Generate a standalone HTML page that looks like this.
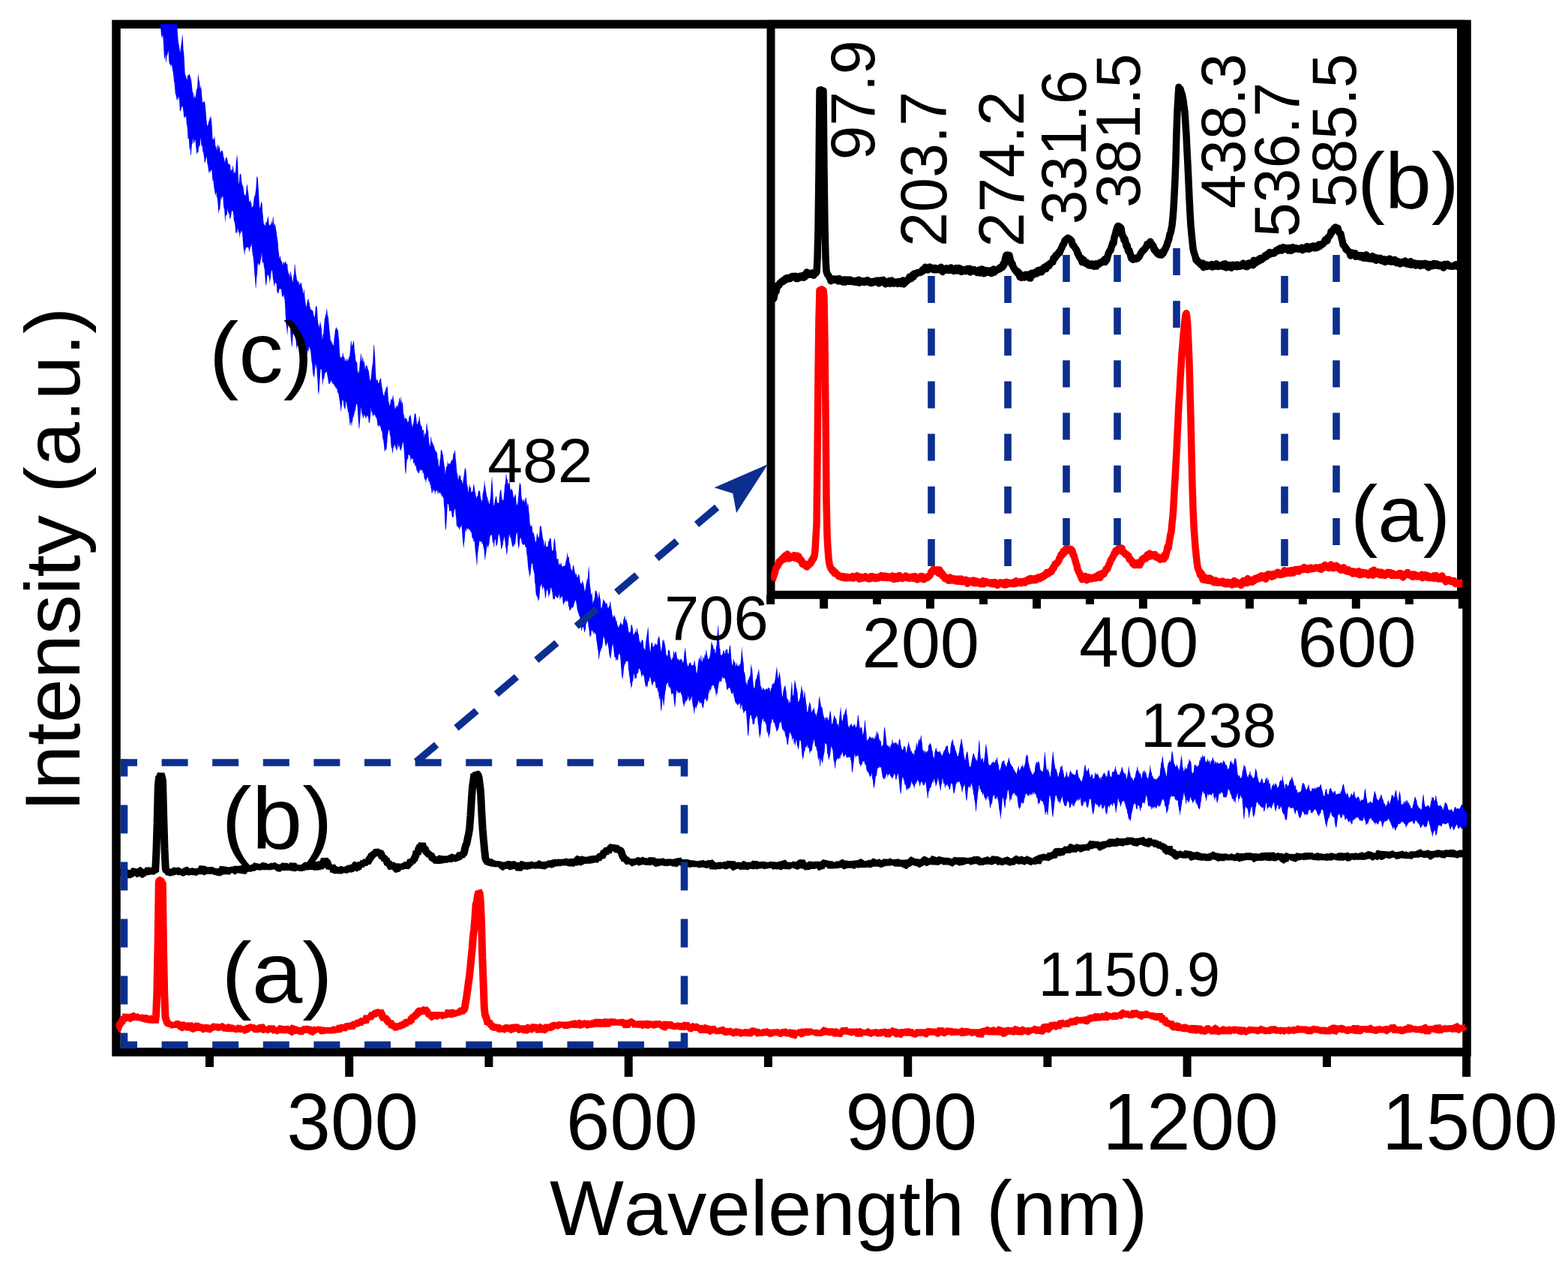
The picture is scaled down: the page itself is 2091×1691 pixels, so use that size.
<!DOCTYPE html>
<html><head><meta charset="utf-8"><title>Raman spectra</title>
<style>html,body{margin:0;padding:0;background:#fff;width:2091px;height:1691px;overflow:hidden}svg{display:block}</style>
</head><body>
<svg width="2091" height="1691" viewBox="0 0 2091 1691">
<defs><clipPath id="cm"><rect x="155" y="32.3" width="1801" height="1370.7"/></clipPath><clipPath id="ci"><rect x="1028" y="32.3" width="922.3" height="761.0"/></clipPath></defs>
<rect width="100%" height="100%" fill="#fff"/>
<rect x="155" y="32.3" width="1801" height="1370.7" fill="none" stroke="#000" stroke-width="11.5"/>
<rect x="1028" y="32.3" width="920.5" height="761.0" fill="none" stroke="#000" stroke-width="11"/>
<g stroke="#000" stroke-width="11"><line x1="279.5" y1="1403" x2="279.5" y2="1423"/><line x1="465.7" y1="1403" x2="465.7" y2="1436"/><line x1="651.9" y1="1403" x2="651.9" y2="1423"/><line x1="838.2" y1="1403" x2="838.2" y2="1436"/><line x1="1024.4" y1="1403" x2="1024.4" y2="1423"/><line x1="1210.7" y1="1403" x2="1210.7" y2="1436"/><line x1="1396.9" y1="1403" x2="1396.9" y2="1423"/><line x1="1583.1" y1="1403" x2="1583.1" y2="1436"/><line x1="1769.4" y1="1403" x2="1769.4" y2="1423"/><line x1="1955.6" y1="1403" x2="1955.6" y2="1436"/><line x1="1027.6" y1="793.3" x2="1027.6" y2="805.9"/><line x1="1098.6" y1="793.3" x2="1098.6" y2="811.6"/><line x1="1169.5" y1="793.3" x2="1169.5" y2="805.9"/><line x1="1240.5" y1="793.3" x2="1240.5" y2="811.6"/><line x1="1311.5" y1="793.3" x2="1311.5" y2="805.9"/><line x1="1382.5" y1="793.3" x2="1382.5" y2="811.6"/><line x1="1453.4" y1="793.3" x2="1453.4" y2="805.9"/><line x1="1524.4" y1="793.3" x2="1524.4" y2="811.6"/><line x1="1595.4" y1="793.3" x2="1595.4" y2="805.9"/><line x1="1666.4" y1="793.3" x2="1666.4" y2="811.6"/><line x1="1737.3" y1="793.3" x2="1737.3" y2="805.9"/><line x1="1808.3" y1="793.3" x2="1808.3" y2="811.6"/><line x1="1879.3" y1="793.3" x2="1879.3" y2="805.9"/><line x1="1950.3" y1="793.3" x2="1950.3" y2="811.6"/></g>
<g clip-path="url(#cm)" fill="none" stroke-linejoin="bevel">
<path d="M205 -93.6L205.6 -94.7L206.2 -99.6L206.8 -91.8L207.4 -90.9L208 -88.9L208.6 -87.7L209.2 -89.8L209.8 -89.9L210.4 -82.1L211 -84.6L211.6 -73.2L212.2 -63.8L212.8 -56.7L213.4 -50.4L214 -44.3L214.6 -51.8L215.2 -57.3L215.8 -55.1L216.4 -58.5L217 -52.3L217.6 -39.6L218.2 -23.4L218.8 -19.1L219.4 -15.2L220 -12.5L220.6 -8.8L221.2 -10.5L221.8 -6.2L222.4 -0.1L223 -2.9L223.6 -4.3L224.2 -1.2L224.8 5.1L225.4 6.1L226 8.2L226.6 11.4L227.2 14.5L227.8 13.2L228.4 16.1L229 16.6L229.6 9.4L230.2 2L230.8 -0.1L231.4 -5.9L232 -5.3L232.6 0.3L233.2 15.8L233.8 23.5L234.4 32.7L235 24.5L235.6 21.1L236.2 31.2L236.8 42.6L237.4 51L238 57.3L238.6 59.7L239.2 63L239.8 67.3L240.4 70L241 62.9L241.6 59.7L242.2 55.2L242.8 49.4L243.4 45.2L244 54.5L244.6 66.7L245.2 70.7L245.8 78.9L246.4 93.8L247 101.4L247.6 98.6L248.2 103.3L248.8 104.4L249.4 107.2L250 99.9L250.6 101.8L251.2 98.9L251.8 100.7L252.4 97.8L253 100.4L253.6 101L254.2 104.3L254.8 105.5L255.4 109.1L256 115.1L256.6 122L257.2 123L257.8 124.7L258.4 130.5L259 130L259.6 125.4L260.2 128.3L260.8 132L261.4 124.2L262 118.9L262.6 118.8L263.2 116.7L263.8 103.7L264.4 97.4L265 104.6L265.6 107.6L266.2 110L266.8 117.8L267.4 117.7L268 113.3L268.6 119.4L269.2 126.4L269.8 133.9L270.4 137.6L271 136.3L271.6 135.3L272.2 135.2L272.8 135.2L273.4 138.1L274 142.9L274.6 150L275.2 158.8L275.8 163.5L276.4 168.4L277 167L277.6 166L278.2 161.3L278.8 162.3L279.4 156.3L280 160.5L280.6 154.9L281.2 154.9L281.8 158.4L282.4 163.6L283 175.1L283.6 185.6L284.2 186.5L284.8 184L285.4 186.4L286 180.7L286.6 184.5L287.2 193.4L287.8 196.6L288.4 193.8L289 201.3L289.6 197.2L290.2 193.3L290.8 192.5L291.4 199.2L292 194L292.6 194.9L293.2 198.6L293.8 203.8L294.4 203L295 200.9L295.6 200.8L296.2 201.4L296.8 201L297.4 203.7L298 208.7L298.6 209.8L299.2 213.1L299.8 216.7L300.4 213.8L301 209.5L301.6 210.2L302.2 209.9L302.8 210.9L303.4 213.7L304 217.5L304.6 218.2L305.2 219.5L305.8 218.6L306.4 220.4L307 218.1L307.6 228.5L308.2 227.1L308.8 225.5L309.4 227.4L310 224L310.6 219.9L311.2 224.5L311.8 232.6L312.4 226.9L313 230.8L313.6 230.8L314.2 226.7L314.8 216.8L315.4 210.7L316 205.6L316.6 210.4L317.2 219.6L317.8 234.7L318.4 246.6L319 241L319.6 232.9L320.2 231.6L320.8 232.4L321.4 232.2L322 239.5L322.6 244.4L323.2 246L323.8 247.9L324.4 248.9L325 253.6L325.6 259.3L326.2 260.3L326.8 258.4L327.4 262.1L328 258.3L328.6 250.3L329.2 247L329.8 245.3L330.4 252L331 256.6L331.6 260.3L332.2 267.6L332.8 269.3L333.4 268.5L334 265.5L334.6 271.6L335.2 269.5L335.8 276.9L336.4 276.5L337 274.5L337.6 274.9L338.2 269.5L338.8 263.7L339.4 261.6L340 261.3L340.6 256.8L341.2 253L341.8 244.9L342.4 233.9L343 237L343.6 235.7L344.2 244.8L344.8 252.2L345.4 264.1L346 274L346.6 278.1L347.2 275.5L347.8 271.9L348.4 270.1L349 268.6L349.6 272.6L350.2 282.3L350.8 287.9L351.4 295.6L352 300.3L352.6 298.2L353.2 301.1L353.8 300.4L354.4 296.2L355 295.8L355.6 297.2L356.2 294.1L356.8 291.1L357.4 287.5L358 291.7L358.6 298.4L359.2 299.5L359.8 301.3L360.4 299.4L361 299.9L361.6 296.6L362.2 293.2L362.8 299.3L363.4 296.7L364 288.9L364.6 289.7L365.2 297.8L365.8 301.5L366.4 298L367 299.8L367.6 302.7L368.2 306.8L368.8 309.7L369.4 314.9L370 318.8L370.6 322.5L371.2 332.7L371.8 336.3L372.4 342.8L373 345L373.6 340.3L374.2 343L374.8 347.9L375.4 348.2L376 347.9L376.6 352.4L377.2 352.9L377.8 349.8L378.4 349.8L379 349.5L379.6 352.7L380.2 348.4L380.8 348.5L381.4 350L382 351.7L382.6 352.4L383.2 351.4L383.8 360L384.4 361.9L385 365.6L385.6 364.8L386.2 370L386.8 364.8L387.4 361.6L388 363.9L388.6 367.7L389.2 369L389.8 373.7L390.4 376.6L391 371.4L391.6 366.4L392.2 365.5L392.8 352.9L393.4 352.5L394 359.6L394.6 364.8L395.2 367.5L395.8 372.6L396.4 373.8L397 376.5L397.6 374.7L398.2 374.4L398.8 378.5L399.4 380.8L400 376.2L400.6 378.9L401.2 376.2L401.8 378L402.4 380.1L403 384.5L403.6 385L404.2 391.1L404.8 390.7L405.4 384.9L406 389.1L406.6 397.2L407.2 401.9L407.8 405L408.4 410.1L409 406.6L409.6 403.3L410.2 398.3L410.8 400.8L411.4 397.8L412 403.7L412.6 402.7L413.2 410.3L413.8 408.2L414.4 414.2L415 411.6L415.6 413.8L416.2 412.8L416.8 414.9L417.4 414.6L418 418.2L418.6 420.9L419.2 423.3L419.8 421.9L420.4 415.3L421 408.6L421.6 408.2L422.2 409L422.8 409.5L423.4 419.8L424 429.2L424.6 432.8L425.2 433.6L425.8 437.1L426.4 432.3L427 427.4L427.6 432.1L428.2 434.3L428.8 438.2L429.4 446.7L430 453.5L430.6 445.8L431.2 445.8L431.8 438.7L432.4 430.6L433 424.3L433.6 423.1L434.2 419L434.8 418.9L435.4 412.9L436 411.6L436.6 417.9L437.2 422L437.8 422.2L438.4 429.6L439 435.9L439.6 441.9L440.2 447.6L440.8 454.1L441.4 455.8L442 452.5L442.6 457.8L443.2 456.9L443.8 459.7L444.4 460.4L445 459.9L445.6 451L446.2 447.2L446.8 441.8L447.4 437.6L448 439.3L448.6 435.3L449.2 438L449.8 438.8L450.4 440.1L451 442.4L451.6 449.3L452.2 453.8L452.8 465.9L453.4 474.1L454 477.8L454.6 476.3L455.2 477.3L455.8 474.4L456.4 476.5L457 471L457.6 470.5L458.2 475.9L458.8 475.5L459.4 476.8L460 482.5L460.6 479.5L461.2 478L461.8 480.9L462.4 482.3L463 476.8L463.6 481.4L464.2 477.8L464.8 481.3L465.4 474.3L466 477.4L466.6 470.9L467.2 465.4L467.8 455.3L468.4 454.3L469 458.8L469.6 461.8L470.2 459.5L470.8 456.8L471.4 453.9L472 455.6L472.6 464.5L473.2 470.8L473.8 473.6L474.4 482.5L475 480.5L475.6 483.6L476.2 483.3L476.8 494.4L477.4 495.1L478 498.3L478.6 495.8L479.2 493L479.8 483.6L480.4 481.6L481 471.8L481.6 471.4L482.2 478.4L482.8 482.5L483.4 475.5L484 475.8L484.6 482.9L485.2 481.6L485.8 483.1L486.4 486.5L487 493.6L487.6 488.8L488.2 486.8L488.8 487.6L489.4 488.3L490 489.3L490.6 492.3L491.2 493.1L491.8 495.2L492.4 500.6L493 503.7L493.6 507L494.2 508L494.8 503L495.4 497.7L496 490.4L496.6 486.5L497.2 484.4L497.8 470L498.4 460.8L499 459.4L499.6 469.8L500.2 476.9L500.8 492.4L501.4 503.1L502 508.5L502.6 506.2L503.2 506.3L503.8 507.1L504.4 511.3L505 511.1L505.6 509.7L506.2 505L506.8 507.5L507.4 504.8L508 503.7L508.6 510.1L509.2 515.8L509.8 517.5L510.4 522.2L511 526.1L511.6 526.8L512.2 528.4L512.8 523.6L513.4 521.9L514 521L514.6 517.7L515.2 515.3L515.8 517.6L516.4 513.7L517 519.3L517.6 528.3L518.2 536L518.8 536.2L519.4 540.8L520 540.4L520.6 536.8L521.2 531.9L521.8 532.4L522.4 533.3L523 532.7L523.6 528.4L524.2 526.6L524.8 532.3L525.4 534.3L526 539.4L526.6 544.3L527.2 545.7L527.8 541.6L528.4 543.8L529 541.3L529.6 539.4L530.2 543.3L530.8 540.1L531.4 537.4L532 534.2L532.6 529.9L533.2 531.5L533.8 536.7L534.4 533.1L535 527.6L535.6 539L536.2 536.3L536.8 536.6L537.4 541L538 553L538.6 551.7L539.2 555.7L539.8 560.5L540.4 556.2L541 557.6L541.6 558.1L542.2 559.7L542.8 558.3L543.4 562.7L544 562.5L544.6 562.8L545.2 557.5L545.8 554.6L546.4 556.3L547 552.4L547.6 553.8L548.2 557.5L548.8 563.7L549.4 565.9L550 570.3L550.6 566L551.2 565.8L551.8 559.7L552.4 555.3L553 551L553.6 551.9L554.2 550.9L554.8 554.5L555.4 559.8L556 565.4L556.6 566.1L557.2 563.8L557.8 561.4L558.4 561.8L559 554.5L559.6 555.9L560.2 562.5L560.8 566.7L561.4 566.5L562 568.9L562.6 568.4L563.2 573.7L563.8 574.3L564.4 572.6L565 573.8L565.6 584L566.2 579.4L566.8 576.3L567.4 579.1L568 578.8L568.6 566.2L569.2 564L569.8 567.8L570.4 574.5L571 573.5L571.6 582.6L572.2 589.5L572.8 593.5L573.4 595.4L574 590L574.6 581.7L575.2 583.8L575.8 589.8L576.4 589.1L577 590.9L577.6 592.4L578.2 595.8L578.8 592.3L579.4 597.8L580 599.4L580.6 600.4L581.2 601.7L581.8 602.8L582.4 602.7L583 604.2L583.6 613.1L584.2 611L584.8 618.6L585.4 622.2L586 621.4L586.6 614L587.2 611.7L587.8 601.8L588.4 598.8L589 601L589.6 601.6L590.2 606.3L590.8 605.5L591.4 613L592 616.1L592.6 622.1L593.2 623.1L593.8 633.2L594.4 627.5L595 623.5L595.6 620.9L596.2 622.9L596.8 614.3L597.4 618.3L598 617.8L598.6 619L599.2 617L599.8 620.1L600.4 618.1L601 616.8L601.6 615L602.2 613.7L602.8 613.4L603.4 613.4L604 610.3L604.6 604.9L605.2 604.7L605.8 603.7L606.4 600.6L607 601L607.6 610.9L608.2 616.1L608.8 623.2L609.4 630.9L610 631.3L610.6 637.4L611.2 640.3L611.8 634.1L612.4 633L613 636.2L613.6 634.5L614.2 632.4L614.8 640.4L615.4 640.1L616 640.9L616.6 644.3L617.2 645L617.8 638.7L618.4 635.6L619 631.2L619.6 626L620.2 624.4L620.8 624.1L621.4 627.4L622 632.6L622.6 644.8L623.2 647.7L623.8 648.9L624.4 654.9L625 656.5L625.6 645.5L626.2 646.4L626.8 650.9L627.4 648.6L628 651.6L628.6 657.3L629.2 654.9L629.8 656.1L630.4 654.7L631 649.5L631.6 645.5L632.2 646.1L632.8 650.5L633.4 655.2L634 656.7L634.6 660.6L635.2 665.3L635.8 662L636.4 661.4L637 661.8L637.6 656.9L638.2 653.9L638.8 654.5L639.4 655.3L640 654.1L640.6 661.1L641.2 664.4L641.8 666.7L642.4 667.1L643 670.1L643.6 658.9L644.2 657.1L644.8 653.3L645.4 649.2L646 639.2L646.6 646.1L647.2 649.1L647.8 652.7L648.4 656.8L649 661L649.6 662.8L650.2 663.8L650.8 668.5L651.4 666.4L652 672.3L652.6 671.2L653.2 669.5L653.8 664.6L654.4 659.8L655 646.4L655.6 641.1L656.2 635.1L656.8 648.3L657.4 657.3L658 669.4L658.6 674.9L659.2 672.8L659.8 668L660.4 665.4L661 663.2L661.6 660.7L662.2 663.3L662.8 668.2L663.4 671.2L664 670.2L664.6 670.8L665.2 671L665.8 663.7L666.4 658.1L667 654.3L667.6 653.7L668.2 652.5L668.8 659.3L669.4 664.1L670 667.7L670.6 665.5L671.2 668.3L671.8 662.3L672.4 656.3L673 647.2L673.6 645.8L674.2 639.9L674.8 632.1L675.4 633L676 638.8L676.6 638.7L677.2 642.3L677.8 646.9L678.4 644.3L679 643.7L679.6 643.1L680.2 649.8L680.8 653.4L681.4 653.8L682 651.4L682.6 651.9L683.2 654.3L683.8 655.6L684.4 660.5L685 663.7L685.6 663.5L686.2 661.1L686.8 659.7L687.4 658.2L688 663.1L688.6 671L689.2 672.5L689.8 673.9L690.4 670.6L691 663.9L691.6 657.7L692.2 650L692.8 644.2L693.4 644L694 645.6L694.6 647.1L695.2 659.1L695.8 664.7L696.4 666.6L697 667.8L697.6 669L698.2 665.7L698.8 665.6L699.4 668.9L700 669.7L700.6 664.9L701.2 663.2L701.8 663.9L702.4 669L703 676.4L703.6 670.9L704.2 671.3L704.8 675.4L705.4 682.6L706 687.8L706.6 698L707.2 700L707.8 702.2L708.4 702.2L709 699.1L709.6 702.1L710.2 710L710.8 709.6L711.4 710.6L712 711.9L712.6 714.7L713.2 716.5L713.8 722L714.4 723L715 721.1L715.6 715.1L716.2 710.7L716.8 712.3L717.4 714.8L718 716.7L718.6 717.1L719.2 713.5L719.8 703.2L720.4 700.5L721 702.3L721.6 701.2L722.2 706L722.8 709.8L723.4 714.1L724 718.2L724.6 720.6L725.2 721.5L725.8 728.8L726.4 726.8L727 720.2L727.6 722.2L728.2 728.5L728.8 729.8L729.4 728L730 729.2L730.6 728.2L731.2 722.5L731.8 721.5L732.4 721.1L733 717.6L733.6 717.9L734.2 718.3L734.8 718.9L735.4 727L736 732.3L736.6 734.9L737.2 734.5L737.8 732.5L738.4 724L739 718.2L739.6 717.9L740.2 720.9L740.8 728.1L741.4 733.7L742 736.9L742.6 746.2L743.2 744.9L743.8 746L744.4 744.3L745 754.3L745.6 750.4L746.2 753L746.8 752.2L747.4 753.2L748 750.1L748.6 751.1L749.2 754.9L749.8 754.6L750.4 756.2L751 755L751.6 754.8L752.2 754.4L752.8 754.6L753.4 754.7L754 751.6L754.6 748.4L755.2 746L755.8 744.5L756.4 736.1L757 740.1L757.6 742.8L758.2 742.6L758.8 743.7L759.4 750.9L760 750.5L760.6 753.5L761.2 758.1L761.8 759.5L762.4 759L763 762.4L763.6 757.3L764.2 753.1L764.8 754.5L765.4 755.6L766 759.6L766.6 762.4L767.2 767.9L767.8 763.6L768.4 766.1L769 765.2L769.6 771.2L770.2 767.5L770.8 770.2L771.4 764.9L772 766.2L772.6 767.1L773.2 772.1L773.8 776.4L774.4 777.5L775 779.2L775.6 778L776.2 776L776.8 773.7L777.4 777.1L778 777.8L778.6 780.8L779.2 784.4L779.8 789.2L780.4 786.8L781 783.1L781.6 778.9L782.2 776.4L782.8 772.1L783.4 773.4L784 768.3L784.6 759.6L785.2 754.8L785.8 761.7L786.4 776.5L787 782.2L787.6 785.9L788.2 794.1L788.8 791.5L789.4 790L790 796.5L790.6 806L791.2 800.9L791.8 802.1L792.4 799.2L793 796.4L793.6 788.6L794.2 787.4L794.8 787.4L795.4 788.2L796 791.2L796.6 792L797.2 795.4L797.8 798.4L798.4 793.7L799 788.1L799.6 792.4L800.2 797.5L800.8 799.5L801.4 809L802 812L802.6 809.8L803.2 806.3L803.8 803.8L804.4 797.9L805 801.2L805.6 800.2L806.2 801.2L806.8 802.8L807.4 805.9L808 803.5L808.6 803.7L809.2 805L809.8 806.1L810.4 809.4L811 811.5L811.6 810.1L812.2 808L812.8 808.5L813.4 802.9L814 801.4L814.6 806.9L815.2 811.9L815.8 813.1L816.4 820.1L817 820.6L817.6 823.9L818.2 822.1L818.8 821.2L819.4 819.9L820 822.8L820.6 823.4L821.2 826L821.8 828.7L822.4 827.8L823 832.1L823.6 834.1L824.2 835.5L824.8 836.8L825.4 835.9L826 833.8L826.6 833.1L827.2 831.6L827.8 828.6L828.4 833.3L829 830L829.6 833L830.2 833.9L830.8 831.7L831.4 825.5L832 825.9L832.6 822.3L833.2 820.6L833.8 824.5L834.4 827.9L835 826.6L835.6 825.9L836.2 831.4L836.8 830.3L837.4 835.5L838 839.8L838.6 843.5L839.2 842.7L839.8 844.2L840.4 842.3L841 840.5L841.6 832.8L842.2 833.8L842.8 832.9L843.4 836.5L844 838.9L844.6 848.2L845.2 844.5L845.8 845.9L846.4 843.8L847 843.2L847.6 838.4L848.2 843.2L848.8 842.9L849.4 837.3L850 838.3L850.6 843L851.2 845.5L851.8 846.1L852.4 852.7L853 855.4L853.6 856.8L854.2 854.8L854.8 858.8L855.4 854.7L856 853.7L856.6 852.7L857.2 853.6L857.8 855.9L858.4 864L859 864.9L859.6 865.1L860.2 867.9L860.8 860.1L861.4 855.1L862 850.6L862.6 847.1L863.2 843.1L863.8 838.3L864.4 835.8L865 846.4L865.6 857.7L866.2 861.1L866.8 868.3L867.4 868.7L868 861.5L868.6 857.6L869.2 856.7L869.8 857.3L870.4 860L871 863.3L871.6 862.2L872.2 861.4L872.8 860.8L873.4 856.9L874 859.4L874.6 859L875.2 859.1L875.8 860.8L876.4 859.1L877 853.7L877.6 850.6L878.2 850.5L878.8 847.4L879.4 850L880 854.3L880.6 860.9L881.2 864.6L881.8 869.2L882.4 865.6L883 859.9L883.6 852.9L884.2 853L884.8 856L885.4 852.4L886 856.6L886.6 859L887.2 862.3L887.8 866.2L888.4 873.2L889 873L889.6 874.9L890.2 875.6L890.8 868.2L891.4 866L892 867.7L892.6 866.7L893.2 868.9L893.8 876L894.4 876.7L895 879.1L895.6 880.6L896.2 879.3L896.8 876.1L897.4 878L898 870.1L898.6 868.1L899.2 870.1L899.8 873.5L900.4 869.4L901 869.7L901.6 868.3L902.2 872.2L902.8 876L903.4 879.4L904 878.5L904.6 877.9L905.2 880.2L905.8 881.2L906.4 878.4L907 880.5L907.6 879L908.2 879.4L908.8 877.8L909.4 882.3L910 879.6L910.6 884.5L911.2 883L911.8 880.4L912.4 870.6L913 868.8L913.6 864L914.2 865.1L914.8 872.6L915.4 878.1L916 883.7L916.6 885.8L917.2 888.7L917.8 888.3L918.4 886.9L919 882.8L919.6 885.6L920.2 884.6L920.8 882.8L921.4 883.9L922 887.7L922.6 887.1L923.2 887.5L923.8 886.7L924.4 886.8L925 886.4L925.6 881.8L926.2 880.4L926.8 883.3L927.4 888.4L928 888.5L928.6 897.1L929.2 897.7L929.8 895.2L930.4 888.6L931 884L931.6 880L932.2 878.4L932.8 875.5L933.4 879.9L934 879.9L934.6 873L935.2 874.8L935.8 882.8L936.4 881.9L937 879.7L937.6 874.6L938.2 878.3L938.8 878.5L939.4 874.6L940 871.5L940.6 875.5L941.2 870L941.8 865.6L942.4 870.1L943 872.8L943.6 876L944.2 879L944.8 879L945.4 878.2L946 877.2L946.6 874.7L947.2 871.5L947.8 865.8L948.4 858.5L949 854L949.6 858.6L950.2 860.4L950.8 860.3L951.4 864L952 866.4L952.6 865.1L953.2 866L953.8 870.6L954.4 871.6L955 862.4L955.6 861.2L956.2 848.7L956.8 843L957.4 835.5L958 833.4L958.6 845.5L959.2 856.1L959.8 865.1L960.4 865.3L961 874.4L961.6 872.8L962.2 873.6L962.8 874.1L963.4 872.5L964 870.2L964.6 866.6L965.2 867.9L965.8 867.7L966.4 872.6L967 870.7L967.6 867L968.2 866.6L968.8 865.6L969.4 866.4L970 865.1L970.6 871.1L971.2 872.4L971.8 870.7L972.4 865.2L973 860.7L973.6 860.4L974.2 862.8L974.8 871.7L975.4 878.9L976 884.4L976.6 886.5L977.2 887.7L977.8 879.5L978.4 878.8L979 882.5L979.6 882.8L980.2 882.7L980.8 888.9L981.4 887.2L982 882.7L982.6 885.5L983.2 888.8L983.8 887L984.4 885.5L985 889L985.6 888.3L986.2 886.7L986.8 885L987.4 885.6L988 879.9L988.6 871.1L989.2 861.4L989.8 869.8L990.4 874.9L991 880.7L991.6 883.9L992.2 896.3L992.8 896.2L993.4 898.4L994 903L994.6 910.8L995.2 909.1L995.8 912.6L996.4 913.8L997 908.4L997.6 906.7L998.2 906.2L998.8 904.6L999.4 901.2L1000 904.1L1000.6 897.9L1001.2 888.9L1001.8 885.1L1002.4 891.1L1003 891.1L1003.6 897.7L1004.2 907.7L1004.8 914.3L1005.4 916.7L1006 918.5L1006.6 916L1007.2 909.1L1007.8 906.4L1008.4 905.1L1009 905.1L1009.6 900.1L1010.2 900.3L1010.8 896L1011.4 895.6L1012 890.4L1012.6 898.4L1013.2 903.4L1013.8 910.6L1014.4 914.7L1015 915.3L1015.6 917.3L1016.2 920.5L1016.8 919.5L1017.4 916.6L1018 918.1L1018.6 918.3L1019.2 919.1L1019.8 920.3L1020.4 920.1L1021 920.3L1021.6 918L1022.2 918.1L1022.8 918.8L1023.4 919.6L1024 918.3L1024.6 916.8L1025.2 917.3L1025.8 916.9L1026.4 918.1L1027 923.7L1027.6 920.1L1028.2 917.7L1028.8 918L1029.4 913.4L1030 911L1030.6 912.7L1031.2 912.7L1031.8 910.1L1032.4 911.7L1033 908.5L1033.6 906.3L1034.2 901.1L1034.8 896.8L1035.4 892.3L1036 888.7L1036.6 895.2L1037.2 901L1037.8 905.2L1038.4 902.5L1039 897.2L1039.6 895.9L1040.2 900.2L1040.8 905.3L1041.4 912.2L1042 917.3L1042.6 922.9L1043.2 929.3L1043.8 928.3L1044.4 921.4L1045 919.9L1045.6 916.9L1046.2 915.7L1046.8 914.1L1047.4 915L1048 918.9L1048.6 922.2L1049.2 929.2L1049.8 932.3L1050.4 932.5L1051 932.3L1051.6 938.8L1052.2 932.3L1052.8 935.3L1053.4 938.1L1054 934.5L1054.6 924.6L1055.2 916.2L1055.8 908.2L1056.4 913.7L1057 925.4L1057.6 928.7L1058.2 925.6L1058.8 917.7L1059.4 910.3L1060 905.3L1060.6 910.4L1061.2 910.9L1061.8 917.2L1062.4 917.8L1063 922.3L1063.6 923.5L1064.2 935.6L1064.8 936L1065.4 935.1L1066 932.2L1066.6 932.1L1067.2 926.6L1067.8 923L1068.4 917.1L1069 913.2L1069.6 919.4L1070.2 919.9L1070.8 923.2L1071.4 930.5L1072 929.7L1072.6 921.5L1073.2 921.9L1073.8 927.3L1074.4 931.5L1075 938.1L1075.6 940.6L1076.2 948.1L1076.8 949.9L1077.4 948.3L1078 942.5L1078.6 941.6L1079.2 937.6L1079.8 935.7L1080.4 938.5L1081 939.8L1081.6 944.4L1082.2 950.5L1082.8 948.5L1083.4 947.5L1084 945.9L1084.6 946.5L1085.2 943.1L1085.8 945.3L1086.4 947.7L1087 953.5L1087.6 951.4L1088.2 950.5L1088.8 956.2L1089.4 951.8L1090 948.9L1090.6 945.5L1091.2 942.5L1091.8 933.2L1092.4 931.3L1093 927.6L1093.6 933.9L1094.2 936.6L1094.8 941.2L1095.4 942.6L1096 943.7L1096.6 944.1L1097.2 947.9L1097.8 952.6L1098.4 954.6L1099 956.4L1099.6 957.8L1100.2 961L1100.8 955.9L1101.4 956.7L1102 957.3L1102.6 957.6L1103.2 955.2L1103.8 958.4L1104.4 959.9L1105 960.8L1105.6 956L1106.2 952.4L1106.8 948.5L1107.4 948.1L1108 951.3L1108.6 957.8L1109.2 964.7L1109.8 966.2L1110.4 963.4L1111 960.4L1111.6 957.8L1112.2 952.9L1112.8 955.4L1113.4 955.8L1114 957.3L1114.6 958.3L1115.2 958.6L1115.8 962.5L1116.4 966.9L1117 965.2L1117.6 964.8L1118.2 970.3L1118.8 963.8L1119.4 956.4L1120 951L1120.6 947L1121.2 941.4L1121.8 951L1122.4 957.4L1123 961.7L1123.6 960.9L1124.2 958.1L1124.8 951.3L1125.4 953L1126 953.4L1126.6 948.9L1127.2 948.2L1127.8 945.6L1128.4 943.5L1129 949.7L1129.6 953.7L1130.2 957.8L1130.8 965.6L1131.4 969.2L1132 967.3L1132.6 970.7L1133.2 968.5L1133.8 966.5L1134.4 966.3L1135 966.4L1135.6 963.7L1136.2 969L1136.8 967.7L1137.4 969.2L1138 967L1138.6 966.9L1139.2 964.1L1139.8 967.6L1140.4 966.9L1141 968.8L1141.6 970.7L1142.2 968.6L1142.8 965.5L1143.4 959.9L1144 953.7L1144.6 953.6L1145.2 958.1L1145.8 963.4L1146.4 969.7L1147 972.4L1147.6 968.9L1148.2 971.6L1148.8 968.7L1149.4 970.7L1150 974.9L1150.6 980.2L1151.2 978.2L1151.8 974.9L1152.4 970.4L1153 962.7L1153.6 959.3L1154.2 966.1L1154.8 973.5L1155.4 977.6L1156 986.4L1156.6 988.2L1157.2 985.1L1157.8 986.2L1158.4 985.5L1159 982.4L1159.6 982.2L1160.2 983.3L1160.8 981.8L1161.4 984.2L1162 984.9L1162.6 983.2L1163.2 982.7L1163.8 984L1164.4 986.2L1165 982.7L1165.6 985.3L1166.2 985.8L1166.8 982.6L1167.4 979.4L1168 984.9L1168.6 978.5L1169.2 974.2L1169.8 976.4L1170.4 979.8L1171 976.6L1171.6 980L1172.2 984.3L1172.8 986.4L1173.4 986.5L1174 988.6L1174.6 987.8L1175.2 992.3L1175.8 996.4L1176.4 993.8L1177 995.1L1177.6 992.1L1178.2 984.2L1178.8 973.6L1179.4 969.9L1180 969.6L1180.6 975.5L1181.2 979.5L1181.8 984.8L1182.4 990.7L1183 994.2L1183.6 993.7L1184.2 994.2L1184.8 995.7L1185.4 996.2L1186 992.5L1186.6 996.6L1187.2 997.7L1187.8 993.8L1188.4 992.9L1189 992.1L1189.6 986.9L1190.2 985.3L1190.8 992.5L1191.4 990.2L1192 990.4L1192.6 990.9L1193.2 992.1L1193.8 989.8L1194.4 990.4L1195 989L1195.6 992.4L1196.2 992.3L1196.8 990.6L1197.4 994.8L1198 992.7L1198.6 988.6L1199.2 985L1199.8 986.8L1200.4 985.6L1201 992.6L1201.6 994.3L1202.2 997.7L1202.8 999.1L1203.4 1000.8L1204 999.2L1204.6 998.2L1205.2 995.1L1205.8 995.2L1206.4 995.2L1207 996L1207.6 997L1208.2 1002.2L1208.8 1004.5L1209.4 1000.1L1210 995.8L1210.6 993.9L1211.2 991.5L1211.8 988.1L1212.4 993L1213 994.8L1213.6 996.9L1214.2 998.3L1214.8 1002.2L1215.4 1001.5L1216 1001.5L1216.6 1005.2L1217.2 1005L1217.8 1003.9L1218.4 1005.1L1219 1008L1219.6 1000.3L1220.2 1000.5L1220.8 1000.5L1221.4 995.9L1222 990.7L1222.6 990.8L1223.2 997.6L1223.8 993.1L1224.4 990.8L1225 986.7L1225.6 987.4L1226.2 983.4L1226.8 988.8L1227.4 985.8L1228 980.4L1228.6 981.3L1229.2 987.7L1229.8 991.3L1230.4 999.4L1231 1000.6L1231.6 1001.4L1232.2 1000.9L1232.8 1005L1233.4 999.7L1234 1002.6L1234.6 1002.6L1235.2 1004.7L1235.8 1000.9L1236.4 1002.7L1237 1001.2L1237.6 1001.8L1238.2 993.4L1238.8 993.5L1239.4 993.5L1240 990.1L1240.6 992.1L1241.2 991.9L1241.8 993.5L1242.4 996.3L1243 1001.5L1243.6 1000.3L1244.2 1006.4L1244.8 1009.7L1245.4 1011.2L1246 1008.6L1246.6 1002.7L1247.2 1000.4L1247.8 998.3L1248.4 997.1L1249 999.5L1249.6 1001.7L1250.2 1002.7L1250.8 1002L1251.4 1003L1252 1002.8L1252.6 1002.5L1253.2 1000.8L1253.8 1002.7L1254.4 1004.4L1255 1004.5L1255.6 1006.4L1256.2 1008.1L1256.8 1006.9L1257.4 1005.1L1258 1003.6L1258.6 1001.3L1259.2 1001.3L1259.8 999.9L1260.4 998.8L1261 996.7L1261.6 994.7L1262.2 994.7L1262.8 995.4L1263.4 993.5L1264 995.7L1264.6 1001.8L1265.2 1003.2L1265.8 1005.2L1266.4 1005.6L1267 1005L1267.6 996.8L1268.2 992.9L1268.8 988.9L1269.4 989L1270 985.2L1270.6 986.4L1271.2 989.3L1271.8 993.9L1272.4 993.5L1273 995.2L1273.6 997.2L1274.2 1001.2L1274.8 1000.4L1275.4 1003.8L1276 1005.1L1276.6 1008.7L1277.2 1008.1L1277.8 1007.9L1278.4 1004.7L1279 1003.1L1279.6 998.5L1280.2 993.8L1280.8 991.7L1281.4 988.5L1282 984.4L1282.6 985.8L1283.2 990.4L1283.8 994.5L1284.4 997.4L1285 1003L1285.6 1007.5L1286.2 1010.5L1286.8 1013.3L1287.4 1013.8L1288 1008L1288.6 1004.9L1289.2 1003.1L1289.8 1002.2L1290.4 1002.9L1291 1008L1291.6 1012.9L1292.2 1016.9L1292.8 1021.2L1293.4 1022.4L1294 1023.3L1294.6 1021.1L1295.2 1018.1L1295.8 1014.1L1296.4 1011.3L1297 1007.8L1297.6 1005.2L1298.2 1004.6L1298.8 1004.4L1299.4 1007.8L1300 1009.1L1300.6 1011.1L1301.2 1012.8L1301.8 1012.3L1302.4 1013.5L1303 1015.5L1303.6 1011.1L1304.2 1004.2L1304.8 999.6L1305.4 987.6L1306 987.6L1306.6 993L1307.2 1004L1307.8 1010L1308.4 1014.6L1309 1010.6L1309.6 1012.6L1310.2 1010.4L1310.8 1011.6L1311.4 1016.7L1312 1016.3L1312.6 1011.4L1313.2 1007L1313.8 1001.4L1314.4 994.1L1315 992.2L1315.6 995.8L1316.2 1000.3L1316.8 1004.7L1317.4 1009.2L1318 1015.8L1318.6 1019.8L1319.2 1020.5L1319.8 1019.3L1320.4 1021.6L1321 1019.6L1321.6 1019.9L1322.2 1017.6L1322.8 1017.5L1323.4 1015.7L1324 1017.5L1324.6 1016.1L1325.2 1014.8L1325.8 1017.1L1326.4 1017.8L1327 1016.2L1327.6 1012.9L1328.2 1014.3L1328.8 1012.9L1329.4 1008.9L1330 1011.6L1330.6 1016.1L1331.2 1020L1331.8 1018.8L1332.4 1025.6L1333 1027.7L1333.6 1026.8L1334.2 1024.1L1334.8 1023.2L1335.4 1018.7L1336 1017.5L1336.6 1015.6L1337.2 1014.5L1337.8 1015.7L1338.4 1014.6L1339 1012.8L1339.6 1017.3L1340.2 1020.6L1340.8 1018.8L1341.4 1020.2L1342 1023.8L1342.6 1020.8L1343.2 1017.1L1343.8 1016.8L1344.4 1013.8L1345 1011.7L1345.6 1009.4L1346.2 1014.5L1346.8 1015.5L1347.4 1018.7L1348 1017.9L1348.6 1021L1349.2 1020.4L1349.8 1022.3L1350.4 1022.6L1351 1023.5L1351.6 1025.6L1352.2 1025.9L1352.8 1027.8L1353.4 1028.2L1354 1030L1354.6 1029.5L1355.2 1033.1L1355.8 1030.9L1356.4 1028.4L1357 1025.1L1357.6 1024L1358.2 1020L1358.8 1024.3L1359.4 1028.8L1360 1025.9L1360.6 1025.6L1361.2 1024.7L1361.8 1021.5L1362.4 1021.6L1363 1022.9L1363.6 1019.9L1364.2 1019.6L1364.8 1024.8L1365.4 1023.5L1366 1021.4L1366.6 1019.3L1367.2 1017.5L1367.8 1010.8L1368.4 1007.2L1369 1007.5L1369.6 1008L1370.2 1005.6L1370.8 1009.8L1371.4 1015.7L1372 1018.6L1372.6 1020.7L1373.2 1023.7L1373.8 1025.3L1374.4 1027.6L1375 1029.3L1375.6 1029.6L1376.2 1032.8L1376.8 1032.2L1377.4 1032.4L1378 1032.4L1378.6 1030.4L1379.2 1029.8L1379.8 1029.1L1380.4 1021.9L1381 1019.4L1381.6 1018.1L1382.2 1016L1382.8 1016.2L1383.4 1018.4L1384 1015.6L1384.6 1015.6L1385.2 1015.8L1385.8 1016.7L1386.4 1018.5L1387 1024.5L1387.6 1027.3L1388.2 1027.6L1388.8 1026.9L1389.4 1029L1390 1028.5L1390.6 1028.9L1391.2 1026.4L1391.8 1019.8L1392.4 1010.6L1393 1006.5L1393.6 1001.3L1394.2 1008.9L1394.8 1016.7L1395.4 1022.8L1396 1026.2L1396.6 1028.1L1397.2 1024.4L1397.8 1025.9L1398.4 1028.9L1399 1029.1L1399.6 1032.1L1400.2 1036.3L1400.8 1034.8L1401.4 1029.5L1402 1024L1402.6 1015.9L1403.2 1010.4L1403.8 1004.3L1404.4 1001.2L1405 1008.1L1405.6 1013.2L1406.2 1018.2L1406.8 1021L1407.4 1025.7L1408 1024.4L1408.6 1025.7L1409.2 1029.3L1409.8 1029.3L1410.4 1033.2L1411 1035.9L1411.6 1035.2L1412.2 1030.5L1412.8 1031.1L1413.4 1027.2L1414 1023.6L1414.6 1022.4L1415.2 1021.9L1415.8 1022L1416.4 1019.5L1417 1026.7L1417.6 1026.4L1418.2 1030.4L1418.8 1032.6L1419.4 1038.2L1420 1035.3L1420.6 1036.5L1421.2 1034L1421.8 1030.3L1422.4 1027.7L1423 1033.1L1423.6 1034.6L1424.2 1035.7L1424.8 1036.8L1425.4 1035.4L1426 1032.4L1426.6 1030.1L1427.2 1026.4L1427.8 1029.1L1428.4 1029.7L1429 1029.7L1429.6 1032.5L1430.2 1031.8L1430.8 1031.5L1431.4 1033.2L1432 1033.2L1432.6 1031.9L1433.2 1033.5L1433.8 1034L1434.4 1031.2L1435 1028L1435.6 1025.7L1436.2 1026.8L1436.8 1026.2L1437.4 1030.4L1438 1033.1L1438.6 1036.7L1439.2 1037.2L1439.8 1037.5L1440.4 1039.5L1441 1040.7L1441.6 1041L1442.2 1041.6L1442.8 1043L1443.4 1038.7L1444 1035.7L1444.6 1034.6L1445.2 1030.1L1445.8 1025L1446.4 1021.6L1447 1019.6L1447.6 1021.1L1448.2 1025.2L1448.8 1027.2L1449.4 1029.1L1450 1028L1450.6 1026.8L1451.2 1024.2L1451.8 1024.2L1452.4 1029.1L1453 1032.6L1453.6 1033.6L1454.2 1036.1L1454.8 1036.3L1455.4 1032.7L1456 1032.3L1456.6 1032.5L1457.2 1034.9L1457.8 1039.6L1458.4 1037.8L1459 1038.3L1459.6 1034.9L1460.2 1031.5L1460.8 1029.6L1461.4 1034.2L1462 1030.5L1462.6 1033.2L1463.2 1032.9L1463.8 1030.5L1464.4 1034L1465 1033.6L1465.6 1036.4L1466.2 1037.8L1466.8 1037.7L1467.4 1035.4L1468 1040.9L1468.6 1036.1L1469.2 1036L1469.8 1036.3L1470.4 1034L1471 1032.1L1471.6 1031.8L1472.2 1031.6L1472.8 1029.4L1473.4 1031.4L1474 1032.4L1474.6 1035.6L1475.2 1033.3L1475.8 1037L1476.4 1035.2L1477 1029.6L1477.6 1027.7L1478.2 1027.7L1478.8 1026.8L1479.4 1028.1L1480 1033.3L1480.6 1034.9L1481.2 1035.9L1481.8 1036.3L1482.4 1035.1L1483 1030.2L1483.6 1028.8L1484.2 1029.6L1484.8 1029.6L1485.4 1029.2L1486 1026.3L1486.6 1027.1L1487.2 1021.8L1487.8 1022.9L1488.4 1026.7L1489 1028.6L1489.6 1029.8L1490.2 1033.1L1490.8 1033.2L1491.4 1031.8L1492 1033.6L1492.6 1033.5L1493.2 1032.2L1493.8 1030L1494.4 1029.4L1495 1027.2L1495.6 1024.5L1496.2 1022.3L1496.8 1023.7L1497.4 1026.3L1498 1029.2L1498.6 1030.5L1499.2 1030.2L1499.8 1032.7L1500.4 1030.6L1501 1032.9L1501.6 1033.9L1502.2 1039.4L1502.8 1037.2L1503.4 1034.6L1504 1030.6L1504.6 1026.9L1505.2 1020.9L1505.8 1024.7L1506.4 1029.8L1507 1030.6L1507.6 1034.1L1508.2 1036.6L1508.8 1037L1509.4 1036.6L1510 1038.4L1510.6 1039L1511.2 1041L1511.8 1040.8L1512.4 1037.9L1513 1037.4L1513.6 1036.4L1514.2 1033L1514.8 1029.9L1515.4 1027.5L1516 1027L1516.6 1022.1L1517.2 1022.7L1517.8 1028.1L1518.4 1029.2L1519 1027.4L1519.6 1032.5L1520.2 1032L1520.8 1030.9L1521.4 1032.9L1522 1039.2L1522.6 1036.2L1523.2 1033.5L1523.8 1028.4L1524.4 1031L1525 1028.2L1525.6 1027.7L1526.2 1027.1L1526.8 1032L1527.4 1029.3L1528 1029L1528.6 1031.9L1529.2 1035.5L1529.8 1036.7L1530.4 1037.5L1531 1038.8L1531.6 1035L1532.2 1031.4L1532.8 1029.7L1533.4 1023.8L1534 1019L1534.6 1026.7L1535.2 1029.2L1535.8 1030.1L1536.4 1034.8L1537 1036.2L1537.6 1033.8L1538.2 1038.9L1538.8 1037.5L1539.4 1039.2L1540 1038.9L1540.6 1038.9L1541.2 1037.3L1541.8 1040.7L1542.4 1039.6L1543 1037.3L1543.6 1038.2L1544.2 1037.4L1544.8 1035L1545.4 1035.6L1546 1035.4L1546.6 1033.4L1547.2 1026.1L1547.8 1023.5L1548.4 1016.4L1549 1016.7L1549.6 1010.9L1550.2 1010.8L1550.8 1006.5L1551.4 1016.8L1552 1020.7L1552.6 1024.3L1553.2 1024.9L1553.8 1028.8L1554.4 1030.3L1555 1033.3L1555.6 1036.3L1556.2 1031.1L1556.8 1022.8L1557.4 1020.1L1558 1017.2L1558.6 1017L1559.2 1015.7L1559.8 1012.4L1560.4 1015.9L1561 1016.7L1561.6 1012.6L1562.2 1005.9L1562.8 1001.8L1563.4 1001.8L1564 1005.8L1564.6 1009.3L1565.2 1014L1565.8 1018.6L1566.4 1018.7L1567 1020.4L1567.6 1023.3L1568.2 1021.8L1568.8 1021L1569.4 1018.5L1570 1021.6L1570.6 1022L1571.2 1025.4L1571.8 1024.2L1572.4 1028L1573 1024.1L1573.6 1021.7L1574.2 1015.5L1574.8 1012.1L1575.4 1006L1576 1010.8L1576.6 1014.4L1577.2 1023.6L1577.8 1023.6L1578.4 1028.6L1579 1027.9L1579.6 1026.3L1580.2 1020.2L1580.8 1025.7L1581.4 1024.8L1582 1024.2L1582.6 1026L1583.2 1023.3L1583.8 1019L1584.4 1018.5L1585 1018.1L1585.6 1012.7L1586.2 1011.8L1586.8 1015.2L1587.4 1014.4L1588 1015.2L1588.6 1018.3L1589.2 1027.6L1589.8 1031.3L1590.4 1031.2L1591 1030.3L1591.6 1029.8L1592.2 1024.6L1592.8 1019.5L1593.4 1020L1594 1020.1L1594.6 1020.2L1595.2 1021.7L1595.8 1020.4L1596.4 1022.5L1597 1022.8L1597.6 1021.5L1598.2 1020.2L1598.8 1020.2L1599.4 1014.9L1600 1012.4L1600.6 1015.4L1601.2 1009.8L1601.8 1009.2L1602.4 1012.1L1603 1008.4L1603.6 1005.9L1604.2 1009.4L1604.8 1009.8L1605.4 1008.2L1606 1008.1L1606.6 1008.5L1607.2 1013L1607.8 1017.3L1608.4 1014.3L1609 1016.8L1609.6 1014.2L1610.2 1013.4L1610.8 1010.7L1611.4 1016.2L1612 1015.5L1612.6 1014.6L1613.2 1013.4L1613.8 1019.4L1614.4 1017.1L1615 1014.5L1615.6 1014L1616.2 1014.9L1616.8 1009.6L1617.4 1010.2L1618 1011.5L1618.6 1014.7L1619.2 1013.3L1619.8 1020L1620.4 1015.2L1621 1015.4L1621.6 1016.8L1622.2 1018.9L1622.8 1015.8L1623.4 1016.4L1624 1017.4L1624.6 1018.1L1625.2 1017.9L1625.8 1018.3L1626.4 1018.8L1627 1016.2L1627.6 1017.5L1628.2 1017.4L1628.8 1016.4L1629.4 1016.8L1630 1020L1630.6 1016.1L1631.2 1013.5L1631.8 1014.9L1632.4 1017.1L1633 1014.5L1633.6 1016.4L1634.2 1020L1634.8 1019.9L1635.4 1019.5L1636 1021.1L1636.6 1022.6L1637.2 1026.5L1637.8 1025.3L1638.4 1024.2L1639 1024.5L1639.6 1020.6L1640.2 1016.9L1640.8 1016.1L1641.4 1014.6L1642 1014.3L1642.6 1018.2L1643.2 1016.6L1643.8 1018.2L1644.4 1019L1645 1020.4L1645.6 1015.6L1646.2 1013.1L1646.8 1010.1L1647.4 1011.9L1648 1011.8L1648.6 1013.8L1649.2 1018.7L1649.8 1024.3L1650.4 1031L1651 1035.2L1651.6 1032.8L1652.2 1034.4L1652.8 1035.9L1653.4 1033L1654 1037.7L1654.6 1037.4L1655.2 1037.6L1655.8 1035.4L1656.4 1033.2L1657 1027.3L1657.6 1027L1658.2 1022.4L1658.8 1019.3L1659.4 1021.8L1660 1021.4L1660.6 1021.9L1661.2 1024.3L1661.8 1028.1L1662.4 1030.7L1663 1033.9L1663.6 1035.8L1664.2 1037.3L1664.8 1033.9L1665.4 1032.5L1666 1033.2L1666.6 1029.5L1667.2 1027.4L1667.8 1032.8L1668.4 1035.3L1669 1032.5L1669.6 1035.3L1670.2 1037.5L1670.8 1036.8L1671.4 1037.7L1672 1037.3L1672.6 1036.6L1673.2 1034L1673.8 1028.3L1674.4 1023.7L1675 1027.1L1675.6 1027.4L1676.2 1029.9L1676.8 1035.5L1677.4 1037L1678 1039.6L1678.6 1042.1L1679.2 1042.8L1679.8 1043.7L1680.4 1043.9L1681 1041.7L1681.6 1040.2L1682.2 1038L1682.8 1038.1L1683.4 1039.3L1684 1041.2L1684.6 1044.4L1685.2 1044.3L1685.8 1044.2L1686.4 1044L1687 1042.7L1687.6 1036.8L1688.2 1039.3L1688.8 1039L1689.4 1036.7L1690 1036.5L1690.6 1042.2L1691.2 1039.9L1691.8 1038.7L1692.4 1043.8L1693 1045.9L1693.6 1044.1L1694.2 1048.4L1694.8 1053.1L1695.4 1052.9L1696 1048.8L1696.6 1047.4L1697.2 1047.7L1697.8 1045.9L1698.4 1044.1L1699 1047L1699.6 1048.4L1700.2 1044.3L1700.8 1044.8L1701.4 1045.9L1702 1045.5L1702.6 1046.8L1703.2 1050.3L1703.8 1050.1L1704.4 1050.2L1705 1048.2L1705.6 1047.2L1706.2 1043.2L1706.8 1042.2L1707.4 1040.6L1708 1040.3L1708.6 1040.9L1709.2 1042.6L1709.8 1038.9L1710.4 1032.7L1711 1038.9L1711.6 1041.8L1712.2 1044.9L1712.8 1048L1713.4 1053.1L1714 1045.3L1714.6 1046.4L1715.2 1045.1L1715.8 1045.8L1716.4 1046.5L1717 1049.3L1717.6 1047.1L1718.2 1047.7L1718.8 1045.9L1719.4 1041.6L1720 1042.4L1720.6 1039.9L1721.2 1039.5L1721.8 1039.1L1722.4 1037.8L1723 1034.4L1723.6 1037.9L1724.2 1040L1724.8 1042.6L1725.4 1043.6L1726 1048.3L1726.6 1047.9L1727.2 1047.5L1727.8 1047.5L1728.4 1052.6L1729 1053.5L1729.6 1053.1L1730.2 1056.5L1730.8 1057.4L1731.4 1057L1732 1055L1732.6 1056.3L1733.2 1056.3L1733.8 1056.7L1734.4 1054.7L1735 1054.6L1735.6 1051.5L1736.2 1047.6L1736.8 1045.5L1737.4 1043.5L1738 1044.2L1738.6 1045L1739.2 1045.6L1739.8 1046.5L1740.4 1049.7L1741 1050.2L1741.6 1052.5L1742.2 1053.5L1742.8 1052.3L1743.4 1050.5L1744 1049.7L1744.6 1046.6L1745.2 1046.1L1745.8 1048.7L1746.4 1052.4L1747 1053.8L1747.6 1055.6L1748.2 1054.9L1748.8 1055L1749.4 1051.5L1750 1050.7L1750.6 1052.1L1751.2 1051.6L1751.8 1050.5L1752.4 1052.7L1753 1052.3L1753.6 1049L1754.2 1051.9L1754.8 1051.6L1755.4 1051.8L1756 1049.5L1756.6 1049.9L1757.2 1049.1L1757.8 1050.6L1758.4 1050.2L1759 1048.7L1759.6 1049.8L1760.2 1047.7L1760.8 1046.6L1761.4 1045.6L1762 1047.8L1762.6 1051.4L1763.2 1053.5L1763.8 1055.6L1764.4 1058.4L1765 1061.5L1765.6 1060.9L1766.2 1062L1766.8 1057.3L1767.4 1054.7L1768 1052.6L1768.6 1052L1769.2 1052.5L1769.8 1057.7L1770.4 1058.9L1771 1059.1L1771.6 1059.8L1772.2 1056.4L1772.8 1053.3L1773.4 1051.7L1774 1050.9L1774.6 1051.1L1775.2 1051.9L1775.8 1053.8L1776.4 1055.5L1777 1055.6L1777.6 1057.8L1778.2 1057L1778.8 1054.8L1779.4 1055.3L1780 1056.1L1780.6 1054.2L1781.2 1057.7L1781.8 1060.1L1782.4 1059.3L1783 1058.9L1783.6 1059.3L1784.2 1057.7L1784.8 1058.8L1785.4 1058L1786 1059.2L1786.6 1057.7L1787.2 1058.9L1787.8 1055.5L1788.4 1055.5L1789 1054L1789.6 1051.2L1790.2 1048.2L1790.8 1046.1L1791.4 1044.7L1792 1047.5L1792.6 1049.3L1793.2 1052.8L1793.8 1055.9L1794.4 1056.9L1795 1059.2L1795.6 1060L1796.2 1058L1796.8 1056.3L1797.4 1060.2L1798 1058.8L1798.6 1063.4L1799.2 1063.5L1799.8 1064.1L1800.4 1062.2L1801 1061.6L1801.6 1058.8L1802.2 1058.1L1802.8 1059L1803.4 1060.8L1804 1060.4L1804.6 1058.8L1805.2 1056.4L1805.8 1054.5L1806.4 1057.8L1807 1061.6L1807.6 1063.2L1808.2 1064.1L1808.8 1064.7L1809.4 1064.4L1810 1062.9L1810.6 1062.8L1811.2 1061.8L1811.8 1063.6L1812.4 1063.5L1813 1065.5L1813.6 1068L1814.2 1069.1L1814.8 1067.4L1815.4 1066.6L1816 1066L1816.6 1066.7L1817.2 1066.7L1817.8 1067.1L1818.4 1064.7L1819 1059.9L1819.6 1055L1820.2 1052.9L1820.8 1051.3L1821.4 1056.4L1822 1062.3L1822.6 1065L1823.2 1068.5L1823.8 1071.5L1824.4 1071.2L1825 1070.7L1825.6 1070.3L1826.2 1070L1826.8 1069.8L1827.4 1068.5L1828 1068L1828.6 1070.5L1829.2 1070.5L1829.8 1070.8L1830.4 1069.8L1831 1065.7L1831.6 1061.8L1832.2 1059.4L1832.8 1055.1L1833.4 1054.8L1834 1056.9L1834.6 1058.6L1835.2 1060.5L1835.8 1064.5L1836.4 1065.5L1837 1066.1L1837.6 1067L1838.2 1067.7L1838.8 1066.7L1839.4 1065L1840 1063.9L1840.6 1062.9L1841.2 1061.2L1841.8 1059.2L1842.4 1059.9L1843 1062.6L1843.6 1065.2L1844.2 1066.1L1844.8 1067.5L1845.4 1070.2L1846 1072.3L1846.6 1071L1847.2 1073L1847.8 1075.7L1848.4 1074.8L1849 1072.9L1849.6 1073L1850.2 1070.6L1850.8 1068L1851.4 1067.5L1852 1068.2L1852.6 1072.1L1853.2 1071.4L1853.8 1069.7L1854.4 1067.3L1855 1064.9L1855.6 1061.1L1856.2 1060.5L1856.8 1059.9L1857.4 1060.7L1858 1060.9L1858.6 1063.2L1859.2 1063.8L1859.8 1059.4L1860.4 1056.5L1861 1055.1L1861.6 1053.2L1862.2 1055.2L1862.8 1061.2L1863.4 1063.3L1864 1066L1864.6 1068.9L1865.2 1063.3L1865.8 1057.3L1866.4 1054.4L1867 1058.1L1867.6 1060.1L1868.2 1066.2L1868.8 1072.4L1869.4 1072.7L1870 1073.1L1870.6 1071.8L1871.2 1072.8L1871.8 1070.6L1872.4 1068.2L1873 1069L1873.6 1071.4L1874.2 1069.1L1874.8 1066.6L1875.4 1069.7L1876 1067.3L1876.6 1067L1877.2 1068.8L1877.8 1071.8L1878.4 1070L1879 1070.8L1879.6 1073L1880.2 1073.9L1880.8 1074.1L1881.4 1077.1L1882 1078.1L1882.6 1077.1L1883.2 1078.9L1883.8 1075L1884.4 1073.2L1885 1070.4L1885.6 1068.1L1886.2 1064.4L1886.8 1063.1L1887.4 1062.3L1888 1065.5L1888.6 1066.2L1889.2 1067L1889.8 1071.7L1890.4 1074.9L1891 1073.6L1891.6 1075.6L1892.2 1078.4L1892.8 1076.9L1893.4 1076.8L1894 1078.6L1894.6 1079.5L1895.2 1079.8L1895.8 1078.8L1896.4 1070.2L1897 1065.6L1897.6 1061.1L1898.2 1058.8L1898.8 1062.9L1899.4 1069.7L1900 1073L1900.6 1075.4L1901.2 1075.5L1901.8 1075.7L1902.4 1075.5L1903 1075.2L1903.6 1073.5L1904.2 1074.1L1904.8 1074.4L1905.4 1074.3L1906 1075.7L1906.6 1077.2L1907.2 1075.1L1907.8 1071.5L1908.4 1068.2L1909 1066.7L1909.6 1062.6L1910.2 1062.8L1910.8 1064.4L1911.4 1063.9L1912 1062.8L1912.6 1068.1L1913.2 1067.7L1913.8 1066.7L1914.4 1061.4L1915 1060.6L1915.6 1064L1916.2 1068.4L1916.8 1069.1L1917.4 1073.2L1918 1074.5L1918.6 1074.6L1919.2 1074.8L1919.8 1074.3L1920.4 1074L1921 1073.5L1921.6 1074.8L1922.2 1075.3L1922.8 1076.1L1923.4 1076.9L1924 1080.5L1924.6 1078.8L1925.2 1076.7L1925.8 1075.6L1926.4 1072.7L1927 1068.4L1927.6 1071.3L1928.2 1071.7L1928.8 1070.1L1929.4 1071.9L1930 1073.6L1930.6 1075.8L1931.2 1079.1L1931.8 1079.4L1932.4 1080.5L1933 1080.7L1933.6 1080.2L1934.2 1079.4L1934.8 1080.2L1935.4 1079.6L1936 1078.9L1936.6 1080.4L1937.2 1081.9L1937.8 1083L1938.4 1081.7L1939 1079.6L1939.6 1077.3L1940.2 1076.1L1940.8 1076.4L1941.4 1076.3L1942 1078.9L1942.6 1078.5L1943.2 1078.3L1943.8 1077.2L1944.4 1077.8L1945 1078.2L1945.6 1079.5L1946.2 1077.9L1946.8 1078.3L1947.4 1076.2L1948 1075.8L1948.6 1073.4L1949.2 1072.9L1949.8 1073L1950.4 1074.9L1951 1075L1951.6 1076.8L1952.2 1078.4L1952.8 1078.3L1953.4 1081.1L1954 1081.6L1954.6 1082.3L1955.2 1083.1L1955.8 1084.1L1956.4 1082.7L1956.4 1101.4L1955.8 1101.4L1955.2 1102.8L1954.6 1102.1L1954 1102.1L1953.4 1102.8L1952.8 1101.4L1952.2 1100.4L1951.6 1102L1951 1102.8L1950.4 1104.1L1949.8 1105.2L1949.2 1105.9L1948.6 1104.3L1948 1104.1L1947.4 1102.3L1946.8 1103L1946.2 1104L1945.6 1105.8L1945 1104.3L1944.4 1104.7L1943.8 1103.6L1943.2 1100.2L1942.6 1099.4L1942 1100.6L1941.4 1101.8L1940.8 1102.8L1940.2 1104L1939.6 1105.5L1939 1107.5L1938.4 1107L1937.8 1105.4L1937.2 1105L1936.6 1101.8L1936 1102.2L1935.4 1103.3L1934.8 1105.5L1934.2 1106.3L1933.6 1105.5L1933 1103.4L1932.4 1101.4L1931.8 1099L1931.2 1097.2L1930.6 1097.5L1930 1098L1929.4 1098.2L1928.8 1098.9L1928.2 1098.7L1927.6 1099.4L1927 1099.1L1926.4 1099.3L1925.8 1098.2L1925.2 1098.7L1924.6 1097.9L1924 1098.4L1923.4 1098.7L1922.8 1101.4L1922.2 1101.9L1921.6 1102.4L1921 1100.7L1920.4 1101.1L1919.8 1101.8L1919.2 1099.9L1918.6 1100.6L1918 1101.3L1917.4 1104.3L1916.8 1107.7L1916.2 1111.5L1915.6 1113.3L1915 1114.6L1914.4 1113.5L1913.8 1108.4L1913.2 1106.9L1912.6 1108.1L1912 1110.5L1911.4 1110.4L1910.8 1114.2L1910.2 1115.9L1909.6 1112.8L1909 1109.4L1908.4 1108.8L1907.8 1106.1L1907.2 1102.5L1906.6 1100.8L1906 1098.8L1905.4 1096L1904.8 1094.4L1904.2 1094.5L1903.6 1099L1903 1101L1902.4 1102.4L1901.8 1101.9L1901.2 1103.7L1900.6 1101.4L1900 1103.9L1899.4 1102.4L1898.8 1102.3L1898.2 1099.6L1897.6 1099.5L1897 1101L1896.4 1101.6L1895.8 1102.4L1895.2 1103.3L1894.6 1104.5L1894 1103.6L1893.4 1100.8L1892.8 1100.6L1892.2 1098.8L1891.6 1098.4L1891 1097.4L1890.4 1098.3L1889.8 1095.5L1889.2 1096L1888.6 1094.4L1888 1093.8L1887.4 1094.7L1886.8 1097L1886.2 1098L1885.6 1098.9L1885 1098.6L1884.4 1097.4L1883.8 1095.4L1883.2 1095.1L1882.6 1095L1882 1095.5L1881.4 1096.6L1880.8 1096.3L1880.2 1095.6L1879.6 1097.1L1879 1097.2L1878.4 1096.9L1877.8 1098.6L1877.2 1100.1L1876.6 1100.2L1876 1101L1875.4 1103.1L1874.8 1103.9L1874.2 1100.8L1873.6 1099.1L1873 1098.7L1872.4 1098.4L1871.8 1095.9L1871.2 1097.5L1870.6 1097L1870 1096.3L1869.4 1094.7L1868.8 1096.2L1868.2 1097.4L1867.6 1098.4L1867 1097.9L1866.4 1099.1L1865.8 1098.9L1865.2 1099.1L1864.6 1098.4L1864 1101.4L1863.4 1102.7L1862.8 1103L1862.2 1104.2L1861.6 1107.4L1861 1105.8L1860.4 1107.7L1859.8 1106.2L1859.2 1103.2L1858.6 1102.4L1858 1105L1857.4 1105.5L1856.8 1103.4L1856.2 1101.7L1855.6 1100.5L1855 1099.6L1854.4 1097.4L1853.8 1096.6L1853.2 1094.9L1852.6 1094.3L1852 1091.5L1851.4 1092.2L1850.8 1092.9L1850.2 1094L1849.6 1094.8L1849 1094.9L1848.4 1094.6L1847.8 1095.4L1847.2 1095.2L1846.6 1095.5L1846 1095.4L1845.4 1097.7L1844.8 1099.6L1844.2 1101.8L1843.6 1103.8L1843 1102L1842.4 1097.6L1841.8 1094.7L1841.2 1094.5L1840.6 1094.7L1840 1094.7L1839.4 1095.5L1838.8 1096.5L1838.2 1099L1837.6 1099.8L1837 1097.9L1836.4 1098.9L1835.8 1097.9L1835.2 1096.2L1834.6 1097.9L1834 1100.3L1833.4 1097.3L1832.8 1096.7L1832.2 1097.9L1831.6 1096L1831 1094.8L1830.4 1093.6L1829.8 1094.7L1829.2 1093.5L1828.6 1091.2L1828 1090.6L1827.4 1092.1L1826.8 1092L1826.2 1091.9L1825.6 1093.7L1825 1096.1L1824.4 1097.9L1823.8 1098.5L1823.2 1098.1L1822.6 1099.6L1822 1100.3L1821.4 1099.4L1820.8 1095.3L1820.2 1094.6L1819.6 1092.4L1819 1088.9L1818.4 1091.6L1817.8 1093.5L1817.2 1094.2L1816.6 1094.9L1816 1095.3L1815.4 1094.8L1814.8 1093.7L1814.2 1094L1813.6 1094.7L1813 1093.9L1812.4 1092L1811.8 1091.7L1811.2 1090.7L1810.6 1089L1810 1091.2L1809.4 1090.2L1808.8 1089.7L1808.2 1091.2L1807.6 1091.6L1807 1091.6L1806.4 1092.2L1805.8 1094L1805.2 1093.5L1804.6 1093.3L1804 1094L1803.4 1098.6L1802.8 1100.2L1802.2 1097.9L1801.6 1097.8L1801 1097.5L1800.4 1093.8L1799.8 1094.5L1799.2 1096.9L1798.6 1096.5L1798 1095.5L1797.4 1093.9L1796.8 1093.4L1796.2 1090.8L1795.6 1091.7L1795 1091.7L1794.4 1092.9L1793.8 1094.2L1793.2 1091.2L1792.6 1087.3L1792 1086.9L1791.4 1087.6L1790.8 1084.5L1790.2 1088.2L1789.6 1089.9L1789 1090.5L1788.4 1091.1L1787.8 1091L1787.2 1089L1786.6 1086.7L1786 1085.9L1785.4 1085.1L1784.8 1087.3L1784.2 1087.9L1783.6 1094.1L1783 1097.6L1782.4 1103L1781.8 1102.7L1781.2 1104.3L1780.6 1100.5L1780 1097.3L1779.4 1091.5L1778.8 1089.2L1778.2 1090L1777.6 1090.1L1777 1088.1L1776.4 1087.8L1775.8 1087.3L1775.2 1084.1L1774.6 1083.1L1774 1084.4L1773.4 1087.4L1772.8 1089.5L1772.2 1091.4L1771.6 1090.6L1771 1094.3L1770.4 1095.3L1769.8 1099.4L1769.2 1103.7L1768.6 1102.6L1768 1099.1L1767.4 1098.5L1766.8 1093.7L1766.2 1091.4L1765.6 1088L1765 1085.5L1764.4 1081.4L1763.8 1080.4L1763.2 1079.3L1762.6 1079.9L1762 1080L1761.4 1083.9L1760.8 1084.8L1760.2 1085.3L1759.6 1085.8L1759 1089.6L1758.4 1087.4L1757.8 1087.7L1757.2 1085.5L1756.6 1086.1L1756 1082.4L1755.4 1081.7L1754.8 1079.3L1754.2 1081.1L1753.6 1079.4L1753 1079.9L1752.4 1079.9L1751.8 1082.1L1751.2 1081.9L1750.6 1083.9L1750 1083.5L1749.4 1083.8L1748.8 1084.2L1748.2 1084.6L1747.6 1080.8L1747 1079.7L1746.4 1080.8L1745.8 1079.4L1745.2 1081.1L1744.6 1084.3L1744 1086.1L1743.4 1086.4L1742.8 1087.8L1742.2 1085L1741.6 1086L1741 1085.8L1740.4 1085.9L1739.8 1087.4L1739.2 1085.4L1738.6 1084L1738 1083.5L1737.4 1081.9L1736.8 1081.4L1736.2 1084.8L1735.6 1087.1L1735 1088.4L1734.4 1089.8L1733.8 1090.3L1733.2 1091.9L1732.6 1090.1L1732 1088.5L1731.4 1086.7L1730.8 1084L1730.2 1080.7L1729.6 1080.3L1729 1080.8L1728.4 1081.7L1727.8 1084.2L1727.2 1086.5L1726.6 1084.5L1726 1082.2L1725.4 1079.7L1724.8 1077.7L1724.2 1077.1L1723.6 1077.8L1723 1078L1722.4 1077.4L1721.8 1077.9L1721.2 1077.6L1720.6 1077.9L1720 1076.8L1719.4 1075.7L1718.8 1075.3L1718.2 1076.9L1717.6 1078.5L1717 1083.5L1716.4 1090.1L1715.8 1094.1L1715.2 1093.4L1714.6 1092.8L1714 1093.4L1713.4 1090.6L1712.8 1086.6L1712.2 1086L1711.6 1086L1711 1084.8L1710.4 1083.1L1709.8 1082.4L1709.2 1078.4L1708.6 1076.3L1708 1075.1L1707.4 1077.6L1706.8 1078.1L1706.2 1079.6L1705.6 1079.1L1705 1078.7L1704.4 1073.5L1703.8 1073.5L1703.2 1074.3L1702.6 1077.6L1702 1077.8L1701.4 1081.8L1700.8 1081.7L1700.2 1079.4L1699.6 1075.8L1699 1072.3L1698.4 1069.6L1697.8 1071.8L1697.2 1074.3L1696.6 1074.3L1696 1077.8L1695.4 1078.9L1694.8 1076.7L1694.2 1076.7L1693.6 1077.6L1693 1075.2L1692.4 1075.3L1691.8 1077.6L1691.2 1076.8L1690.6 1078L1690 1081.1L1689.4 1075.5L1688.8 1070.6L1688.2 1070.9L1687.6 1076.1L1687 1079L1686.4 1081.2L1685.8 1082.6L1685.2 1081.9L1684.6 1076.3L1684 1077.1L1683.4 1077.2L1682.8 1076.9L1682.2 1076.7L1681.6 1076.2L1681 1074.6L1680.4 1075.8L1679.8 1073.2L1679.2 1073.1L1678.6 1074L1678 1071.7L1677.4 1070.7L1676.8 1070.4L1676.2 1069.1L1675.6 1070.7L1675 1075.2L1674.4 1077.6L1673.8 1082.2L1673.2 1086.6L1672.6 1086.8L1672 1088.8L1671.4 1090.1L1670.8 1087.6L1670.2 1081.5L1669.6 1075.4L1669 1076.2L1668.4 1077.1L1667.8 1079.6L1667.2 1083.1L1666.6 1085.8L1666 1090.6L1665.4 1091L1664.8 1084.9L1664.2 1081.4L1663.6 1078.3L1663 1078.6L1662.4 1077.5L1661.8 1077.2L1661.2 1075.2L1660.6 1076.9L1660 1083.2L1659.4 1091.1L1658.8 1093.3L1658.2 1088.1L1657.6 1079.2L1657 1072.5L1656.4 1064.5L1655.8 1063.8L1655.2 1064L1654.6 1060.4L1654 1061.3L1653.4 1065L1652.8 1065L1652.2 1065.6L1651.6 1071.1L1651 1064.2L1650.4 1058L1649.8 1058.4L1649.2 1063.8L1648.6 1062.3L1648 1066L1647.4 1072.3L1646.8 1069.4L1646.2 1066.5L1645.6 1069.6L1645 1068L1644.4 1064.5L1643.8 1065.4L1643.2 1065.9L1642.6 1063.4L1642 1060.5L1641.4 1059.6L1640.8 1058.9L1640.2 1056.6L1639.6 1053.7L1639 1055L1638.4 1051.8L1637.8 1053L1637.2 1056.4L1636.6 1060.4L1636 1061.2L1635.4 1063.6L1634.8 1064L1634.2 1063.1L1633.6 1063.3L1633 1063.4L1632.4 1062.8L1631.8 1062.6L1631.2 1063.8L1630.6 1057.5L1630 1057.8L1629.4 1057.6L1628.8 1057.6L1628.2 1054.9L1627.6 1058.7L1627 1059.7L1626.4 1058.1L1625.8 1058.3L1625.2 1061.7L1624.6 1066.4L1624 1068.4L1623.4 1071.3L1622.8 1069.9L1622.2 1066.8L1621.6 1063.7L1621 1061.8L1620.4 1065.3L1619.8 1068.5L1619.2 1064L1618.6 1063.7L1618 1058.5L1617.4 1057.3L1616.8 1057.8L1616.2 1061.1L1615.6 1059.9L1615 1061.6L1614.4 1058.9L1613.8 1059.6L1613.2 1060.1L1612.6 1059.6L1612 1059.2L1611.4 1061.8L1610.8 1060.6L1610.2 1057.9L1609.6 1062.8L1609 1068.4L1608.4 1067.6L1607.8 1063.1L1607.2 1063.6L1606.6 1058.9L1606 1057.4L1605.4 1059L1604.8 1056.9L1604.2 1054.9L1603.6 1056.3L1603 1059.8L1602.4 1061.4L1601.8 1068.9L1601.2 1069.9L1600.6 1075.9L1600 1079.2L1599.4 1079.6L1598.8 1077.9L1598.2 1077.9L1597.6 1076.3L1597 1073.9L1596.4 1073L1595.8 1069.5L1595.2 1074L1594.6 1070.4L1594 1066.9L1593.4 1065.2L1592.8 1068.1L1592.2 1067.7L1591.6 1069.5L1591 1070.7L1590.4 1071.1L1589.8 1068.2L1589.2 1067.2L1588.6 1066.4L1588 1064L1587.4 1062.4L1586.8 1065.5L1586.2 1068.4L1585.6 1070.3L1585 1069.2L1584.4 1070.3L1583.8 1068.3L1583.2 1067.1L1582.6 1066.6L1582 1072.1L1581.4 1072L1580.8 1066.3L1580.2 1062L1579.6 1061.5L1579 1056.3L1578.4 1060.1L1577.8 1064.1L1577.2 1067.1L1576.6 1066.8L1576 1073.3L1575.4 1074.7L1574.8 1080.4L1574.2 1082.1L1573.6 1088.6L1573 1083.3L1572.4 1080.8L1571.8 1076.5L1571.2 1074L1570.6 1067L1570 1067L1569.4 1068.3L1568.8 1067.8L1568.2 1065.8L1567.6 1066.2L1567 1067.2L1566.4 1062.6L1565.8 1061.9L1565.2 1061.9L1564.6 1063.3L1564 1060.6L1563.4 1063L1562.8 1062L1562.2 1060.8L1561.6 1064.1L1561 1062L1560.4 1065.8L1559.8 1067.8L1559.2 1073.3L1558.6 1072.5L1558 1079.7L1557.4 1080.5L1556.8 1082.6L1556.2 1084.1L1555.6 1085.5L1555 1079.1L1554.4 1075.2L1553.8 1074.9L1553.2 1074.5L1552.6 1068.7L1552 1068.1L1551.4 1065.9L1550.8 1066.8L1550.2 1065.4L1549.6 1067.7L1549 1068.8L1548.4 1071.4L1547.8 1072.4L1547.2 1075.8L1546.6 1074L1546 1075.7L1545.4 1076.1L1544.8 1075.4L1544.2 1072.8L1543.6 1074.4L1543 1075.3L1542.4 1077.4L1541.8 1077.8L1541.2 1078.5L1540.6 1075.8L1540 1076L1539.4 1077.1L1538.8 1075.3L1538.2 1077.4L1537.6 1078.8L1537 1077.4L1536.4 1075.2L1535.8 1079.4L1535.2 1079.2L1534.6 1076L1534 1074.6L1533.4 1076.8L1532.8 1074.5L1532.2 1074.3L1531.6 1075.7L1531 1075L1530.4 1068.9L1529.8 1065.6L1529.2 1061.9L1528.6 1060.3L1528 1063.8L1527.4 1067L1526.8 1069.9L1526.2 1072.5L1525.6 1070.6L1525 1070.5L1524.4 1071.4L1523.8 1069L1523.2 1072.2L1522.6 1077.5L1522 1077.1L1521.4 1076.9L1520.8 1082L1520.2 1080.7L1519.6 1077.3L1519 1074.3L1518.4 1074.9L1517.8 1072.9L1517.2 1074.5L1516.6 1079L1516 1079.7L1515.4 1078.8L1514.8 1076.4L1514.2 1071.8L1513.6 1071.3L1513 1073.1L1512.4 1072.2L1511.8 1072.8L1511.2 1075.7L1510.6 1078.7L1510 1081.2L1509.4 1084.2L1508.8 1086.5L1508.2 1092.7L1507.6 1094.7L1507 1094.3L1506.4 1091.7L1505.8 1094L1505.2 1091L1504.6 1091.1L1504 1085L1503.4 1085.3L1502.8 1079.7L1502.2 1079.3L1501.6 1077L1501 1075.4L1500.4 1072.5L1499.8 1071.2L1499.2 1068.3L1498.6 1067.7L1498 1070.3L1497.4 1067.8L1496.8 1068.3L1496.2 1071L1495.6 1071.6L1495 1074.6L1494.4 1076.1L1493.8 1073.8L1493.2 1069.9L1492.6 1069.2L1492 1069.2L1491.4 1064.2L1490.8 1066.5L1490.2 1072.6L1489.6 1075.5L1489 1078.5L1488.4 1084.4L1487.8 1083.1L1487.2 1078.3L1486.6 1073.9L1486 1070.7L1485.4 1071.1L1484.8 1070.6L1484.2 1074.4L1483.6 1075.2L1483 1073.3L1482.4 1071.8L1481.8 1074.3L1481.2 1071.9L1480.6 1074.4L1480 1073.8L1479.4 1078.2L1478.8 1075.3L1478.2 1075.2L1477.6 1075.6L1477 1080.3L1476.4 1084.4L1475.8 1087.6L1475.2 1084.2L1474.6 1084.5L1474 1081.2L1473.4 1073.3L1472.8 1074.2L1472.2 1076.7L1471.6 1077.7L1471 1077.3L1470.4 1079.7L1469.8 1077.9L1469.2 1077.1L1468.6 1072L1468 1073.3L1467.4 1074L1466.8 1074.6L1466.2 1076.4L1465.6 1076.7L1465 1075.8L1464.4 1075.3L1463.8 1073.8L1463.2 1072.2L1462.6 1074.3L1462 1072.5L1461.4 1071.9L1460.8 1070.8L1460.2 1073.4L1459.6 1076.8L1459 1082.2L1458.4 1083.4L1457.8 1086.6L1457.2 1085.1L1456.6 1082.5L1456 1077L1455.4 1073L1454.8 1066.4L1454.2 1066.1L1453.6 1065.7L1453 1064.7L1452.4 1069.1L1451.8 1072.8L1451.2 1075.8L1450.6 1076.6L1450 1078.8L1449.4 1075L1448.8 1076.1L1448.2 1069.7L1447.6 1068.2L1447 1070.1L1446.4 1070.4L1445.8 1068.3L1445.2 1070L1444.6 1073.3L1444 1072.7L1443.4 1075.7L1442.8 1074.9L1442.2 1074.5L1441.6 1072.6L1441 1067.5L1440.4 1062.8L1439.8 1066.5L1439.2 1067.2L1438.6 1064.9L1438 1068.8L1437.4 1067.9L1436.8 1065.1L1436.2 1067.4L1435.6 1067.6L1435 1068.8L1434.4 1070.1L1433.8 1070.7L1433.2 1072.3L1432.6 1076.5L1432 1072.9L1431.4 1075.3L1430.8 1075.6L1430.2 1073.2L1429.6 1071L1429 1072.4L1428.4 1073.8L1427.8 1076.3L1427.2 1076.8L1426.6 1078.2L1426 1076L1425.4 1070.5L1424.8 1068.6L1424.2 1070.3L1423.6 1067.4L1423 1070L1422.4 1073.6L1421.8 1075.4L1421.2 1074.5L1420.6 1075.1L1420 1074.2L1419.4 1074.5L1418.8 1072.2L1418.2 1069.8L1417.6 1068.9L1417 1064.8L1416.4 1061.5L1415.8 1064.7L1415.2 1066.3L1414.6 1067.8L1414 1070.5L1413.4 1072.7L1412.8 1068.5L1412.2 1068.8L1411.6 1069L1411 1069.8L1410.4 1066.5L1409.8 1064.3L1409.2 1063.5L1408.6 1060.5L1408 1060.8L1407.4 1062.1L1406.8 1067.6L1406.2 1070.6L1405.6 1078.4L1405 1081.9L1404.4 1088.9L1403.8 1089.9L1403.2 1086.4L1402.6 1080.9L1402 1073.1L1401.4 1066.9L1400.8 1063.7L1400.2 1060.6L1399.6 1061.3L1399 1067.1L1398.4 1074.9L1397.8 1081.8L1397.2 1087.7L1396.6 1086.3L1396 1082.4L1395.4 1081.8L1394.8 1083.2L1394.2 1087.5L1393.6 1085.2L1393 1080.1L1392.4 1074.5L1391.8 1073.8L1391.2 1071.1L1390.6 1069.2L1390 1067.6L1389.4 1069.4L1388.8 1068.3L1388.2 1067.8L1387.6 1065.7L1387 1068.8L1386.4 1071.7L1385.8 1070.5L1385.2 1071.8L1384.6 1073.7L1384 1069.6L1383.4 1064.1L1382.8 1064.2L1382.2 1063.8L1381.6 1059L1381 1060.7L1380.4 1058.6L1379.8 1057.5L1379.2 1056.2L1378.6 1060.7L1378 1057.8L1377.4 1056.2L1376.8 1059.2L1376.2 1060.6L1375.6 1058.1L1375 1059.7L1374.4 1061.6L1373.8 1058.7L1373.2 1058.4L1372.6 1061.5L1372 1061.2L1371.4 1060.6L1370.8 1062.4L1370.2 1060.4L1369.6 1059.4L1369 1058.2L1368.4 1059L1367.8 1058.7L1367.2 1061.9L1366.6 1064L1366 1065.8L1365.4 1069.4L1364.8 1071.8L1364.2 1071.4L1363.6 1071.2L1363 1069.5L1362.4 1070.4L1361.8 1071.9L1361.2 1075.4L1360.6 1077.4L1360 1077.3L1359.4 1079.9L1358.8 1077L1358.2 1076.8L1357.6 1072.8L1357 1068L1356.4 1062.2L1355.8 1062.7L1355.2 1060.5L1354.6 1059.3L1354 1061.9L1353.4 1060.2L1352.8 1056.6L1352.2 1057.9L1351.6 1058.9L1351 1057.7L1350.4 1060.5L1349.8 1059.7L1349.2 1063.6L1348.6 1066.8L1348 1065.9L1347.4 1065.3L1346.8 1070.5L1346.2 1065.9L1345.6 1059.9L1345 1055L1344.4 1053.1L1343.8 1054.7L1343.2 1059.3L1342.6 1064.2L1342 1065.8L1341.4 1066.7L1340.8 1074.6L1340.2 1078L1339.6 1077.6L1339 1071.9L1338.4 1068.3L1337.8 1064.3L1337.2 1063.8L1336.6 1068.3L1336 1078.4L1335.4 1083.6L1334.8 1087.7L1334.2 1093.5L1333.6 1086.6L1333 1082L1332.4 1079.8L1331.8 1073.7L1331.2 1068.8L1330.6 1066.2L1330 1063.7L1329.4 1061.9L1328.8 1065.4L1328.2 1064.9L1327.6 1065.8L1327 1066L1326.4 1063.5L1325.8 1059.6L1325.2 1061.1L1324.6 1062.1L1324 1062.4L1323.4 1068.2L1322.8 1071.5L1322.2 1072.6L1321.6 1072.9L1321 1077.5L1320.4 1078.1L1319.8 1074.1L1319.2 1068.3L1318.6 1066.8L1318 1063.4L1317.4 1061.1L1316.8 1062.5L1316.2 1066.7L1315.6 1064L1315 1066.1L1314.4 1068.2L1313.8 1064.6L1313.2 1063.7L1312.6 1064L1312 1059.8L1311.4 1056.9L1310.8 1060.2L1310.2 1060L1309.6 1056.7L1309 1055.7L1308.4 1056.8L1307.8 1053.3L1307.2 1052L1306.6 1052.4L1306 1047.6L1305.4 1047.2L1304.8 1054.8L1304.2 1055.9L1303.6 1063.5L1303 1068.1L1302.4 1075.7L1301.8 1082L1301.2 1081.6L1300.6 1074.6L1300 1068.8L1299.4 1066.9L1298.8 1060.4L1298.2 1060L1297.6 1054.2L1297 1051.9L1296.4 1047.5L1295.8 1047.4L1295.2 1043.7L1294.6 1047.5L1294 1050.5L1293.4 1051.2L1292.8 1048.3L1292.2 1048.9L1291.6 1049.5L1291 1051L1290.4 1057.2L1289.8 1064L1289.2 1067.9L1288.6 1067L1288 1063.8L1287.4 1057.1L1286.8 1050L1286.2 1045.4L1285.6 1048.2L1285 1049.3L1284.4 1050.1L1283.8 1053.8L1283.2 1057.1L1282.6 1055.6L1282 1050.1L1281.4 1048.3L1280.8 1046.4L1280.2 1044.8L1279.6 1041.5L1279 1043L1278.4 1042.6L1277.8 1044.6L1277.2 1042.6L1276.6 1043.5L1276 1042.2L1275.4 1045.4L1274.8 1045.9L1274.2 1049.9L1273.6 1052.1L1273 1057.5L1272.4 1057.4L1271.8 1058.5L1271.2 1055.1L1270.6 1050.5L1270 1044L1269.4 1046.7L1268.8 1044.2L1268.2 1045L1267.6 1048.6L1267 1052.1L1266.4 1053.2L1265.8 1053.4L1265.2 1048.7L1264.6 1049.5L1264 1048.3L1263.4 1045L1262.8 1047.5L1262.2 1047.9L1261.6 1046.1L1261 1048.3L1260.4 1051.8L1259.8 1048.8L1259.2 1044.1L1258.6 1045.7L1258 1044.2L1257.4 1039.5L1256.8 1037.7L1256.2 1045L1255.6 1045.4L1255 1049.5L1254.4 1054.9L1253.8 1053.7L1253.2 1048.4L1252.6 1047.3L1252 1043L1251.4 1040.7L1250.8 1036.5L1250.2 1041.8L1249.6 1044.2L1249 1046.4L1248.4 1047.4L1247.8 1049.2L1247.2 1043.8L1246.6 1043.3L1246 1040.3L1245.4 1038.1L1244.8 1042.9L1244.2 1044.2L1243.6 1041.6L1243 1044.2L1242.4 1046.5L1241.8 1048.5L1241.2 1050.7L1240.6 1051.1L1240 1050L1239.4 1054.5L1238.8 1055.1L1238.2 1057.5L1237.6 1063.9L1237 1065L1236.4 1058.2L1235.8 1054.8L1235.2 1049.7L1234.6 1043.9L1234 1041.9L1233.4 1045.2L1232.8 1046.1L1232.2 1048.1L1231.6 1046.7L1231 1048.1L1230.4 1044.8L1229.8 1044L1229.2 1042.1L1228.6 1042.9L1228 1043.2L1227.4 1046L1226.8 1049.2L1226.2 1047.5L1225.6 1044.3L1225 1041.1L1224.4 1042.9L1223.8 1039.2L1223.2 1041.2L1222.6 1042.4L1222 1044.5L1221.4 1045.2L1220.8 1044.2L1220.2 1047.4L1219.6 1049.3L1219 1052.3L1218.4 1048.5L1217.8 1046.4L1217.2 1046L1216.6 1045.9L1216 1042.2L1215.4 1042.7L1214.8 1046L1214.2 1048.8L1213.6 1050L1213 1050.4L1212.4 1050.9L1211.8 1053.5L1211.2 1050.7L1210.6 1052.2L1210 1051.7L1209.4 1054.5L1208.8 1053.5L1208.2 1049.9L1207.6 1046.3L1207 1047.1L1206.4 1046L1205.8 1042.2L1205.2 1040.8L1204.6 1038.8L1204 1035.7L1203.4 1037.8L1202.8 1040.9L1202.2 1051.6L1201.6 1058L1201 1058.9L1200.4 1055.7L1199.8 1051.7L1199.2 1044.3L1198.6 1039L1198 1033.7L1197.4 1030.9L1196.8 1034.6L1196.2 1034.5L1195.6 1039L1195 1039.5L1194.4 1040.2L1193.8 1034L1193.2 1033.2L1192.6 1030.7L1192 1034.5L1191.4 1034.6L1190.8 1037.9L1190.2 1037.6L1189.6 1038.2L1189 1036.5L1188.4 1036.3L1187.8 1035.3L1187.2 1035.1L1186.6 1031.3L1186 1032.9L1185.4 1033.5L1184.8 1032.3L1184.2 1035.1L1183.6 1037.3L1183 1031.5L1182.4 1032.5L1181.8 1033.8L1181.2 1035.5L1180.6 1037.7L1180 1038.9L1179.4 1037.6L1178.8 1039.1L1178.2 1039.4L1177.6 1036.9L1177 1036.7L1176.4 1033.2L1175.8 1029.5L1175.2 1025.3L1174.6 1022.4L1174 1023.6L1173.4 1023.4L1172.8 1023.9L1172.2 1021.5L1171.6 1024.7L1171 1024.3L1170.4 1024.4L1169.8 1027.5L1169.2 1033.3L1168.6 1035.4L1168 1034.2L1167.4 1038.7L1166.8 1044.8L1166.2 1048.3L1165.6 1051.6L1165 1049.7L1164.4 1045.7L1163.8 1039.8L1163.2 1038.5L1162.6 1030.3L1162 1034.2L1161.4 1034.5L1160.8 1037.6L1160.2 1034.2L1159.6 1035.6L1159 1032.7L1158.4 1030.8L1157.8 1030.6L1157.2 1029.7L1156.6 1028.5L1156 1027.9L1155.4 1025.9L1154.8 1020.7L1154.2 1018.7L1153.6 1020.4L1153 1017.7L1152.4 1015.2L1151.8 1014.8L1151.2 1016.6L1150.6 1015L1150 1018L1149.4 1019.7L1148.8 1019.7L1148.2 1021.6L1147.6 1022.8L1147 1018.1L1146.4 1019.6L1145.8 1018.9L1145.2 1012L1144.6 1008.7L1144 1006.3L1143.4 1008.3L1142.8 1008L1142.2 1008.9L1141.6 1007.9L1141 1012.1L1140.4 1007.8L1139.8 1004.9L1139.2 1010.1L1138.6 1016.1L1138 1020.3L1137.4 1026.2L1136.8 1030.1L1136.2 1030.2L1135.6 1024.4L1135 1015L1134.4 1013.8L1133.8 1011L1133.2 1008.7L1132.6 1009.7L1132 1010.3L1131.4 1009.8L1130.8 1010.4L1130.2 1010.1L1129.6 1010.2L1129 1010.7L1128.4 1008.8L1127.8 1005.6L1127.2 1007.3L1126.6 1007L1126 1010L1125.4 1008.3L1124.8 1010.2L1124.2 1006.4L1123.6 1004.5L1123 1002.3L1122.4 1007.3L1121.8 1006.5L1121.2 1006.9L1120.6 1011.1L1120 1011.5L1119.4 1009.9L1118.8 1011.9L1118.2 1013L1117.6 1012.1L1117 1010.7L1116.4 1012.3L1115.8 1013.1L1115.2 1014.6L1114.6 1016.7L1114 1025L1113.4 1024.4L1112.8 1019.4L1112.2 1015.3L1111.6 1014.2L1111 1006.7L1110.4 1000L1109.8 999L1109.2 997.2L1108.6 994.8L1108 998.8L1107.4 1004.3L1106.8 1008.9L1106.2 1009.3L1105.6 1013.8L1105 1012.8L1104.4 1009.5L1103.8 1005.5L1103.2 1005.1L1102.6 994.2L1102 991.9L1101.4 992.5L1100.8 991.6L1100.2 990.8L1099.6 1002L1099 1005.2L1098.4 1007.7L1097.8 1011.4L1097.2 1016.8L1096.6 1017.7L1096 1015.8L1095.4 1012.7L1094.8 1011.7L1094.2 1019.5L1093.6 1023.3L1093 1017.9L1092.4 1009.8L1091.8 1011.9L1091.2 1014.9L1090.6 1009.8L1090 1002.8L1089.4 1000.9L1088.8 999L1088.2 995.3L1087.6 995.1L1087 996.3L1086.4 990.4L1085.8 987.2L1085.2 986.2L1084.6 991.4L1084 991.2L1083.4 995.5L1082.8 1000L1082.2 1002.6L1081.6 1000.7L1081 1001.9L1080.4 1003.4L1079.8 1006.2L1079.2 1001.5L1078.6 997.2L1078 997.1L1077.4 997.9L1076.8 995.2L1076.2 992.8L1075.6 997.4L1075 995.8L1074.4 996.1L1073.8 998.5L1073.2 1002L1072.6 1001.4L1072 1006.4L1071.4 1010.1L1070.8 1012.9L1070.2 1010.7L1069.6 1007.9L1069 1000.6L1068.4 993.7L1067.8 988.2L1067.2 987.4L1066.6 986.4L1066 990.4L1065.4 996.2L1064.8 998.9L1064.2 999.3L1063.6 995.2L1063 994.1L1062.4 989.6L1061.8 986L1061.2 989.2L1060.6 994.2L1060 992.7L1059.4 989.2L1058.8 993.4L1058.2 985.1L1057.6 984.1L1057 985.3L1056.4 989.3L1055.8 982.5L1055.2 979.9L1054.6 979.4L1054 977.1L1053.4 976.9L1052.8 977.8L1052.2 983.4L1051.6 985.7L1051 992.4L1050.4 993.5L1049.8 993.1L1049.2 990L1048.6 984.4L1048 982.8L1047.4 981.7L1046.8 978.4L1046.2 974L1045.6 977L1045 973.7L1044.4 973.4L1043.8 972.6L1043.2 972.9L1042.6 969.7L1042 964.9L1041.4 962L1040.8 964.1L1040.2 963.5L1039.6 963.9L1039 967.5L1038.4 971.4L1037.8 971.7L1037.2 974.4L1036.6 973.5L1036 976L1035.4 975.1L1034.8 971.8L1034.2 969.3L1033.6 967.7L1033 964.6L1032.4 963.7L1031.8 964.4L1031.2 961.8L1030.6 959.5L1030 958.5L1029.4 960.8L1028.8 965.5L1028.2 962.7L1027.6 969.1L1027 978.2L1026.4 979.2L1025.8 980.7L1025.2 985L1024.6 981.8L1024 974.8L1023.4 978.1L1022.8 976.9L1022.2 971.9L1021.6 965.1L1021 965.7L1020.4 962.9L1019.8 961.8L1019.2 961.8L1018.6 963.9L1018 959.2L1017.4 958L1016.8 959.9L1016.2 962.4L1015.6 965.4L1015 972.7L1014.4 979.9L1013.8 979.4L1013.2 985.3L1012.6 981.7L1012 976.3L1011.4 968.3L1010.8 965.6L1010.2 957.6L1009.6 956L1009 953.3L1008.4 957L1007.8 957.4L1007.2 957.3L1006.6 959.5L1006 967.3L1005.4 964.6L1004.8 965.5L1004.2 966.4L1003.6 965L1003 958.3L1002.4 958.9L1001.8 954.1L1001.2 953.7L1000.6 954.6L1000 956.5L999.4 962.7L998.8 972.9L998.2 979.2L997.6 982L997 978.9L996.4 968L995.8 959.4L995.2 952.6L994.6 947.9L994 948.1L993.4 947.5L992.8 949.4L992.2 950.1L991.6 952.1L991 947.4L990.4 946.5L989.8 943.9L989.2 938.9L988.6 941L988 946.3L987.4 944.9L986.8 939.1L986.2 937.1L985.6 938.9L985 940.6L984.4 938.6L983.8 940.5L983.2 941.1L982.6 937.5L982 939.5L981.4 937.3L980.8 937.5L980.2 935.3L979.6 932.4L979 929.9L978.4 928L977.8 922.1L977.2 925.2L976.6 926L976 924.2L975.4 924.9L974.8 923.6L974.2 920.3L973.6 918.3L973 917.8L972.4 917.2L971.8 916.7L971.2 918.7L970.6 918.8L970 920.2L969.4 920.3L968.8 916.5L968.2 909.6L967.6 910.9L967 905.7L966.4 904.7L965.8 904.8L965.2 903.7L964.6 904L964 905.4L963.4 902L962.8 904.3L962.2 909.7L961.6 909.5L961 907.2L960.4 909.6L959.8 908.1L959.2 909.7L958.6 911.5L958 915.3L957.4 919.1L956.8 925.3L956.2 924.5L955.6 925.6L955 929.9L954.4 923.8L953.8 920.7L953.2 918.3L952.6 917.5L952 914.8L951.4 913.6L950.8 913.6L950.2 914.3L949.6 916.1L949 913.8L948.4 918.5L947.8 921.4L947.2 919.7L946.6 918.7L946 923.4L945.4 923.6L944.8 925L944.2 933L943.6 933.2L943 934.9L942.4 935.8L941.8 934.5L941.2 931L940.6 932.1L940 932L939.4 933.6L938.8 938.5L938.2 942.7L937.6 944.6L937 943.8L936.4 942.1L935.8 940L935.2 936.5L934.6 937.4L934 936.8L933.4 939.3L932.8 934.4L932.2 937.4L931.6 933.2L931 937.1L930.4 939L929.8 942.4L929.2 939.8L928.6 945.5L928 943.7L927.4 942.2L926.8 944.8L926.2 951L925.6 952.3L925 945.7L924.4 943L923.8 940.9L923.2 936.5L922.6 928.6L922 930L921.4 933.5L920.8 934.2L920.2 931.3L919.6 935.4L919 935.5L918.4 931L917.8 927.4L917.2 932.7L916.6 931.8L916 935.2L915.4 934.1L914.8 936L914.2 934L913.6 937.9L913 937.8L912.4 942.1L911.8 942.3L911.2 938.8L910.6 937.2L910 931.7L909.4 928.5L908.8 926.6L908.2 925.4L907.6 922.8L907 922.9L906.4 924.2L905.8 924.2L905.2 923.7L904.6 922.7L904 925.4L903.4 922.4L902.8 919.9L902.2 922.3L901.6 926.2L901 934.2L900.4 942.1L899.8 942.7L899.2 938.5L898.6 933.8L898 926.6L897.4 924.6L896.8 924.2L896.2 926.7L895.6 925.7L895 924.3L894.4 919.1L893.8 918.1L893.2 915.6L892.6 917.6L892 915.5L891.4 914.9L890.8 910.6L890.2 910.4L889.6 911.2L889 913.3L888.4 914.1L887.8 920.2L887.2 923.1L886.6 926.9L886 934.8L885.4 941.6L884.8 941L884.2 935.1L883.6 930.8L883 938.2L882.4 945L881.8 949L881.2 946.4L880.6 938.1L880 927.8L879.4 933.4L878.8 931.5L878.2 923.6L877.6 922.1L877 921.5L876.4 916L875.8 917.7L875.2 918L874.6 917.3L874 911.7L873.4 908.7L872.8 908L872.2 909.8L871.6 909.9L871 909.6L870.4 914.3L869.8 914.3L869.2 912.6L868.6 910.2L868 907.3L867.4 903.4L866.8 902.7L866.2 904.8L865.6 909.2L865 907.8L864.4 908.6L863.8 913.2L863.2 917.4L862.6 913.7L862 916.6L861.4 915.6L860.8 915L860.2 911.2L859.6 908.4L859 903.2L858.4 901.8L857.8 898.9L857.2 900.5L856.6 900.2L856 903.8L855.4 900.7L854.8 898.7L854.2 894.8L853.6 894.1L853 891.4L852.4 892.4L851.8 891.5L851.2 897.4L850.6 897.5L850 898.3L849.4 898.6L848.8 905.6L848.2 904L847.6 904.4L847 904.8L846.4 905.7L845.8 898L845.2 900L844.6 903.9L844 909L843.4 908.6L842.8 916L842.2 914.8L841.6 919.2L841 909.7L840.4 912.6L839.8 903.1L839.2 901.8L838.6 895.3L838 892.1L837.4 881.3L836.8 882.4L836.2 882.2L835.6 881.3L835 882.5L834.4 882.9L833.8 885.6L833.2 886L832.6 887.4L832 890.8L831.4 898.3L830.8 902.3L830.2 906.3L829.6 903.4L829 899.9L828.4 892.2L827.8 884.3L827.2 876.1L826.6 873L826 871.1L825.4 872.7L824.8 873.3L824.2 878.9L823.6 880.9L823 880L822.4 878.3L821.8 881.5L821.2 880L820.6 876.7L820 876.3L819.4 876.2L818.8 870.8L818.2 865.1L817.6 860.9L817 858.6L816.4 862.6L815.8 865.9L815.2 871.6L814.6 877.6L814 878.6L813.4 875.7L812.8 874.5L812.2 871.2L811.6 864.7L811 861.8L810.4 858.1L809.8 855.9L809.2 859.1L808.6 860.2L808 862.6L807.4 860.2L806.8 857.4L806.2 852.6L805.6 850.4L805 848.3L804.4 852L803.8 857.9L803.2 861.8L802.6 864.6L802 864.4L801.4 866.6L800.8 869.1L800.2 869.6L799.6 873.3L799 878.4L798.4 879.8L797.8 869.2L797.2 866.4L796.6 862.1L796 857L795.4 854.3L794.8 847.5L794.2 845.6L793.6 843.7L793 845.5L792.4 842.6L791.8 846.8L791.2 842L790.6 844L790 840.9L789.4 840.2L788.8 842L788.2 847.9L787.6 847.5L787 850.4L786.4 847.8L785.8 843L785.2 837.4L784.6 835.5L784 828.2L783.4 827.8L782.8 828.2L782.2 832L781.6 830.9L781 839L780.4 840L779.8 843.4L779.2 842.8L778.6 838.9L778 834.9L777.4 837.5L776.8 836.3L776.2 838.7L775.6 842.3L775 838.6L774.4 830L773.8 826.9L773.2 822.4L772.6 821.7L772 819.8L771.4 818.2L770.8 816L770.2 815L769.6 811.7L769 807L768.4 803.4L767.8 801.1L767.2 800.2L766.6 802.9L766 803.9L765.4 806.4L764.8 809.8L764.2 808.9L763.6 811.2L763 810.4L762.4 809.8L761.8 812L761.2 813.5L760.6 812.3L760 814.6L759.4 814.5L758.8 808.5L758.2 809.7L757.6 803.4L757 800.4L756.4 801.6L755.8 802.5L755.2 802.3L754.6 799.6L754 803.5L753.4 801.7L752.8 805L752.2 802.4L751.6 807.4L751 805.7L750.4 801L749.8 795.5L749.2 795.2L748.6 797.4L748 795.7L747.4 797.9L746.8 800.3L746.2 796.2L745.6 791.6L745 795.9L744.4 796.5L743.8 797.8L743.2 797.6L742.6 797.3L742 796.1L741.4 795.5L740.8 793.2L740.2 797.3L739.6 799.5L739 798.9L738.4 798.7L737.8 799.7L737.2 796.6L736.6 790.6L736 787.7L735.4 785.5L734.8 783L734.2 784.5L733.6 790.6L733 792.8L732.4 793L731.8 797.3L731.2 793.1L730.6 788.8L730 784.4L729.4 788.6L728.8 787.2L728.2 793.8L727.6 797.6L727 798.4L726.4 790.1L725.8 786.2L725.2 783.6L724.6 782.3L724 783.9L723.4 786.7L722.8 783.6L722.2 777.7L721.6 780.3L721 782L720.4 781.9L719.8 790.7L719.2 799L718.6 800.7L718 797.6L717.4 802.9L716.8 795.5L716.2 796.9L715.6 793.6L715 794.7L714.4 788.8L713.8 779.3L713.2 776.9L712.6 765.4L712 763.4L711.4 759.9L710.8 759L710.2 750.7L709.6 752.6L709 751.1L708.4 756.2L707.8 761.3L707.2 767.7L706.6 765.9L706 771.4L705.4 762L704.8 760.8L704.2 755.9L703.6 749.3L703 741.2L702.4 739.3L701.8 731.1L701.2 729.4L700.6 730L700 726.3L699.4 726L698.8 726.4L698.2 726.5L697.6 727.8L697 724.5L696.4 726.2L695.8 723.9L695.2 720.8L694.6 716.2L694 719.2L693.4 717.7L692.8 726.3L692.2 729.5L691.6 732.4L691 727.6L690.4 722.4L689.8 712.8L689.2 709.4L688.6 712.5L688 716L687.4 723.2L686.8 725.7L686.2 726.6L685.6 725.9L685 729.7L684.4 728.1L683.8 729.7L683.2 727.9L682.6 725.5L682 722.2L681.4 718.9L680.8 715.7L680.2 717.8L679.6 713.8L679 712.5L678.4 719.2L677.8 727.4L677.2 727.7L676.6 735.9L676 739.3L675.4 739.5L674.8 731L674.2 730.1L673.6 723.2L673 718.6L672.4 715.2L671.8 720.6L671.2 721.3L670.6 727.7L670 726.8L669.4 731.2L668.8 731L668.2 733L667.6 724L667 720.3L666.4 715.6L665.8 714.2L665.2 711.8L664.6 714L664 720.5L663.4 724.2L662.8 726.8L662.2 728.5L661.6 727.8L661 721.4L660.4 719.1L659.8 720L659.2 729L658.6 730.3L658 722.6L657.4 724.6L656.8 722.4L656.2 716.1L655.6 712.7L655 713.9L654.4 713.7L653.8 715L653.2 717.6L652.6 722.9L652 727.3L651.4 727.6L650.8 730L650.2 730.1L649.6 726L649 731.4L648.4 737L647.8 740.1L647.2 745.9L646.6 747.1L646 738.7L645.4 732.9L644.8 730.5L644.2 727.1L643.6 724.5L643 725.8L642.4 722.9L641.8 721.9L641.2 722.8L640.6 721.7L640 723L639.4 720.5L638.8 727.2L638.2 729.5L637.6 735.4L637 738.9L636.4 752L635.8 754.7L635.2 746L634.6 741.2L634 736.9L633.4 730L632.8 721.9L632.2 722.1L631.6 722.7L631 719L630.4 717.5L629.8 718L629.2 715.1L628.6 710L628 709.2L627.4 709.8L626.8 706.2L626.2 706.3L625.6 707.7L625 706.2L624.4 703.8L623.8 705.9L623.2 705.7L622.6 703.6L622 709.3L621.4 708L620.8 705.3L620.2 711.4L619.6 720.9L619 723.8L618.4 731.5L617.8 727.8L617.2 722.6L616.6 715L616 706.2L615.4 698.9L614.8 704L614.2 702.2L613.6 702.2L613 706.4L612.4 706.6L611.8 703.1L611.2 704.7L610.6 701.6L610 701.8L609.4 702.9L608.8 699.6L608.2 689.6L607.6 686.4L607 677.8L606.4 679.7L605.8 680.5L605.2 685.4L604.6 689.9L604 690L603.4 690L602.8 688.7L602.2 683.6L601.6 680.5L601 681.6L600.4 680.7L599.8 682.2L599.2 682.2L598.6 675.9L598 672.9L597.4 671.8L596.8 672.2L596.2 683.4L595.6 695.3L595 702.4L594.4 707.3L593.8 706.1L593.2 694.1L592.6 678.7L592 674.6L591.4 664.1L590.8 664.2L590.2 660.5L589.6 663.8L589 659.1L588.4 661.4L587.8 656.3L587.2 659.8L586.6 656.5L586 657.5L585.4 657.8L584.8 657.9L584.2 654.6L583.6 660.4L583 654.1L582.4 653.8L581.8 655.2L581.2 656.1L580.6 655.2L580 661.1L579.4 654.4L578.8 652.5L578.2 656.8L577.6 652.5L577 656.2L576.4 657.1L575.8 659L575.2 652.4L574.6 650.7L574 644.6L573.4 647.7L572.8 642.6L572.2 641.6L571.6 642.8L571 638.6L570.4 635.9L569.8 636.9L569.2 638.8L568.6 639.8L568 645L567.4 640.5L566.8 639.3L566.2 639.3L565.6 637.2L565 628.7L564.4 631.5L563.8 632.4L563.2 626.6L562.6 627L562 627.4L561.4 628.3L560.8 625.1L560.2 627.3L559.6 628L559 631.5L558.4 630.8L557.8 630.3L557.2 631.1L556.6 627.9L556 628L555.4 626.3L554.8 622.7L554.2 619.8L553.6 622.4L553 618.9L552.4 616.5L551.8 618.3L551.2 617.8L550.6 610.6L550 612.3L549.4 612.4L548.8 611.2L548.2 612L547.6 616.8L547 608.6L546.4 608.2L545.8 606.4L545.2 606.5L544.6 606.4L544 613.4L543.4 611.3L542.8 613.5L542.2 619.2L541.6 629.1L541 633.1L540.4 628.9L539.8 621.7L539.2 607.4L538.6 598.4L538 591.9L537.4 589.3L536.8 591.7L536.2 594.9L535.6 597.2L535 598.9L534.4 602L533.8 598.4L533.2 601.1L532.6 593.2L532 595.7L531.4 595.5L530.8 598.5L530.2 590L529.6 599.3L529 601.5L528.4 599.3L527.8 598.2L527.2 595.8L526.6 593.6L526 593L525.4 598.9L524.8 593.8L524.2 600.7L523.6 604.9L523 602.4L522.4 596.7L521.8 597.2L521.2 591.1L520.6 582L520 580.7L519.4 575.6L518.8 572.8L518.2 573.4L517.6 577.8L517 580.6L516.4 588.6L515.8 595.6L515.2 600.2L514.6 599.5L514 599.7L513.4 602L512.8 601.8L512.2 595.7L511.6 590.6L511 585.6L510.4 586.1L509.8 578L509.2 574.8L508.6 575.1L508 571.6L507.4 569.9L506.8 567.8L506.2 567.5L505.6 566.8L505 569.6L504.4 567.4L503.8 568.8L503.2 564.2L502.6 559.6L502 557.1L501.4 557.9L500.8 555.5L500.2 553.7L499.6 553.5L499 553.4L498.4 552.2L497.8 555.4L497.2 555.2L496.6 552L496 548.6L495.4 550.7L494.8 543.2L494.2 552.9L493.6 557.3L493 564.1L492.4 564.1L491.8 563.4L491.2 557.4L490.6 554.7L490 555.8L489.4 553.5L488.8 556.2L488.2 557.8L487.6 557.9L487 553.9L486.4 554.6L485.8 556.9L485.2 551.8L484.6 557.2L484 558.2L483.4 554.1L482.8 551L482.2 552.2L481.6 542.4L481 547.9L480.4 557.1L479.8 564.6L479.2 572.1L478.6 570.7L478 562.4L477.4 554.3L476.8 545.6L476.2 539.2L475.6 538.4L475 539.7L474.4 543.7L473.8 550.2L473.2 545.4L472.6 552L472 553.6L471.4 556.6L470.8 556.3L470.2 561.8L469.6 562.9L469 569.4L468.4 564L467.8 562.3L467.2 566.5L466.6 568.2L466 560L465.4 556.3L464.8 549.6L464.2 550L463.6 546.8L463 542.5L462.4 540.5L461.8 535.1L461.2 537.5L460.6 543.8L460 546.4L459.4 544.3L458.8 543.3L458.2 540L457.6 534L457 533.4L456.4 534.8L455.8 540.7L455.2 545.7L454.6 550.1L454 542.5L453.4 538.3L452.8 534.2L452.2 530.3L451.6 526.4L451 523.4L450.4 524.6L449.8 521.6L449.2 518.1L448.6 517.4L448 518.5L447.4 515.9L446.8 515.2L446.2 515.5L445.6 512.9L445 512.5L444.4 512.2L443.8 511.4L443.2 510.9L442.6 507.4L442 511.3L441.4 506.7L440.8 509.4L440.2 510.3L439.6 512.3L439 511.2L438.4 512.6L437.8 508.7L437.2 504.1L436.6 501.4L436 497.2L435.4 495.2L434.8 495.9L434.2 497.5L433.6 497.2L433 499.4L432.4 503.4L431.8 505.4L431.2 505.7L430.6 514.6L430 509.2L429.4 504.3L428.8 493.7L428.2 491.7L427.6 492.5L427 499.1L426.4 508.4L425.8 517.8L425.2 526.6L424.6 523.9L424 521.5L423.4 506.3L422.8 498.9L422.2 487.1L421.6 492.9L421 483.9L420.4 488.5L419.8 494.4L419.2 504.6L418.6 500L418 503.5L417.4 498.5L416.8 494L416.2 484.4L415.6 483L415 476.5L414.4 470.2L413.8 465.4L413.2 466.3L412.6 463.1L412 463L411.4 469.1L410.8 466.8L410.2 468.7L409.6 473.2L409 470.7L408.4 467.5L407.8 466.4L407.2 462.5L406.6 456.2L406 460.9L405.4 458.6L404.8 455.5L404.2 463.3L403.6 460.8L403 459.4L402.4 456.7L401.8 462.3L401.2 455.3L400.6 459.8L400 452.6L399.4 450L398.8 447.1L398.2 452.1L397.6 458.1L397 461L396.4 460.8L395.8 465.8L395.2 461.9L394.6 454.4L394 448.6L393.4 445.9L392.8 438.9L392.2 439.7L391.6 445.3L391 444.2L390.4 451.6L389.8 460.6L389.2 463.2L388.6 457.3L388 453.5L387.4 444.7L386.8 429.4L386.2 427.5L385.6 431.7L385 431.7L384.4 429.4L383.8 438.4L383.2 448L382.6 441.4L382 435.5L381.4 431.7L380.8 421.9L380.2 408L379.6 399.5L379 397.4L378.4 392.3L377.8 396L377.2 395.7L376.6 395.3L376 394.4L375.4 389.7L374.8 384.6L374.2 386.1L373.6 386.1L373 384.9L372.4 385.3L371.8 389.4L371.2 391.1L370.6 392.3L370 389.1L369.4 389.2L368.8 378.9L368.2 378.1L367.6 377.5L367 376.1L366.4 379.3L365.8 382.1L365.2 379.8L364.6 374.4L364 371.5L363.4 365.6L362.8 360.2L362.2 360.9L361.6 363L361 369.6L360.4 372.6L359.8 378.2L359.2 373L358.6 369.6L358 367.6L357.4 366.9L356.8 365.9L356.2 369.4L355.6 376.8L355 381.2L354.4 380.1L353.8 374.1L353.2 365.3L352.6 357.9L352 356.4L351.4 350.1L350.8 349.3L350.2 352L349.6 347.4L349 336.3L348.4 343.1L347.8 346.1L347.2 349.7L346.6 352.2L346 353.9L345.4 353.6L344.8 351.8L344.2 350.8L343.6 354.6L343 365.8L342.4 368.8L341.8 377.8L341.2 386L340.6 380.5L340 371.5L339.4 364.9L338.8 356.4L338.2 348L337.6 342.8L337 340.2L336.4 335.9L335.8 329.6L335.2 324.1L334.6 329.4L334 328.8L333.4 331.9L332.8 335.2L332.2 335.7L331.6 330L331 332.2L330.4 328.9L329.8 330.5L329.2 329.4L328.6 330.7L328 329.4L327.4 334.3L326.8 332.3L326.2 340.9L325.6 336.8L325 333L324.4 328.7L323.8 320.1L323.2 312.7L322.6 307.2L322 310.5L321.4 307.6L320.8 311.7L320.2 311.1L319.6 318.1L319 309.9L318.4 310.3L317.8 308.7L317.2 304.7L316.6 307.7L316 312.2L315.4 309.8L314.8 310.1L314.2 310.8L313.6 302L313 297.3L312.4 295.4L311.8 293L311.2 285.4L310.6 282.4L310 281.1L309.4 281.1L308.8 283.1L308.2 287L307.6 290.7L307 291.2L306.4 292.6L305.8 285.8L305.2 286.6L304.6 282.8L304 283.4L303.4 277.5L302.8 285.9L302.2 287.4L301.6 287.2L301 287.3L300.4 297.8L299.8 289.6L299.2 279.1L298.6 277.7L298 273.8L297.4 261.9L296.8 261.7L296.2 264.5L295.6 266.8L295 260.9L294.4 266L293.8 272.9L293.2 279.1L292.6 279.6L292 281.9L291.4 285L290.8 275.3L290.2 268.3L289.6 263.1L289 263.6L288.4 255.7L287.8 259.4L287.2 260.5L286.6 256.9L286 253.9L285.4 250.1L284.8 244.1L284.2 240.1L283.6 241.8L283 234.7L282.4 226.5L281.8 227.3L281.2 226.8L280.6 230.9L280 228.7L279.4 228.8L278.8 227.6L278.2 232.2L277.6 223.3L277 220.1L276.4 217.9L275.8 210.9L275.2 209.2L274.6 211.9L274 216.3L273.4 215.9L272.8 218.2L272.2 210.2L271.6 206.8L271 201.3L270.4 203.5L269.8 194.7L269.2 195.4L268.6 194.2L268 189.2L267.4 183.3L266.8 193.4L266.2 194.7L265.6 195.2L265 197L264.4 203.8L263.8 202.9L263.2 203.6L262.6 205.9L262 203L261.4 196.7L260.8 190.3L260.2 186.1L259.6 187L259 190.7L258.4 190.3L257.8 190.4L257.2 183.4L256.6 192.1L256 192L255.4 198.9L254.8 206.9L254.2 206.9L253.6 196.2L253 201.7L252.4 194.3L251.8 184.4L251.2 184.8L250.6 184.9L250 173.1L249.4 167.4L248.8 165.5L248.2 156.5L247.6 154.4L247 155.8L246.4 157.7L245.8 156.2L245.2 156.3L244.6 149.3L244 144.9L243.4 141.5L242.8 142.3L242.2 142.7L241.6 145.8L241 147.7L240.4 148.5L239.8 146.7L239.2 134.9L238.6 129L238 130.2L237.4 134.7L236.8 130.6L236.2 133.4L235.6 133.4L235 128.8L234.4 126.3L233.8 125.1L233.2 118L232.6 110.6L232 108.8L231.4 102L230.8 97.1L230.2 93.6L229.6 89.8L229 86.1L228.4 86.9L227.8 90.1L227.2 85.3L226.6 86.8L226 84.6L225.4 82.6L224.8 71.8L224.2 67.5L223.6 72.2L223 74L222.4 74.9L221.8 81.6L221.2 83.7L220.6 71.4L220 78.7L219.4 78.4L218.8 75.1L218.2 61.7L217.6 52.1L217 45.6L216.4 50.7L215.8 46.9L215.2 51.1L214.6 41.8L214 35.5L213.4 28.3L212.8 19.7L212.2 18.1L211.6 16.1L211 11.4L210.4 6.9L209.8 10.9L209.2 4.3L208.6 -1.3L208 -5.3L207.4 -13L206.8 -18.7L206.2 -15.5L205.6 -17.6L205 -19.9Z" fill="#00f"/>
<path d="M160 1163.4L161.2 1162.9L162.5 1164L163.7 1164.8L165 1161.8L166.2 1163.1L167.4 1166.2L168.7 1163.5L169.9 1163.4L171.2 1167.6L172.4 1166.7L173.6 1167.7L174.9 1164.6L176.1 1164.3L177.4 1163.7L178.6 1161.7L179.8 1160.4L181.1 1164L182.3 1162.7L183.6 1165.1L184.8 1165.6L186 1161L187.3 1161.1L188.5 1163.9L189.8 1165.9L191 1166.1L192.2 1161.8L193.5 1163.1L194.7 1165.4L196 1161.3L197.2 1160.7L198.4 1164.8L199.7 1160.9L200.9 1159.8L202.2 1164.8L203.4 1160.8L204.6 1160.6L205.9 1161.9L207.1 1162.6L208.4 1136.8L209.6 1097.7L210.8 1048.5L212.1 1036L213.3 1035.7L214.6 1032L215.8 1035.8L217 1041.4L218.3 1091.8L219.5 1132L220.8 1158.9L222 1161.5L223.2 1161.4L224.5 1162.8L225.7 1165.5L227 1160.2L228.2 1164.2L229.4 1165.6L230.7 1161.4L231.9 1161.5L233.2 1162L234.4 1163L235.6 1160.9L236.9 1161.5L238.1 1162.1L239.4 1162.3L240.6 1164.8L241.8 1161.3L243.1 1163.7L244.3 1163.6L245.6 1162.5L246.8 1162.4L248 1160.7L249.3 1160.8L250.5 1162.8L251.8 1162.6L253 1161.6L254.2 1164.2L255.5 1162.4L256.7 1162.2L258 1161.8L259.2 1164L260.4 1163.1L261.7 1162.6L262.9 1159.7L264.2 1165.1L265.4 1159.5L266.6 1162.7L267.9 1159.8L269.1 1159.1L270.4 1156.1L271.6 1162.1L272.8 1162.3L274.1 1161.1L275.3 1160.8L276.6 1159.2L277.8 1161.5L279 1161.1L280.3 1158.8L281.5 1160.6L282.8 1160.9L284 1159.4L285.2 1163.4L286.5 1159L287.7 1164.9L289 1163.4L290.2 1160.4L291.4 1164.2L292.7 1163.3L293.9 1163.5L295.2 1161.5L296.4 1159.4L297.6 1157.3L298.9 1161.6L300.1 1160.8L301.4 1159.9L302.6 1164.7L303.8 1161.8L305.1 1158.2L306.3 1160.6L307.6 1161.8L308.8 1158.5L310 1161.1L311.3 1160.1L312.5 1157.9L313.8 1161.3L315 1161.8L316.2 1155.8L317.5 1161.2L318.7 1159.3L320 1159.7L321.2 1157.3L322.4 1158.4L323.7 1163.4L324.9 1161.4L326.2 1159.8L327.4 1160.2L328.6 1158.3L329.9 1159.3L331.1 1157.5L332.4 1159.1L333.6 1156.1L334.8 1157.9L336.1 1158.5L337.3 1156.1L338.6 1156.7L339.8 1156.6L341 1155L342.3 1153.5L343.5 1158L344.8 1156.2L346 1155.5L347.2 1158.3L348.5 1154.5L349.7 1155.1L351 1154.8L352.2 1154.2L353.4 1155.8L354.7 1154.9L355.9 1158.6L357.2 1154.8L358.4 1158.3L359.6 1154.4L360.9 1155.5L362.1 1156.1L363.4 1154.5L364.6 1157.3L365.8 1155L367.1 1154.9L368.3 1157.3L369.6 1154.7L370.8 1157.2L372 1158L373.3 1157.5L374.5 1158.6L375.8 1155.3L377 1158.3L378.2 1155.1L379.5 1153.1L380.7 1155.7L382 1159.6L383.2 1154.2L384.4 1159.2L385.7 1153.5L386.9 1157.7L388.2 1156.9L389.4 1155.2L390.6 1152L391.9 1157.2L393.1 1157.2L394.4 1156.9L395.6 1157.8L396.8 1154.6L398.1 1159.6L399.3 1157.7L400.6 1154.6L401.8 1160L403 1156.1L404.3 1156.9L405.5 1157.6L406.8 1154.5L408 1154.4L409.2 1155.7L410.5 1154L411.7 1155.7L413 1158.5L414.2 1154L415.4 1156.2L416.7 1155L417.9 1157.5L419.2 1153.9L420.4 1154L421.6 1155.6L422.9 1159.3L424.1 1153.7L425.4 1151.9L426.6 1152.7L427.8 1155.3L429.1 1154.6L430.3 1150.9L431.6 1149.5L432.8 1145.4L434 1149L435.3 1149.2L436.5 1150.1L437.8 1154.9L439 1156.7L440.2 1155.3L441.5 1157.6L442.7 1154.9L444 1157.5L445.2 1162.7L446.4 1159.1L447.7 1160L448.9 1163.9L450.2 1157.7L451.4 1160.6L452.6 1163L453.9 1160.8L455.1 1159.8L456.4 1159.3L457.6 1161.4L458.8 1159L460.1 1161L461.3 1159.9L462.6 1159.9L463.8 1161.6L465 1158.4L466.3 1157.2L467.5 1158.6L468.8 1158.7L470 1157.6L471.2 1154.5L472.5 1158.3L473.7 1153.5L475 1152.6L476.2 1157.4L477.4 1157.8L478.7 1154L479.9 1152.4L481.2 1155.7L482.4 1150.2L483.6 1151.8L484.9 1150.1L486.1 1151.5L487.4 1150.2L488.6 1147.5L489.8 1150.1L491.1 1148.5L492.3 1146.1L493.6 1144.2L494.8 1143.2L496 1139.7L497.3 1140.1L498.5 1138.8L499.8 1139L501 1136.7L502.2 1135.6L503.5 1136.5L504.7 1137.8L506 1137.8L507.2 1137.7L508.4 1138.7L509.7 1143.7L510.9 1143.3L512.2 1143L513.4 1147.4L514.6 1145.5L515.9 1149L517.1 1152.1L518.4 1151.7L519.6 1152.4L520.8 1155.4L522.1 1157.1L523.3 1154.2L524.6 1154.6L525.8 1156L527 1155.7L528.3 1158.8L529.5 1159.3L530.8 1157.7L532 1155.8L533.2 1154.6L534.5 1156.9L535.7 1155.3L537 1157.1L538.2 1153.5L539.4 1154.2L540.7 1153.8L541.9 1155.7L543.2 1154.5L544.4 1153.2L545.6 1151.9L546.9 1152L548.1 1146.7L549.4 1150.3L550.6 1146.4L551.8 1147.2L553.1 1143.6L554.3 1141.5L555.6 1135.4L556.8 1139.3L558 1132.8L559.3 1130.4L560.5 1127.6L561.8 1128.7L563 1124.5L564.2 1131.4L565.5 1131.1L566.7 1131.7L568 1136L569.2 1136.4L570.4 1138.2L571.7 1138.3L572.9 1141.5L574.2 1140.2L575.4 1141.6L576.6 1145.3L577.9 1145.2L579.1 1145L580.4 1147.7L581.6 1144.8L582.8 1150.8L584.1 1146.3L585.3 1146.2L586.6 1150.4L587.8 1144.8L589 1143.3L590.3 1147L591.5 1146.3L592.8 1148.3L594 1146.1L595.2 1143.1L596.5 1145.9L597.7 1145L599 1147.5L600.2 1145.6L601.4 1143.2L602.7 1143.5L603.9 1144.6L605.2 1143.6L606.4 1144.6L607.6 1144.5L608.9 1141.7L610.1 1144L611.4 1144.7L612.6 1140.7L613.8 1139.4L615.1 1142L616.3 1139.9L617.6 1138.6L618.8 1137.7L620 1131.8L621.3 1126.8L622.5 1124.6L623.8 1117.3L625 1112.3L626.2 1104.5L627.5 1087.6L628.7 1068L630 1049.8L631.2 1041.2L632.4 1032.2L633.7 1035.1L634.9 1031.2L636.2 1032.4L637.4 1033.1L638.6 1036.9L639.9 1046.9L641.1 1057.9L642.4 1085L643.6 1105.3L644.8 1119.4L646.1 1133.2L647.3 1144.4L648.6 1147.6L649.8 1148.6L651 1151.3L652.3 1146.2L653.5 1153.1L654.8 1151.6L656 1150.8L657.2 1150.5L658.5 1152.7L659.7 1149.6L661 1153.5L662.2 1151.6L663.4 1154.5L664.7 1150.1L665.9 1154.1L667.2 1152.8L668.4 1151.6L669.6 1156L670.9 1155.9L672.1 1152.3L673.4 1153.5L674.6 1156.8L675.8 1154.4L677.1 1153.2L678.3 1152.7L679.6 1153.1L680.8 1155.5L682 1156.2L683.3 1153.9L684.5 1152.8L685.8 1153.2L687 1151.5L688.2 1155.5L689.5 1154.7L690.7 1156.7L692 1158.8L693.2 1157.2L694.4 1154.1L695.7 1154.2L696.9 1152.5L698.2 1151.1L699.4 1158.2L700.6 1155.3L701.9 1152L703.1 1156L704.4 1150.9L705.6 1154.3L706.8 1154.8L708.1 1153.4L709.3 1153.6L710.6 1155.9L711.8 1153.5L713 1156.4L714.3 1151.1L715.5 1153.5L716.8 1157.2L718 1152.2L719.2 1152.2L720.5 1153.9L721.7 1153L723 1154.1L724.2 1155.4L725.4 1154.5L726.7 1153.8L727.9 1152.5L729.2 1153.5L730.4 1154.7L731.6 1151.3L732.9 1152L734.1 1150.6L735.4 1152.5L736.6 1152.7L737.8 1151.3L739.1 1150.1L740.3 1150.6L741.6 1153.1L742.8 1150.7L744 1153.1L745.3 1150.4L746.5 1149.9L747.8 1152.6L749 1149.6L750.2 1153L751.5 1146.8L752.7 1150.6L754 1149.5L755.2 1149.6L756.4 1150.7L757.7 1146.4L758.9 1153.8L760.2 1148.9L761.4 1154.1L762.6 1151L763.9 1149.7L765.1 1146.4L766.4 1152.2L767.6 1150.1L768.8 1151L770.1 1145.8L771.3 1145.3L772.6 1147.6L773.8 1149.1L775 1149.5L776.3 1150.1L777.5 1146.1L778.8 1145L780 1148.7L781.2 1145.3L782.5 1146.8L783.7 1150.5L785 1145.7L786.2 1146.9L787.4 1146.5L788.7 1145.8L789.9 1146.2L791.2 1146.1L792.4 1145L793.6 1147.4L794.9 1146L796.1 1142.1L797.4 1146.3L798.6 1143.5L799.8 1142.6L801.1 1140.9L802.3 1143L803.6 1140.4L804.8 1137.8L806 1136.4L807.3 1138.6L808.5 1134.5L809.8 1133L811 1137.1L812.2 1132.1L813.5 1131.8L814.7 1130.3L816 1129.8L817.2 1128.2L818.4 1131.5L819.7 1131.1L820.9 1129.6L822.2 1131.5L823.4 1135.5L824.6 1133.6L825.9 1133.9L827.1 1133.8L828.4 1135.6L829.6 1139.9L830.8 1142.8L832.1 1144L833.3 1147.3L834.6 1145.6L835.8 1147.1L837 1148.6L838.3 1150.2L839.5 1147.3L840.8 1150L842 1146.4L843.2 1150.4L844.5 1150.8L845.7 1147.9L847 1149.2L848.2 1150L849.4 1147.5L850.7 1148L851.9 1148L853.2 1149.8L854.4 1150.6L855.6 1147.3L856.9 1147.7L858.1 1150.2L859.4 1147.9L860.6 1148.7L861.8 1150.6L863.1 1149.2L864.3 1151.1L865.6 1149.4L866.8 1149L868 1147.9L869.3 1145.2L870.5 1148.6L871.8 1146L873 1150.8L874.2 1150.7L875.5 1150.2L876.7 1151.4L878 1153.2L879.2 1146.3L880.4 1149.2L881.7 1150.9L882.9 1149L884.2 1149.3L885.4 1151.5L886.6 1150.5L887.9 1147.1L889.1 1152.2L890.4 1148.2L891.6 1150.1L892.8 1150.7L894.1 1146.7L895.3 1152.9L896.6 1151L897.8 1150.6L899 1151.3L900.3 1149.5L901.5 1151.3L902.8 1151.3L904 1146.2L905.2 1148.1L906.5 1152L907.7 1148.5L909 1151.4L910.2 1150.2L911.4 1151.9L912.7 1147.5L913.9 1151.1L915.2 1150.9L916.4 1151.5L917.6 1151.6L918.9 1151.4L920.1 1152L921.4 1152.3L922.6 1150.5L923.8 1154.3L925.1 1151.8L926.3 1150.8L927.6 1153.2L928.8 1149.5L930 1154.1L931.3 1151.7L932.5 1152.5L933.8 1152.6L935 1153.5L936.2 1151.6L937.5 1152L938.7 1153.5L940 1151.9L941.2 1153L942.4 1152.9L943.7 1152.5L944.9 1152L946.2 1151.8L947.4 1152.6L948.6 1151.3L949.9 1151.5L951.1 1158.4L952.4 1153.7L953.6 1155.3L954.8 1154.3L956.1 1155.1L957.3 1154L958.6 1155.6L959.8 1154.2L961 1154.4L962.3 1151.7L963.5 1155.6L964.8 1153.5L966 1153.8L967.2 1154.6L968.5 1154.3L969.7 1153.8L971 1156.1L972.2 1152.3L973.4 1150.3L974.7 1153.3L975.9 1149.9L977.2 1153.5L978.4 1156.1L979.6 1156.6L980.9 1151.9L982.1 1154.6L983.4 1151.7L984.6 1154.4L985.8 1156.3L987.1 1152.8L988.3 1156.6L989.6 1154.4L990.8 1158.5L992 1152.8L993.3 1152.3L994.5 1156.2L995.8 1155.5L997 1155L998.2 1152.5L999.5 1154.2L1000.7 1153L1002 1156.7L1003.2 1155L1004.4 1152.8L1005.7 1152.5L1006.9 1151.3L1008.2 1152.9L1009.4 1153.9L1010.6 1154.7L1011.9 1155.8L1013.1 1153.1L1014.4 1156.1L1015.6 1150.3L1016.8 1153.7L1018.1 1155.1L1019.3 1153L1020.6 1154.3L1021.8 1155.3L1023 1152.9L1024.3 1154.2L1025.5 1155.8L1026.8 1151.7L1028 1155.8L1029.2 1153.6L1030.5 1151.3L1031.7 1154.5L1033 1155L1034.2 1153.5L1035.4 1154.4L1036.7 1154.7L1037.9 1153.9L1039.2 1154L1040.4 1155.3L1041.6 1155.2L1042.9 1153.8L1044.1 1150.5L1045.4 1151.5L1046.6 1153.1L1047.8 1155.8L1049.1 1154.6L1050.3 1156.9L1051.6 1154.5L1052.8 1154.5L1054 1153.1L1055.3 1155.9L1056.5 1151.3L1057.8 1154.3L1059 1153.4L1060.2 1152.7L1061.5 1155.3L1062.7 1154.8L1064 1154.3L1065.2 1153L1066.4 1151L1067.7 1151.2L1068.9 1149L1070.2 1151.1L1071.4 1154.1L1072.6 1156L1073.9 1151.5L1075.1 1155.7L1076.4 1156.8L1077.6 1155.4L1078.8 1156.5L1080.1 1153.4L1081.3 1152.5L1082.6 1153.9L1083.8 1155.1L1085 1154.2L1086.3 1153.7L1087.5 1154.8L1088.8 1151.8L1090 1154.8L1091.2 1149.8L1092.5 1155.9L1093.7 1155.9L1095 1157.5L1096.2 1151.7L1097.4 1152.3L1098.7 1151.5L1099.9 1150.7L1101.2 1149.1L1102.4 1154.7L1103.6 1152.8L1104.9 1153L1106.1 1150L1107.4 1153.4L1108.6 1156.8L1109.8 1153.4L1111.1 1154.6L1112.3 1151L1113.6 1155L1114.8 1153L1116 1153.3L1117.3 1153.7L1118.5 1152.5L1119.8 1154.2L1121 1152.8L1122.2 1152.1L1123.5 1151L1124.7 1150.8L1126 1154.4L1127.2 1154.8L1128.4 1152.6L1129.7 1152.4L1130.9 1151.7L1132.2 1153L1133.4 1155.2L1134.6 1153.1L1135.9 1151.6L1137.1 1154.5L1138.4 1153.9L1139.6 1149.3L1140.8 1151.7L1142.1 1154.7L1143.3 1153.1L1144.6 1152.3L1145.8 1153.1L1147 1150.2L1148.3 1150.2L1149.5 1152.1L1150.8 1152.4L1152 1155.1L1153.2 1152L1154.5 1152.7L1155.7 1154.9L1157 1151L1158.2 1151.5L1159.4 1152L1160.7 1152.4L1161.9 1152.2L1163.2 1153.1L1164.4 1149.6L1165.6 1149.4L1166.9 1151.6L1168.1 1148.7L1169.4 1154.5L1170.6 1150.1L1171.8 1150.5L1173.1 1152.6L1174.3 1152L1175.6 1152.4L1176.8 1151.3L1178 1148.9L1179.3 1150.9L1180.5 1150L1181.8 1148.1L1183 1150.5L1184.2 1152.7L1185.5 1149.3L1186.7 1149.6L1188 1149.5L1189.2 1152.2L1190.4 1147.1L1191.7 1151.6L1192.9 1150.9L1194.2 1150.5L1195.4 1148.9L1196.6 1150.1L1197.9 1154L1199.1 1150.8L1200.4 1149.7L1201.6 1151.8L1202.8 1148L1204.1 1152.3L1205.3 1150L1206.6 1154.7L1207.8 1154.1L1209 1151.2L1210.3 1150.8L1211.5 1149.3L1212.8 1151L1214 1151.2L1215.2 1147.4L1216.5 1147.1L1217.7 1150.8L1219 1148.7L1220.2 1150L1221.4 1149.9L1222.7 1149.9L1223.9 1149.1L1225.2 1150.6L1226.4 1152.1L1227.6 1152.4L1228.9 1148.7L1230.1 1149.6L1231.4 1149.5L1232.6 1146.6L1233.8 1146.4L1235.1 1149L1236.3 1150L1237.6 1150.5L1238.8 1147.9L1240 1150.2L1241.3 1148.8L1242.5 1148.2L1243.8 1150.7L1245 1145.8L1246.2 1144.7L1247.5 1152.3L1248.7 1148.7L1250 1150.2L1251.2 1148.5L1252.4 1147.4L1253.7 1146.6L1254.9 1145.4L1256.2 1149L1257.4 1146.7L1258.6 1148.3L1259.9 1149L1261.1 1148.4L1262.4 1148.6L1263.6 1151.1L1264.8 1148.9L1266.1 1148.8L1267.3 1148.1L1268.6 1150.9L1269.8 1150.6L1271 1147.2L1272.3 1149L1273.5 1148L1274.8 1147.5L1276 1146.6L1277.2 1151.5L1278.5 1149.2L1279.7 1144.4L1281 1150.1L1282.2 1151.4L1283.4 1148.4L1284.7 1148L1285.9 1148.4L1287.2 1149.8L1288.4 1147.1L1289.6 1148.8L1290.9 1145.4L1292.1 1150.2L1293.4 1146.1L1294.6 1147.4L1295.8 1148.8L1297.1 1149.9L1298.3 1146.8L1299.6 1146.8L1300.8 1150.8L1302 1146.9L1303.3 1146.6L1304.5 1147.1L1305.8 1149.3L1307 1149.3L1308.2 1149.9L1309.5 1148.8L1310.7 1147.3L1312 1148.9L1313.2 1149.4L1314.4 1146L1315.7 1146.9L1316.9 1148L1318.2 1151L1319.4 1147.5L1320.6 1148.2L1321.9 1148.1L1323.1 1148.7L1324.4 1149.2L1325.6 1146.2L1326.8 1142.9L1328.1 1149.5L1329.3 1144.3L1330.6 1148.6L1331.8 1148.8L1333 1149.3L1334.3 1146.2L1335.5 1148.7L1336.8 1149.3L1338 1149.3L1339.2 1150.3L1340.5 1146.3L1341.7 1147.1L1343 1147.6L1344.2 1148L1345.4 1149.9L1346.7 1149.6L1347.9 1148.3L1349.2 1151.2L1350.4 1149.2L1351.6 1146L1352.9 1150.4L1354.1 1145.7L1355.4 1145.8L1356.6 1147.3L1357.8 1147.2L1359.1 1147.9L1360.3 1148.1L1361.6 1146.6L1362.8 1146.7L1364 1149.3L1365.3 1148.6L1366.5 1147.6L1367.8 1146.6L1369 1148.1L1370.2 1146.3L1371.5 1145.7L1372.7 1149.8L1374 1149.2L1375.2 1147.3L1376.4 1150.6L1377.7 1147.4L1378.9 1148.6L1380.2 1148.1L1381.4 1147.2L1382.6 1147L1383.9 1149.3L1385.1 1147.9L1386.4 1142.5L1387.6 1146.7L1388.8 1141.2L1390.1 1143L1391.3 1145.3L1392.6 1142.1L1393.8 1145.9L1395 1142.6L1396.3 1143.9L1397.5 1143L1398.8 1143.4L1400 1143.9L1401.2 1138.4L1402.5 1140.5L1403.7 1140.5L1405 1141.6L1406.2 1140.2L1407.4 1138.3L1408.7 1135.9L1409.9 1135L1411.2 1135.8L1412.4 1137.3L1413.6 1136.8L1414.9 1138.7L1416.1 1136.2L1417.4 1136.7L1418.6 1132.4L1419.8 1135L1421.1 1133.3L1422.3 1132.8L1423.6 1135.8L1424.8 1133.2L1426 1132.8L1427.3 1132.6L1428.5 1129.9L1429.8 1129.2L1431 1135.4L1432.2 1131.9L1433.5 1131.5L1434.7 1131.7L1436 1130.3L1437.2 1130.4L1438.4 1129.2L1439.7 1131.1L1440.9 1130L1442.2 1132L1443.4 1132.7L1444.6 1127.8L1445.9 1130.7L1447.1 1128.6L1448.4 1133L1449.6 1129.3L1450.8 1130.5L1452.1 1127.6L1453.3 1130.6L1454.6 1126.8L1455.8 1125.7L1457 1123.3L1458.3 1127.4L1459.5 1126.6L1460.8 1127.5L1462 1125.3L1463.2 1126.7L1464.5 1126.5L1465.7 1124.4L1467 1129.7L1468.2 1130.1L1469.4 1126.4L1470.7 1126.7L1471.9 1126.8L1473.2 1126.7L1474.4 1123.8L1475.6 1125.6L1476.9 1128.2L1478.1 1124.5L1479.4 1124.2L1480.6 1122.9L1481.8 1123.6L1483.1 1120.3L1484.3 1124L1485.6 1125.9L1486.8 1124.5L1488 1124.1L1489.3 1123.7L1490.5 1123.6L1491.8 1121.5L1493 1119.9L1494.2 1126.6L1495.5 1124L1496.7 1119L1498 1125.8L1499.2 1122.1L1500.4 1124.5L1501.7 1122.5L1502.9 1121.4L1504.2 1124.1L1505.4 1121.9L1506.6 1118L1507.9 1123.4L1509.1 1122.2L1510.4 1122.2L1511.6 1121.7L1512.8 1123L1514.1 1124.9L1515.3 1124L1516.6 1122.7L1517.8 1122.4L1519 1120.9L1520.3 1125.5L1521.5 1118.8L1522.8 1120.6L1524 1122.2L1525.2 1122.8L1526.5 1123.2L1527.7 1122.2L1529 1126.5L1530.2 1125.5L1531.4 1120.1L1532.7 1122L1533.9 1121.5L1535.2 1126.8L1536.4 1123.6L1537.6 1121.9L1538.9 1124.5L1540.1 1122.9L1541.4 1125.6L1542.6 1127.1L1543.8 1124.1L1545.1 1126.9L1546.3 1127.5L1547.6 1126.2L1548.8 1129.1L1550 1127.7L1551.3 1130.9L1552.5 1130.3L1553.8 1130.5L1555 1134.8L1556.2 1134.9L1557.5 1133.4L1558.7 1129L1560 1136L1561.2 1135.3L1562.4 1137.6L1563.7 1137.4L1564.9 1137.3L1566.2 1137.6L1567.4 1141.1L1568.6 1141.5L1569.9 1141.5L1571.1 1137.3L1572.4 1139L1573.6 1140.2L1574.8 1136.6L1576.1 1142.4L1577.3 1138.7L1578.6 1142.7L1579.8 1140.1L1581 1142.1L1582.3 1138.4L1583.5 1137.1L1584.8 1140.5L1586 1139.5L1587.2 1139.8L1588.5 1141.5L1589.7 1143L1591 1144.1L1592.2 1140.9L1593.4 1140L1594.7 1142.6L1595.9 1140.8L1597.2 1140.6L1598.4 1142L1599.6 1144.9L1600.9 1143.3L1602.1 1139L1603.4 1146.4L1604.6 1140.4L1605.8 1143.1L1607.1 1141.3L1608.3 1144.6L1609.6 1143.6L1610.8 1145L1612 1143.3L1613.3 1142.6L1614.5 1145.1L1615.8 1139.3L1617 1140.5L1618.2 1140.2L1619.5 1142.5L1620.7 1141.9L1622 1141.3L1623.2 1144.1L1624.4 1143.8L1625.7 1141.9L1626.9 1140.2L1628.2 1146.8L1629.4 1143.4L1630.6 1141.8L1631.9 1143.1L1633.1 1143.5L1634.4 1141.7L1635.6 1144.3L1636.8 1143.1L1638.1 1142L1639.3 1145L1640.6 1142.1L1641.8 1145.3L1643 1143.2L1644.3 1142.5L1645.5 1145.1L1646.8 1142.2L1648 1143.9L1649.2 1145.4L1650.5 1142.2L1651.7 1141.8L1653 1144.3L1654.2 1144.7L1655.4 1138.9L1656.7 1143.9L1657.9 1145L1659.2 1141.9L1660.4 1144.8L1661.6 1142.3L1662.9 1141.7L1664.1 1142.3L1665.4 1144.3L1666.6 1142.2L1667.8 1141.9L1669.1 1142.9L1670.3 1144.3L1671.6 1139.1L1672.8 1144.9L1674 1145.4L1675.3 1140.9L1676.5 1142.7L1677.8 1143.6L1679 1143L1680.2 1146.2L1681.5 1143L1682.7 1141.8L1684 1142L1685.2 1143.4L1686.4 1141.4L1687.7 1141.6L1688.9 1141.8L1690.2 1145.8L1691.4 1143.9L1692.6 1140.6L1693.9 1143.6L1695.1 1137.8L1696.4 1142.7L1697.6 1143.9L1698.8 1143.4L1700.1 1143.7L1701.3 1143.1L1702.6 1141.5L1703.8 1142.3L1705 1142.3L1706.3 1140L1707.5 1142.8L1708.8 1140.9L1710 1143.9L1711.2 1146.9L1712.5 1146.6L1713.7 1147.5L1715 1142L1716.2 1141.9L1717.4 1143.9L1718.7 1141.1L1719.9 1143.9L1721.2 1141.7L1722.4 1143.3L1723.6 1142L1724.9 1145.6L1726.1 1144.8L1727.4 1144.2L1728.6 1140.4L1729.8 1144.9L1731.1 1141.9L1732.3 1140.2L1733.6 1143.2L1734.8 1144.6L1736 1139.9L1737.3 1144L1738.5 1142.2L1739.8 1142.2L1741 1143.5L1742.2 1142L1743.5 1141.4L1744.7 1144.6L1746 1138L1747.2 1144.4L1748.4 1140.2L1749.7 1144.8L1750.9 1140.4L1752.2 1145L1753.4 1139.3L1754.6 1145.8L1755.9 1142.8L1757.1 1142.1L1758.4 1141.9L1759.6 1144.4L1760.8 1142.2L1762.1 1143.6L1763.3 1142.7L1764.6 1140.4L1765.8 1145.5L1767 1142.1L1768.3 1143L1769.5 1142.9L1770.8 1142.4L1772 1145.5L1773.2 1143.1L1774.5 1141.9L1775.7 1142.5L1777 1141.8L1778.2 1140.3L1779.4 1144.4L1780.7 1140.5L1781.9 1144.5L1783.2 1142.5L1784.4 1143.8L1785.6 1142.2L1786.9 1141.7L1788.1 1146.4L1789.4 1141.5L1790.6 1140.5L1791.8 1143L1793.1 1144.7L1794.3 1139.8L1795.6 1141.2L1796.8 1143.7L1798 1143.8L1799.3 1143.1L1800.5 1141.3L1801.8 1142.5L1803 1140.8L1804.2 1142.9L1805.5 1142L1806.7 1142.5L1808 1141.6L1809.2 1143.2L1810.4 1142L1811.7 1140.6L1812.9 1144.5L1814.2 1142.3L1815.4 1141.3L1816.6 1141.5L1817.9 1144.5L1819.1 1141.9L1820.4 1142.3L1821.6 1140.2L1822.8 1141.1L1824.1 1140.6L1825.3 1140.1L1826.6 1139.7L1827.8 1140.9L1829 1139.2L1830.3 1142.6L1831.5 1142.8L1832.8 1139.8L1834 1142.1L1835.2 1140L1836.5 1141.9L1837.7 1142L1839 1138.2L1840.2 1136.7L1841.4 1142L1842.7 1142L1843.9 1141L1845.2 1140L1846.4 1139.7L1847.6 1136.3L1848.9 1143.4L1850.1 1136.8L1851.4 1141.2L1852.6 1140.4L1853.8 1141.3L1855.1 1138.5L1856.3 1139.1L1857.6 1141.4L1858.8 1138.5L1860 1140.7L1861.3 1138.1L1862.5 1140.8L1863.8 1141.3L1865 1140.4L1866.2 1141.3L1867.5 1138.2L1868.7 1139.3L1870 1139.6L1871.2 1142.7L1872.4 1139.1L1873.7 1140.1L1874.9 1142.2L1876.2 1140.4L1877.4 1141.6L1878.6 1138.1L1879.9 1141.7L1881.1 1139.9L1882.4 1140.8L1883.6 1141.1L1884.8 1136.4L1886.1 1141.8L1887.3 1138.9L1888.6 1141.7L1889.8 1139.1L1891 1140L1892.3 1136.8L1893.5 1137.4L1894.8 1141.3L1896 1137.9L1897.2 1139.9L1898.5 1139.2L1899.7 1137.3L1901 1138.9L1902.2 1139L1903.4 1140.3L1904.7 1138.5L1905.9 1138.1L1907.2 1141.6L1908.4 1141.7L1909.6 1139.2L1910.9 1137.2L1912.1 1139.7L1913.4 1138.1L1914.6 1141.5L1915.8 1138.9L1917.1 1137.7L1918.3 1138.3L1919.6 1137.1L1920.8 1138.6L1922 1136.4L1923.3 1139.1L1924.5 1140.1L1925.8 1139.5L1927 1136.9L1928.2 1139.2L1929.5 1137.8L1930.7 1135.9L1932 1138.2L1933.2 1139.9L1934.4 1138.7L1935.7 1137.7L1936.9 1137.1L1938.2 1138.1L1939.4 1139L1940.6 1138.4L1941.9 1140.1L1943.1 1139.5L1944.4 1139.8L1945.6 1137.4L1946.8 1138.7L1948.1 1138L1949.3 1138.6L1950.6 1138.4L1951.8 1142.1" stroke="#000" stroke-width="10"/>
<path d="M156 1372.8L157.2 1372.1L158.5 1367.4L159.7 1366.2L161 1363.7L162.2 1364.4L163.4 1360.1L164.7 1358L165.9 1358.7L167.2 1357.7L168.4 1352.8L169.6 1359.4L170.9 1354.3L172.1 1358.6L173.4 1358.1L174.6 1358.5L175.8 1356.5L177.1 1354.8L178.3 1355.1L179.6 1358.8L180.8 1355.9L182 1357.6L183.3 1356.5L184.5 1356.3L185.8 1359.1L187 1356L188.2 1357.4L189.5 1357.4L190.7 1358.3L192 1358L193.2 1356.5L194.4 1357.7L195.7 1358L196.9 1362.2L198.2 1360.2L199.4 1358.7L200.6 1359.2L201.9 1358.5L203.1 1361.8L204.4 1358.3L205.6 1356.3L206.8 1364.2L208.1 1354.3L209.3 1325.7L210.6 1258.8L211.8 1175.7L213 1173.8L214.3 1173.6L215.5 1176.7L216.8 1177.5L218 1265.1L219.2 1324.2L220.5 1356.7L221.7 1360.2L223 1363.8L224.2 1365.2L225.4 1363.6L226.7 1367.9L227.9 1366.8L229.2 1366.9L230.4 1365.3L231.6 1368.9L232.9 1366.2L234.1 1367.7L235.4 1365.9L236.6 1365.6L237.8 1365.8L239.1 1365.2L240.3 1367.5L241.6 1370.6L242.8 1370.3L244 1367L245.3 1367.2L246.5 1371.4L247.8 1370.2L249 1368.9L250.2 1368.3L251.5 1368.4L252.7 1365.1L254 1368.2L255.2 1373.1L256.4 1372.3L257.7 1369L258.9 1371L260.2 1370.7L261.4 1368.7L262.6 1368.2L263.9 1368.9L265.1 1370.3L266.4 1372.3L267.6 1370.5L268.8 1370.2L270.1 1369.7L271.3 1372.5L272.6 1373.2L273.8 1370.8L275 1370L276.3 1371L277.5 1371.6L278.8 1372.7L280 1372.3L281.2 1369.3L282.5 1370.5L283.7 1370L285 1371.9L286.2 1368.9L287.4 1367.7L288.7 1371L289.9 1370.1L291.2 1370.2L292.4 1370.8L293.6 1369.4L294.9 1371.2L296.1 1369.1L297.4 1369L298.6 1372.1L299.8 1370.6L301.1 1373.1L302.3 1371.7L303.6 1370L304.8 1370.3L306 1369.5L307.3 1371.3L308.5 1372.3L309.8 1371.3L311 1371.7L312.2 1369.7L313.5 1373.6L314.7 1372.5L316 1373.2L317.2 1369.5L318.4 1371.2L319.7 1370.2L320.9 1374.3L322.2 1371.3L323.4 1375.6L324.6 1372.4L325.9 1370.7L327.1 1373.9L328.4 1374.8L329.6 1371.5L330.8 1370.8L332.1 1371.7L333.3 1369.8L334.6 1370.1L335.8 1368.2L337 1371L338.3 1369.7L339.5 1372.3L340.8 1372.5L342 1373.9L343.2 1372.6L344.5 1371.8L345.7 1374.4L347 1371L348.2 1368.6L349.4 1369.9L350.7 1371.6L351.9 1373.3L353.2 1374.1L354.4 1370.7L355.6 1374.3L356.9 1373.2L358.1 1373.6L359.4 1370.8L360.6 1372.2L361.8 1368.9L363.1 1372.8L364.3 1372L365.6 1373.9L366.8 1374.7L368 1371.2L369.3 1374.4L370.5 1374.7L371.8 1372.4L373 1376.2L374.2 1371.6L375.5 1370.5L376.7 1373.1L378 1376L379.2 1374L380.4 1370.1L381.7 1372.3L382.9 1375.3L384.2 1371.9L385.4 1373L386.6 1371.5L387.9 1376.7L389.1 1376.3L390.4 1371.1L391.6 1370.3L392.8 1374.4L394.1 1374.2L395.3 1373.5L396.6 1373.7L397.8 1373L399 1375.2L400.3 1375.1L401.5 1375.9L402.8 1375.2L404 1372.7L405.2 1372.9L406.5 1373.2L407.7 1373.9L409 1372.6L410.2 1372.3L411.4 1373.3L412.7 1373L413.9 1373.6L415.2 1376.6L416.4 1376.1L417.6 1373L418.9 1374L420.1 1373.4L421.4 1372.4L422.6 1374.8L423.8 1370.4L425.1 1374.2L426.3 1373.3L427.6 1371.7L428.8 1374.6L430 1375.5L431.3 1374.2L432.5 1374.5L433.8 1372.2L435 1374.5L436.2 1376.4L437.5 1371.8L438.7 1377.6L440 1370.7L441.2 1375.3L442.4 1372.6L443.7 1374L444.9 1373.4L446.2 1373.3L447.4 1374.9L448.6 1372.5L449.9 1373.2L451.1 1374.6L452.4 1372.1L453.6 1368.4L454.8 1370.9L456.1 1370.5L457.3 1369.7L458.6 1372L459.8 1370.8L461 1368.9L462.3 1369L463.5 1367.1L464.8 1368.3L466 1372.2L467.2 1365.6L468.5 1371.5L469.7 1367.8L471 1367.1L472.2 1366.1L473.4 1364.4L474.7 1367.1L475.9 1364.9L477.2 1363.7L478.4 1364.1L479.6 1366.3L480.9 1362.1L482.1 1361.9L483.4 1363.9L484.6 1359L485.8 1361.6L487.1 1363.6L488.3 1358.7L489.6 1355.1L490.8 1359L492 1356L493.3 1358L494.5 1355.6L495.8 1354.3L497 1351.3L498.2 1354.1L499.5 1352L500.7 1351.4L502 1351L503.2 1350.7L504.4 1350.3L505.7 1350.2L506.9 1348.3L508.2 1351.3L509.4 1353.1L510.6 1357.1L511.9 1358.6L513.1 1356.4L514.4 1358.5L515.6 1359.3L516.8 1361.9L518.1 1362.9L519.3 1364.6L520.6 1363.4L521.8 1365L523 1370.2L524.3 1365.4L525.5 1370.6L526.8 1369.9L528 1370.5L529.2 1369.2L530.5 1368.9L531.7 1370.1L533 1368.1L534.2 1367.9L535.4 1367L536.7 1367.6L537.9 1366.1L539.2 1365L540.4 1365.9L541.6 1364.4L542.9 1361L544.1 1362.4L545.4 1364.1L546.6 1361.6L547.8 1362.8L549.1 1356.3L550.3 1358.9L551.6 1353.7L552.8 1356.8L554 1353.3L555.3 1352.8L556.5 1352.6L557.8 1349.2L559 1348.4L560.2 1348.1L561.5 1349.5L562.7 1350.3L564 1346.7L565.2 1346.7L566.4 1348.8L567.7 1347.1L568.9 1347.5L570.2 1351.5L571.4 1350.5L572.6 1354.8L573.9 1351.3L575.1 1356.1L576.4 1356.2L577.6 1354L578.8 1355.2L580.1 1350.3L581.3 1355.4L582.6 1355L583.8 1353.4L585 1357.1L586.3 1350.4L587.5 1355.7L588.8 1354.4L590 1354.4L591.2 1351.3L592.5 1354.8L593.7 1352.6L595 1353.6L596.2 1354.7L597.4 1351.4L598.7 1347.7L599.9 1353L601.2 1352.6L602.4 1351.6L603.6 1350.7L604.9 1350L606.1 1351.5L607.4 1352L608.6 1349.9L609.8 1352.5L611.1 1349.4L612.3 1350.4L613.6 1348.5L614.8 1348.1L616 1349.1L617.3 1347.8L618.5 1347.6L619.8 1343.9L621 1336.1L622.2 1329.6L623.5 1320.3L624.7 1310.8L626 1301.9L627.2 1290.2L628.4 1277.7L629.7 1265L630.9 1249.4L632.2 1239L633.4 1224.7L634.6 1206.4L635.9 1202.1L637.1 1193.9L638.4 1189.4L639.6 1190.4L640.8 1202.8L642.1 1232.5L643.3 1276.4L644.6 1311.9L645.8 1344.5L647 1354L648.3 1356.7L649.5 1360.6L650.8 1365.9L652 1361.3L653.2 1367.4L654.5 1365.5L655.7 1368.3L657 1368.7L658.2 1371.4L659.4 1368.7L660.7 1373.5L661.9 1369.7L663.2 1368L664.4 1371L665.6 1372.2L666.9 1372.1L668.1 1372.6L669.4 1370.7L670.6 1373.7L671.8 1372.8L673.1 1369.8L674.3 1370.8L675.6 1370.3L676.8 1371.1L678 1372.1L679.3 1371L680.5 1371.5L681.8 1373.2L683 1373.4L684.2 1374.5L685.5 1366.5L686.7 1370.9L688 1370.8L689.2 1371.2L690.4 1370.6L691.7 1370.5L692.9 1373.4L694.2 1374.4L695.4 1370.3L696.6 1373.5L697.9 1368.4L699.1 1373.2L700.4 1375.1L701.6 1373.9L702.8 1370.7L704.1 1370.6L705.3 1371.6L706.6 1374.3L707.8 1372.6L709 1372.3L710.3 1372.7L711.5 1369.8L712.8 1367.8L714 1370.4L715.2 1370.5L716.5 1371.7L717.7 1371.2L719 1376.6L720.2 1370L721.4 1369.7L722.7 1373L723.9 1370.4L725.2 1373.6L726.4 1373.4L727.6 1371.4L728.9 1371.1L730.1 1366.8L731.4 1371.7L732.6 1369.6L733.8 1370.2L735.1 1370.6L736.3 1369L737.6 1366.9L738.8 1367.5L740 1366.5L741.3 1369.7L742.5 1367.8L743.8 1367.8L745 1366.7L746.2 1367.2L747.5 1365.2L748.7 1367.3L750 1365.1L751.2 1367.3L752.4 1366.3L753.7 1367.4L754.9 1368.4L756.2 1367.2L757.4 1366.6L758.6 1367.8L759.9 1365.2L761.1 1366.1L762.4 1366.8L763.6 1363.5L764.8 1364.8L766.1 1369.5L767.3 1366.2L768.6 1366.1L769.8 1366.7L771 1365.3L772.3 1364.8L773.5 1365L774.8 1367.3L776 1368.2L777.2 1364.3L778.5 1365L779.7 1366L781 1363.1L782.2 1365.2L783.4 1366.9L784.7 1367L785.9 1369.2L787.2 1364.3L788.4 1364.9L789.6 1366.4L790.9 1365.3L792.1 1366.8L793.4 1364.7L794.6 1361.6L795.8 1363.2L797.1 1361.6L798.3 1364.8L799.6 1366.7L800.8 1365.5L802 1363.6L803.3 1360.9L804.5 1364.3L805.8 1363.1L807 1363.2L808.2 1364.3L809.5 1368.4L810.7 1363.5L812 1362.9L813.2 1361.7L814.4 1365.9L815.7 1362.6L816.9 1360.9L818.2 1363.4L819.4 1364.7L820.6 1362L821.9 1364.1L823.1 1361.3L824.4 1366.4L825.6 1362.2L826.8 1364.2L828.1 1362.6L829.3 1363.4L830.6 1364.9L831.8 1363.4L833 1364.3L834.3 1366.6L835.5 1369.1L836.8 1366.1L838 1364.7L839.2 1365.1L840.5 1362.5L841.7 1362.9L843 1362.9L844.2 1365.7L845.4 1364.8L846.7 1364.4L847.9 1369.3L849.2 1365.1L850.4 1366.7L851.6 1366.1L852.9 1365.4L854.1 1366.3L855.4 1362.8L856.6 1365.7L857.8 1367.4L859.1 1368.6L860.3 1365.4L861.6 1368.3L862.8 1367.4L864 1365.3L865.3 1363.2L866.5 1366.7L867.8 1365.1L869 1368.3L870.2 1367.1L871.5 1363.8L872.7 1365.7L874 1367.3L875.2 1369L876.4 1362.2L877.7 1367.7L878.9 1364.6L880.2 1366.6L881.4 1365.5L882.6 1368.8L883.9 1367.9L885.1 1370.5L886.4 1369.7L887.6 1366.2L888.8 1363.7L890.1 1367.2L891.3 1366.8L892.6 1368L893.8 1366.6L895 1366.9L896.3 1369.5L897.5 1368.6L898.8 1367.1L900 1369.1L901.2 1366.9L902.5 1368.6L903.7 1370.3L905 1367.8L906.2 1366.4L907.4 1369.1L908.7 1368.3L909.9 1372.2L911.2 1368.9L912.4 1368.1L913.6 1367.2L914.9 1365.3L916.1 1368L917.4 1369.7L918.6 1368L919.8 1370.7L921.1 1371.5L922.3 1371.3L923.6 1369L924.8 1368.9L926 1372L927.3 1369.4L928.5 1369.6L929.8 1369.9L931 1373.4L932.2 1367.9L933.5 1373.4L934.7 1373.1L936 1374.5L937.2 1372.7L938.4 1376L939.7 1373.5L940.9 1370.8L942.2 1370L943.4 1372.7L944.6 1373.7L945.9 1373.6L947.1 1375L948.4 1375.4L949.6 1369.1L950.8 1373.6L952.1 1373.8L953.3 1375L954.6 1372.7L955.8 1376.4L957 1374.6L958.3 1377L959.5 1373.6L960.8 1374.7L962 1372.7L963.2 1373.5L964.5 1374.8L965.7 1374.5L967 1376.1L968.2 1376.5L969.4 1375.8L970.7 1376L971.9 1374.1L973.2 1375.4L974.4 1375.9L975.6 1375.1L976.9 1377.8L978.1 1377.5L979.4 1375.2L980.6 1375.9L981.8 1376.6L983.1 1376.9L984.3 1379.5L985.6 1376.5L986.8 1375.8L988 1377.6L989.3 1378.1L990.5 1379.1L991.8 1375.2L993 1376.5L994.2 1377.3L995.5 1377.2L996.7 1374.2L998 1377.6L999.2 1379.5L1000.4 1378L1001.7 1376.7L1002.9 1375.1L1004.2 1375.1L1005.4 1376.8L1006.6 1375.6L1007.9 1375.6L1009.1 1374L1010.4 1377.7L1011.6 1378.4L1012.8 1376.7L1014.1 1378L1015.3 1377.1L1016.6 1379.8L1017.8 1376.7L1019 1376.8L1020.3 1374.7L1021.5 1376.8L1022.8 1376.2L1024 1376L1025.2 1379.5L1026.5 1378.2L1027.7 1378.7L1029 1377.4L1030.2 1375.2L1031.4 1376.9L1032.7 1378.7L1033.9 1375.4L1035.2 1376.6L1036.4 1376.8L1037.6 1378.7L1038.9 1376.9L1040.1 1378.2L1041.4 1378L1042.6 1376.4L1043.8 1377.3L1045.1 1374.7L1046.3 1376L1047.6 1377.9L1048.8 1377.6L1050 1377.6L1051.3 1377L1052.5 1378.4L1053.8 1378.1L1055 1377.1L1056.2 1374.1L1057.5 1382.4L1058.7 1381.1L1060 1375.5L1061.2 1379.7L1062.4 1376.6L1063.7 1379.2L1064.9 1375.5L1066.2 1377L1067.4 1376.2L1068.6 1378.3L1069.9 1378.6L1071.1 1377.2L1072.4 1373L1073.6 1377.2L1074.8 1375.1L1076.1 1379.8L1077.3 1376.1L1078.6 1373.2L1079.8 1376.8L1081 1374.6L1082.3 1377.8L1083.5 1374.8L1084.8 1377.7L1086 1374L1087.2 1379.1L1088.5 1376.9L1089.7 1378.2L1091 1376.5L1092.2 1380.6L1093.4 1376.5L1094.7 1378.1L1095.9 1376.7L1097.2 1379.1L1098.4 1374.3L1099.6 1374.1L1100.9 1377.8L1102.1 1375.5L1103.4 1375.1L1104.6 1377.7L1105.8 1376.8L1107.1 1372.4L1108.3 1377L1109.6 1375.8L1110.8 1374.9L1112 1378.1L1113.3 1377.8L1114.5 1379.2L1115.8 1375.8L1117 1375.1L1118.2 1381.4L1119.5 1378.3L1120.7 1378L1122 1375.1L1123.2 1375.9L1124.4 1378.1L1125.7 1371.3L1126.9 1374.3L1128.2 1377.2L1129.4 1373.2L1130.6 1377.9L1131.9 1376.2L1133.1 1373.5L1134.4 1376.6L1135.6 1376.6L1136.8 1376.4L1138.1 1377.6L1139.3 1373.7L1140.6 1375.6L1141.8 1377.4L1143 1377L1144.3 1376.9L1145.5 1381.6L1146.8 1375.8L1148 1375.4L1149.2 1377.6L1150.5 1376.1L1151.7 1378.2L1153 1376.2L1154.2 1379.7L1155.4 1375.3L1156.7 1376L1157.9 1378.1L1159.2 1376.6L1160.4 1378.2L1161.6 1377.9L1162.9 1378.1L1164.1 1374.3L1165.4 1378.2L1166.6 1376.7L1167.8 1377.2L1169.1 1375.1L1170.3 1377.5L1171.6 1378.1L1172.8 1377.3L1174 1377.6L1175.3 1377L1176.5 1376.3L1177.8 1377.5L1179 1376.3L1180.2 1376.4L1181.5 1377.5L1182.7 1378.4L1184 1379.8L1185.2 1378.7L1186.4 1376.8L1187.7 1375.2L1188.9 1377.3L1190.2 1374.8L1191.4 1374.9L1192.6 1373.2L1193.9 1378.9L1195.1 1378.7L1196.4 1374.7L1197.6 1376.8L1198.8 1377.3L1200.1 1379.4L1201.3 1379.2L1202.6 1375L1203.8 1377.2L1205 1373.8L1206.3 1376.4L1207.5 1376.7L1208.8 1376.1L1210 1374.5L1211.2 1375.9L1212.5 1380.4L1213.7 1375.4L1215 1376.6L1216.2 1378.3L1217.4 1378L1218.7 1375.9L1219.9 1379.1L1221.2 1379.1L1222.4 1376.9L1223.6 1377.1L1224.9 1376.3L1226.1 1377.5L1227.4 1377.1L1228.6 1378.6L1229.8 1373.5L1231.1 1378.2L1232.3 1376.3L1233.6 1379.1L1234.8 1378.6L1236 1376.2L1237.3 1376.4L1238.5 1375.6L1239.8 1374.6L1241 1376.1L1242.2 1377.9L1243.5 1376L1244.7 1374L1246 1376.3L1247.2 1374.4L1248.4 1376.4L1249.7 1377.5L1250.9 1378L1252.2 1378.4L1253.4 1374.8L1254.6 1371.7L1255.9 1376.2L1257.1 1375.8L1258.4 1377.6L1259.6 1377.4L1260.8 1375.7L1262.1 1376.3L1263.3 1377.7L1264.6 1375L1265.8 1372.3L1267 1376.8L1268.3 1376.4L1269.5 1375.2L1270.8 1378.4L1272 1375.9L1273.2 1374.8L1274.5 1376.5L1275.7 1379.2L1277 1374.1L1278.2 1377.6L1279.4 1373.8L1280.7 1377.3L1281.9 1375.2L1283.2 1375.3L1284.4 1377.3L1285.6 1380.5L1286.9 1372.8L1288.1 1375.6L1289.4 1374.5L1290.6 1378.1L1291.8 1376.1L1293.1 1374.4L1294.3 1377.5L1295.6 1377.1L1296.8 1375.7L1298 1377.4L1299.3 1376.5L1300.5 1377.6L1301.8 1373.9L1303 1377L1304.2 1377.5L1305.5 1374.2L1306.7 1382.2L1308 1378.6L1309.2 1376.3L1310.4 1374.8L1311.7 1375.3L1312.9 1375.7L1314.2 1376.5L1315.4 1373.3L1316.6 1373.6L1317.9 1378L1319.1 1373.2L1320.4 1379.2L1321.6 1375.3L1322.8 1372.9L1324.1 1373.9L1325.3 1378.5L1326.6 1375.9L1327.8 1373.6L1329 1377.7L1330.3 1376.3L1331.5 1374.2L1332.8 1373.3L1334 1372.5L1335.2 1375.3L1336.5 1376.1L1337.7 1377.9L1339 1378L1340.2 1377L1341.4 1372.5L1342.7 1374L1343.9 1376L1345.2 1374.6L1346.4 1375.2L1347.6 1374.2L1348.9 1374.9L1350.1 1376.7L1351.4 1375.8L1352.6 1372.2L1353.8 1373.9L1355.1 1372.6L1356.3 1371.7L1357.6 1376.4L1358.8 1374.5L1360 1378.9L1361.3 1375.7L1362.5 1375.4L1363.8 1373.4L1365 1373L1366.2 1375.7L1367.5 1373.3L1368.7 1377L1370 1375.9L1371.2 1375.8L1372.4 1374.4L1373.7 1372.3L1374.9 1376L1376.2 1372.7L1377.4 1373.6L1378.6 1374.9L1379.9 1372.7L1381.1 1372.4L1382.4 1370.5L1383.6 1374.7L1384.8 1375.7L1386.1 1370.8L1387.3 1374.2L1388.6 1375.4L1389.8 1374.9L1391 1373.3L1392.3 1370L1393.5 1368.3L1394.8 1369.4L1396 1371.3L1397.2 1372.6L1398.5 1372.2L1399.7 1369.3L1401 1370L1402.2 1368.1L1403.4 1365.3L1404.7 1367.1L1405.9 1369.9L1407.2 1369L1408.4 1367.5L1409.6 1367L1410.9 1370.9L1412.1 1367.2L1413.4 1365.5L1414.6 1363.2L1415.8 1364.3L1417.1 1365.8L1418.3 1363.8L1419.6 1365.4L1420.8 1363.3L1422 1368.9L1423.3 1362.9L1424.5 1365L1425.8 1361.8L1427 1363.4L1428.2 1364.2L1429.5 1362.8L1430.7 1359L1432 1364.6L1433.2 1363L1434.4 1359.8L1435.7 1360.4L1436.9 1362.3L1438.2 1359.5L1439.4 1361.9L1440.6 1358.2L1441.9 1360.6L1443.1 1361.7L1444.4 1359.2L1445.6 1360.1L1446.8 1360.4L1448.1 1362.1L1449.3 1361.5L1450.6 1359.6L1451.8 1359.5L1453 1358.1L1454.3 1357.9L1455.5 1357.6L1456.8 1357.2L1458 1359.6L1459.2 1357.4L1460.5 1356.1L1461.7 1356L1463 1357.1L1464.2 1358L1465.4 1355.9L1466.7 1355L1467.9 1357L1469.2 1358.3L1470.4 1354.5L1471.6 1355.4L1472.9 1352.6L1474.1 1360.3L1475.4 1353.8L1476.6 1353.4L1477.8 1355.9L1479.1 1354.7L1480.3 1356.6L1481.6 1353.5L1482.8 1355.1L1484 1355.2L1485.3 1355.6L1486.5 1358L1487.8 1354.4L1489 1352.8L1490.2 1355L1491.5 1352.8L1492.7 1355.7L1494 1354.4L1495.2 1354.1L1496.4 1350.9L1497.7 1350.9L1498.9 1352.5L1500.2 1353.4L1501.4 1349.6L1502.6 1352.4L1503.9 1353.7L1505.1 1352.1L1506.4 1354.8L1507.6 1353.6L1508.8 1355.9L1510.1 1351.8L1511.3 1353.8L1512.6 1348L1513.8 1351.5L1515 1354.6L1516.3 1352.2L1517.5 1352L1518.8 1350.7L1520 1356L1521.2 1355.3L1522.5 1353L1523.7 1353.7L1525 1353.1L1526.2 1350.7L1527.4 1354L1528.7 1352.5L1529.9 1352.2L1531.2 1355.8L1532.4 1354L1533.6 1352.2L1534.9 1355.3L1536.1 1354.4L1537.4 1355.3L1538.6 1354.7L1539.8 1355.7L1541.1 1355.9L1542.3 1353.9L1543.6 1359.7L1544.8 1356.6L1546 1352L1547.3 1358.9L1548.5 1355L1549.8 1359.2L1551 1362.1L1552.2 1359.6L1553.5 1360.9L1554.7 1364.2L1556 1364.1L1557.2 1364.9L1558.4 1364.6L1559.7 1365.8L1560.9 1363.1L1562.2 1366.5L1563.4 1367.7L1564.6 1369.6L1565.9 1369.8L1567.1 1366.8L1568.4 1368.1L1569.6 1365.7L1570.8 1369.7L1572.1 1373L1573.3 1370.9L1574.6 1369.4L1575.8 1371.3L1577 1371L1578.3 1369.3L1579.5 1370.1L1580.8 1371.6L1582 1373.7L1583.2 1371.3L1584.5 1371.4L1585.7 1370.2L1587 1372.8L1588.2 1371.1L1589.4 1376.5L1590.7 1373.5L1591.9 1367.8L1593.2 1376L1594.4 1374.1L1595.6 1373.5L1596.9 1374L1598.1 1372.6L1599.4 1372L1600.6 1372.3L1601.8 1373.4L1603.1 1374.4L1604.3 1377.2L1605.6 1374.4L1606.8 1375.2L1608 1375.5L1609.3 1372.3L1610.5 1371.9L1611.8 1372.2L1613 1376.5L1614.2 1371.2L1615.5 1374.8L1616.7 1372.2L1618 1378.4L1619.2 1371.3L1620.4 1371.5L1621.7 1372.9L1622.9 1371.7L1624.2 1375.1L1625.4 1375.5L1626.6 1375.5L1627.9 1377.6L1629.1 1372.1L1630.4 1374.1L1631.6 1373.1L1632.8 1372.5L1634.1 1374.5L1635.3 1377.8L1636.6 1372.2L1637.8 1377.8L1639 1374.4L1640.3 1373L1641.5 1371.7L1642.8 1375.4L1644 1374.2L1645.2 1373.6L1646.5 1372.8L1647.7 1373.6L1649 1373.2L1650.2 1374.1L1651.4 1370.5L1652.7 1374.3L1653.9 1375.7L1655.2 1375.3L1656.4 1371.4L1657.6 1374.1L1658.9 1374.4L1660.1 1376L1661.4 1375.5L1662.6 1375.8L1663.8 1373.6L1665.1 1375.1L1666.3 1373.7L1667.6 1373.3L1668.8 1371.1L1670 1374.5L1671.3 1373.5L1672.5 1371L1673.8 1376.3L1675 1373.2L1676.2 1374.6L1677.5 1374.5L1678.7 1373.5L1680 1374.2L1681.2 1375.5L1682.4 1372.5L1683.7 1371.4L1684.9 1375.8L1686.2 1374.8L1687.4 1372.5L1688.6 1375.8L1689.9 1371.7L1691.1 1374.1L1692.4 1374.5L1693.6 1373.9L1694.8 1374.7L1696.1 1373L1697.3 1370.9L1698.6 1372.8L1699.8 1374.9L1701 1374L1702.3 1373.8L1703.5 1373.3L1704.8 1375.9L1706 1373L1707.2 1374.4L1708.5 1374.4L1709.7 1372.2L1711 1375.3L1712.2 1374.7L1713.4 1375L1714.7 1371.4L1715.9 1376L1717.2 1373.2L1718.4 1373.8L1719.6 1374.6L1720.9 1375.5L1722.1 1372.9L1723.4 1374.4L1724.6 1373.9L1725.8 1373.8L1727.1 1373.8L1728.3 1372.1L1729.6 1373.7L1730.8 1375.9L1732 1372L1733.3 1370.9L1734.5 1376.3L1735.8 1371.3L1737 1373.1L1738.2 1372.6L1739.5 1374.1L1740.7 1373L1742 1374.5L1743.2 1372.8L1744.4 1371.7L1745.7 1378L1746.9 1373.9L1748.2 1374.6L1749.4 1371.4L1750.6 1372.4L1751.9 1372.8L1753.1 1375.4L1754.4 1372.2L1755.6 1374.5L1756.8 1373.1L1758.1 1372.5L1759.3 1375L1760.6 1374.2L1761.8 1371.8L1763 1374.8L1764.3 1371.3L1765.5 1374.6L1766.8 1373.5L1768 1377.7L1769.2 1374.6L1770.5 1377.5L1771.7 1374.7L1773 1372.9L1774.2 1374.9L1775.4 1371L1776.7 1371.4L1777.9 1373.4L1779.2 1376.3L1780.4 1375.2L1781.6 1371.1L1782.9 1369.9L1784.1 1374.1L1785.4 1370.7L1786.6 1371.5L1787.8 1372.3L1789.1 1371.7L1790.3 1371.9L1791.6 1373L1792.8 1375.2L1794 1372.2L1795.3 1373.5L1796.5 1374.2L1797.8 1374.3L1799 1373.2L1800.2 1372L1801.5 1373.2L1802.7 1370.7L1804 1373.2L1805.2 1375.6L1806.4 1374.4L1807.7 1367.9L1808.9 1374.3L1810.2 1374.3L1811.4 1372.6L1812.6 1374.5L1813.9 1374.4L1815.1 1373L1816.4 1372.8L1817.6 1371.1L1818.8 1375L1820.1 1369.2L1821.3 1373.8L1822.6 1372.5L1823.8 1373.2L1825 1372.4L1826.3 1373L1827.5 1371.5L1828.8 1371.4L1830 1376.1L1831.2 1372.5L1832.5 1375.5L1833.7 1374.4L1835 1373.4L1836.2 1373.6L1837.4 1372.9L1838.7 1374.7L1839.9 1372.8L1841.2 1372.3L1842.4 1374.1L1843.6 1372.9L1844.9 1373.9L1846.1 1371.8L1847.4 1372.8L1848.6 1374.6L1849.8 1374.5L1851.1 1370.9L1852.3 1372.6L1853.6 1370.9L1854.8 1374.2L1856 1371.1L1857.3 1369.5L1858.5 1370.7L1859.8 1370.6L1861 1376.9L1862.2 1371.6L1863.5 1374L1864.7 1371.3L1866 1373.3L1867.2 1374.8L1868.4 1374.2L1869.7 1374.9L1870.9 1374.2L1872.2 1372.1L1873.4 1373.4L1874.6 1372.7L1875.9 1371.6L1877.1 1376.2L1878.4 1370.7L1879.6 1370.1L1880.8 1371.5L1882.1 1374.3L1883.3 1371.7L1884.6 1372.8L1885.8 1371L1887 1374.5L1888.3 1372.9L1889.5 1372.4L1890.8 1374.8L1892 1370.8L1893.2 1374.8L1894.5 1373.7L1895.7 1370L1897 1371.9L1898.2 1373L1899.4 1370.2L1900.7 1370.6L1901.9 1374.6L1903.2 1376.9L1904.4 1374.9L1905.6 1373.1L1906.9 1372.2L1908.1 1370.2L1909.4 1373.3L1910.6 1371L1911.8 1372L1913.1 1372.1L1914.3 1373.4L1915.6 1372.8L1916.8 1368L1918 1370.8L1919.3 1373.5L1920.5 1374.1L1921.8 1373.1L1923 1373.5L1924.2 1369.7L1925.5 1371.6L1926.7 1371.8L1928 1373.3L1929.2 1371.8L1930.4 1370.7L1931.7 1373.2L1932.9 1371.6L1934.2 1372.6L1935.4 1368.6L1936.6 1371.6L1937.9 1372.4L1939.1 1373.9L1940.4 1371.5L1941.6 1368.5L1942.8 1369L1944.1 1373.2L1945.3 1373L1946.6 1370.8L1947.8 1369.7L1949 1373L1950.3 1370.2L1951.5 1371L1952.8 1368.4" stroke="#f00" stroke-width="10"/>
</g>
<g stroke="#0c2f8f" stroke-width="9.6" fill="none">
<line x1="161" y1="1017" x2="917" y2="1017" stroke-dasharray="35 32.6" stroke-dashoffset="13"/>
<line x1="161" y1="1393.5" x2="917" y2="1393.5" stroke-dasharray="35 32.6" stroke-dashoffset="13"/>
<line x1="165.5" y1="1012.5" x2="165.5" y2="1398" stroke-dasharray="38 38" stroke-dashoffset="15"/>
<line x1="912.5" y1="1012.5" x2="912.5" y2="1398" stroke-dasharray="38 38" stroke-dashoffset="15"/>
<line x1="555" y1="1016" x2="957" y2="675.7" stroke-dasharray="35.5 34.5"/>
</g>
<path d="M1024 619 L952.5 650.3 L977.3 658 L982 684 Z" fill="#0c2f8f"/>
<g clip-path="url(#ci)" fill="none" stroke-linejoin="round">
<path d="M1030 398.7L1031 398.9L1032 397.7L1033 391.8L1034 387.8L1035 388.7L1036 383.7L1037 380.6L1038 381L1039 380.4L1040 377.5L1041 377.2L1042 375.9L1043 374.9L1044 375.8L1045 373.3L1046 373.1L1047 373.7L1048 371.2L1049 372.5L1050 370.4L1051 370.9L1052 370.6L1053 371.7L1054 371.4L1055 369.2L1056 368.7L1057 368.4L1058 368.5L1059 368.7L1060 369.4L1061 368.2L1062 371.6L1063 370.7L1064 371.6L1065 369.5L1066 369.6L1067 368.3L1068 369.9L1069 368.9L1070 367.9L1071 368.3L1072 370L1073 369.5L1074 367.2L1075 364.5L1076 363L1077 366.4L1078 366.1L1079 365.9L1080 366.2L1081 366L1082 364L1083 364L1084 366.6L1085 367.2L1086 364.2L1087 363.8L1088 364.1L1089 362.6L1090 345.6L1091 305.3L1092 229.1L1093 120.2L1094 121.8L1095 119.7L1096 121.9L1097 121.6L1098 121L1099 227.7L1100 303L1101 343.8L1102 361.6L1103 364.9L1104 366.9L1105 367.7L1106 370L1107 371.3L1108 374.7L1109 372.2L1110 372.6L1111 372.7L1112 372L1113 371.9L1114 373.6L1115 372.4L1116 372.2L1117 372.9L1118 375L1119 371.6L1120 372.7L1121 373.7L1122 374.1L1123 375.6L1124 376.1L1125 372.9L1126 374.7L1127 376.3L1128 375.4L1129 372.9L1130 373.3L1131 374.3L1132 375.3L1133 373L1134 375.4L1135 373.6L1136 375.3L1137 375.5L1138 375.2L1139 376L1140 374.7L1141 375.1L1142 376.5L1143 374.2L1144 374.2L1145 373.2L1146 377.2L1147 374.1L1148 376.3L1149 375.3L1150 375.8L1151 374.8L1152 375.1L1153 376.6L1154 375.5L1155 374.1L1156 375.2L1157 373.7L1158 376.2L1159 376.6L1160 375.8L1161 377.5L1162 377.6L1163 375.4L1164 377L1165 375.3L1166 375.9L1167 375.4L1168 375.9L1169 374.2L1170 375.6L1171 374.2L1172 377.8L1173 375.2L1174 375.8L1175 373.9L1176 375L1177 376.6L1178 373.3L1179 376.4L1180 375.4L1181 378.7L1182 376.9L1183 377.2L1184 376.5L1185 377.4L1186 374.6L1187 378.3L1188 377.1L1189 374.1L1190 376.7L1191 376.2L1192 378.1L1193 375.9L1194 376.3L1195 376.8L1196 376L1197 378.4L1198 376.8L1199 375.4L1200 376.5L1201 376L1202 378.4L1203 374.9L1204 374L1205 378.9L1206 376L1207 377.1L1208 375.1L1209 373.9L1210 374.6L1211 373.2L1212 371.5L1213 369.1L1214 371.1L1215 371.6L1216 370.5L1217 366.5L1218 369.3L1219 365.1L1220 365.7L1221 365.9L1222 365.3L1223 363.7L1224 363.8L1225 363.7L1226 363.2L1227 363.4L1228 363.1L1229 361.6L1230 360L1231 361.4L1232 360L1233 358.6L1234 356.2L1235 359.1L1236 359.5L1237 359.8L1238 357.1L1239 358.2L1240 356.1L1241 358.5L1242 358.6L1243 357.2L1244 359L1245 359.6L1246 359.7L1247 357.3L1248 358.5L1249 359.8L1250 358.3L1251 358.1L1252 358.3L1253 359.8L1254 358.4L1255 356.3L1256 359.6L1257 362.5L1258 359.5L1259 360.7L1260 359.4L1261 358.8L1262 357.8L1263 359.9L1264 359.3L1265 360.5L1266 359.6L1267 360.3L1268 356.9L1269 360L1270 360.5L1271 360.1L1272 361.5L1273 359.8L1274 360.8L1275 357.5L1276 361.1L1277 361.1L1278 359.1L1279 357.5L1280 359.1L1281 360.3L1282 362.5L1283 359L1284 361.1L1285 361.4L1286 361.4L1287 359.9L1288 361.7L1289 359.2L1290 358.5L1291 360.9L1292 360L1293 358.2L1294 362.9L1295 362.3L1296 362.1L1297 360.2L1298 360.6L1299 359.5L1300 361.6L1301 361.3L1302 361.6L1303 363.6L1304 361.1L1305 361.6L1306 360L1307 363.9L1308 363.6L1309 359L1310 359.2L1311 364.3L1312 364.6L1313 363.1L1314 364L1315 360.5L1316 362.3L1317 363.3L1318 362L1319 361L1320 362L1321 361.1L1322 364.6L1323 361.5L1324 360.9L1325 359.1L1326 363.2L1327 360.7L1328 361.3L1329 360L1330 360.1L1331 359.3L1332 357.9L1333 358.7L1334 356.5L1335 357.2L1336 356.7L1337 356.1L1338 351.8L1339 353.4L1340 347.8L1341 343.2L1342 340.3L1343 340.9L1344 340.1L1345 341.6L1346 340.5L1347 344.9L1348 348.5L1349 352.3L1350 351.7L1351 355.6L1352 357.1L1353 359.2L1354 360.1L1355 361.8L1356 361.6L1357 364.4L1358 362.8L1359 365.6L1360 369.3L1361 365.9L1362 370.2L1363 370.1L1364 368.1L1365 369.6L1366 369.9L1367 367.8L1368 366.2L1369 368.5L1370 367L1371 369.3L1372 366L1373 370.8L1374 370.9L1375 366.4L1376 364.3L1377 367.1L1378 365.5L1379 365.6L1380 363.2L1381 362.9L1382 365.1L1383 362.1L1384 360.6L1385 363.5L1386 363L1387 361.3L1388 359.7L1389 362.8L1390 359.6L1391 360.3L1392 357L1393 356.2L1394 357.6L1395 358.5L1396 354.2L1397 353.9L1398 353.2L1399 354.5L1400 351.6L1401 351.1L1402 350.6L1403 349.2L1404 349.3L1405 344.2L1406 345.1L1407 343.9L1408 340.5L1409 341.1L1410 340L1411 337.8L1412 336.2L1413 337.3L1414 334.2L1415 331.8L1416 330.2L1417 327.1L1418 326L1419 324.3L1420 320.7L1421 320.2L1422 319L1423 318.6L1424 317.5L1425 318.3L1426 318.4L1427 319L1428 320.8L1429 321.1L1430 325.8L1431 327.4L1432 327.7L1433 329.5L1434 331.3L1435 332.5L1436 334.1L1437 338L1438 338.6L1439 342L1440 343.3L1441 344.9L1442 344.2L1443 349.7L1444 348.3L1445 346.4L1446 349.7L1447 350L1448 351.6L1449 349.9L1450 351.8L1451 351.4L1452 353.8L1453 352L1454 353.3L1455 354.2L1456 351.9L1457 353.4L1458 353.1L1459 355.2L1460 353.8L1461 351.8L1462 355.1L1463 351.7L1464 352.1L1465 352L1466 352.2L1467 350.1L1468 350.3L1469 349.6L1470 349.8L1471 347.9L1472 347.8L1473 345.9L1474 349.4L1475 346.8L1476 346.4L1477 342L1478 338.5L1479 336.3L1480 334.2L1481 333.9L1482 329.9L1483 327L1484 323.4L1485 324.2L1486 316.4L1487 313.8L1488 309.6L1489 306L1490 302.8L1491 301.3L1492 303.6L1493 302.3L1494 303.1L1495 304.1L1496 310.9L1497 314.7L1498 315.4L1499 320.2L1500 319L1501 323L1502 328.2L1503 326.8L1504 332.4L1505 335.4L1506 334.2L1507 338L1508 342.1L1509 345L1510 343.3L1511 346.3L1512 343.8L1513 344.3L1514 345.6L1515 345.6L1516 344.2L1517 344.7L1518 343.2L1519 342.7L1520 340.7L1521 338.3L1522 337L1523 335.2L1524 334.1L1525 333.9L1526 332.4L1527 331.5L1528 329.8L1529 328.7L1530 325.5L1531 325.5L1532 324.9L1533 324.4L1534 322.3L1535 327L1536 325.5L1537 326.9L1538 328.2L1539 332.7L1540 332.6L1541 335.5L1542 335L1543 337.5L1544 338.7L1545 338.5L1546 339.8L1547 337.8L1548 338.8L1549 340.1L1550 335.9L1551 338L1552 336.1L1553 332.8L1554 332.3L1555 329.2L1556 327.3L1557 323.3L1558 321L1559 317.8L1560 312.4L1561 310.5L1562 305.8L1563 300.3L1564 291L1565 278.2L1566 259.7L1567 239.2L1568 213.1L1569 175.3L1570 148.2L1571 130.6L1572 116.2L1573 119L1574 118.5L1575 122.7L1576 124.6L1577 129.1L1578 134.3L1579 142.7L1580 148.9L1581 164.9L1582 179.9L1583 201.5L1584 219.9L1585 242.3L1586 263.9L1587 284.6L1588 300.9L1589 311.7L1590 321.7L1591 331.6L1592 335.9L1593 339.1L1594 341.8L1595 346.7L1596 346.4L1597 349L1598 348.6L1599 350.1L1600 351.3L1601 352.6L1602 352.5L1603 354.3L1604 351L1605 356.5L1606 354.7L1607 354.8L1608 353.1L1609 355.5L1610 353.2L1611 354.1L1612 354.5L1613 354.9L1614 354.9L1615 353.1L1616 352.5L1617 356L1618 355.2L1619 355L1620 354.8L1621 354.9L1622 351.8L1623 354.3L1624 355.5L1625 354.4L1626 355.2L1627 354.8L1628 353.7L1629 353.3L1630 354.1L1631 355.6L1632 352.2L1633 355.5L1634 351.8L1635 356.9L1636 354.1L1637 354.5L1638 353.7L1639 355.6L1640 353.4L1641 356.1L1642 357.2L1643 354.4L1644 353.2L1645 355.4L1646 353.4L1647 353.9L1648 354.6L1649 355.7L1650 352.9L1651 355.3L1652 355L1653 354.2L1654 355.2L1655 354.5L1656 353.9L1657 351.8L1658 351.1L1659 354.3L1660 355.1L1661 352.7L1662 353.5L1663 355.7L1664 354.5L1665 350.9L1666 353.7L1667 352.2L1668 352.9L1669 351.9L1670 350.2L1671 353.7L1672 347.2L1673 348.7L1674 351.1L1675 349L1676 349L1677 346.8L1678 348.6L1679 346L1680 344.9L1681 344.3L1682 346.7L1683 344.6L1684 345.1L1685 344.1L1686 342.8L1687 340.9L1688 342.2L1689 342.1L1690 339.2L1691 339.4L1692 338.5L1693 336.4L1694 338.9L1695 338.8L1696 337.4L1697 337.3L1698 336.8L1699 337.7L1700 336.7L1701 336.4L1702 333.8L1703 335.1L1704 334L1705 332.3L1706 334L1707 330.9L1708 331.4L1709 334L1710 333.3L1711 329.8L1712 332.6L1713 332.2L1714 331.6L1715 330.4L1716 331.4L1717 332.7L1718 334L1719 332.7L1720 330.4L1721 332.4L1722 334.2L1723 331.2L1724 329.8L1725 332.8L1726 330.6L1727 331.4L1728 331.7L1729 331L1730 331.2L1731 332.1L1732 332.2L1733 331.6L1734 332.2L1735 331.6L1736 330.3L1737 333.4L1738 331.5L1739 331.7L1740 332.4L1741 330.8L1742 329.2L1743 328.7L1744 330.3L1745 332.2L1746 331.3L1747 331.5L1748 330L1749 328.7L1750 330.1L1751 328L1752 329.1L1753 330.8L1754 329.2L1755 328.1L1756 330.4L1757 330L1758 329.1L1759 326L1760 328.5L1761 326.5L1762 326.7L1763 326.4L1764 324.7L1765 324.7L1766 323L1767 320.4L1768 319.2L1769 321.4L1770 320.8L1771 316.5L1772 315.9L1773 314.6L1774 313.4L1775 308.7L1776 310.1L1777 307.8L1778 306.4L1779 304.5L1780 305.9L1781 303L1782 305.6L1783 305.7L1784 304.2L1785 308L1786 310.5L1787 311.5L1788 311.9L1789 317.3L1790 321L1791 326.1L1792 327L1793 328.6L1794 329.8L1795 332.7L1796 332.4L1797 334.1L1798 334.8L1799 335.8L1800 337.6L1801 340.9L1802 336.9L1803 339.5L1804 339.6L1805 337.5L1806 340L1807 337.7L1808 342.2L1809 342L1810 340.1L1811 340.8L1812 340.8L1813 340.8L1814 342.8L1815 340.5L1816 341.7L1817 340.8L1818 344L1819 342.8L1820 344.2L1821 341.9L1822 339.7L1823 344L1824 343.9L1825 344.7L1826 343.7L1827 344.8L1828 345.2L1829 343.5L1830 341.5L1831 345.4L1832 344.9L1833 344.2L1834 343.3L1835 347.3L1836 345.5L1837 345.6L1838 344.4L1839 344.7L1840 346.1L1841 344.3L1842 347.7L1843 345.7L1844 348.1L1845 346.8L1846 345.7L1847 349.5L1848 346.9L1849 346.5L1850 348.5L1851 347.9L1852 347.6L1853 345.1L1854 345.6L1855 349.1L1856 347.4L1857 348.9L1858 347.2L1859 348.8L1860 346.3L1861 348.4L1862 350.7L1863 349.3L1864 348.6L1865 349.1L1866 349.3L1867 351.9L1868 349.8L1869 350.3L1870 349.2L1871 350.7L1872 350.7L1873 349.3L1874 348.1L1875 350.1L1876 352L1877 349.9L1878 350.3L1879 352.4L1880 350.8L1881 348.6L1882 353.3L1883 351.4L1884 350.7L1885 351.1L1886 352.2L1887 351L1888 354.1L1889 352.4L1890 352.8L1891 352.4L1892 351.4L1893 352.5L1894 354.6L1895 351.8L1896 352.3L1897 353.1L1898 351.7L1899 353.9L1900 351.2L1901 353.4L1902 351.7L1903 352.7L1904 352.8L1905 356.7L1906 352.6L1907 354.7L1908 354L1909 352.6L1910 354.8L1911 353.6L1912 351.6L1913 351.5L1914 354L1915 354.1L1916 351.9L1917 354.1L1918 353.6L1919 354.7L1920 353.2L1921 354.3L1922 354.1L1923 355L1924 355.7L1925 357L1926 352.5L1927 354.8L1928 353.3L1929 353L1930 352.2L1931 353.8L1932 354.6L1933 354.3L1934 354.9L1935 354.9L1936 355.2L1937 354.7L1938 355.1L1939 354.9L1940 354.1L1941 353L1942 352.8L1943 355.3L1944 353.4L1945 355.7L1946 354.1L1947 353.7L1948 354.4L1949 354.9L1950 356.9" stroke="#000" stroke-width="9.5"/>
<path d="M1030 774.2L1031 770.2L1032 767.6L1033 764.9L1034 760.4L1035 757.2L1036 756.4L1037 754.4L1038 752.8L1039 748.8L1040 749.8L1041 747.6L1042 747.6L1043 744.8L1044 744.7L1045 743.1L1046 745.7L1047 740.9L1048 741.6L1049 741.8L1050 739L1051 742.1L1052 744.9L1053 743.7L1054 744.2L1055 742.6L1056 742L1057 742.6L1058 741.2L1059 740.6L1060 744.2L1061 742.8L1062 744.6L1063 741.1L1064 743.2L1065 741.9L1066 746.8L1067 746.3L1068 746.3L1069 747.8L1070 752.1L1071 750.4L1072 752.6L1073 753.6L1074 752.5L1075 755.7L1076 755.9L1077 752.5L1078 753L1079 753.1L1080 752.2L1081 751.3L1082 747.8L1083 748.1L1084 744.7L1085 744.7L1086 741.7L1087 733.7L1088 716.4L1089 700.2L1090 610.6L1091 500.5L1092 425.9L1093 387.1L1094 388.1L1095 387.2L1096 385.9L1097 386.5L1098 387.4L1099 395.7L1100 461.6L1101 549.6L1102 667.2L1103 713L1104 731.7L1105 744.4L1106 752.1L1107 755.5L1108 758.1L1109 759.3L1110 761.2L1111 760.3L1112 763L1113 764.7L1114 763L1115 765.2L1116 765.8L1117 766.2L1118 768.3L1119 767.4L1120 769L1121 769L1122 769.8L1123 768.8L1124 768.6L1125 770.4L1126 769.8L1127 770.9L1128 769.3L1129 769.2L1130 770.8L1131 770.1L1132 769.7L1133 770.8L1134 769.7L1135 770.1L1136 770.6L1137 768.6L1138 771.1L1139 769.9L1140 769.6L1141 769.9L1142 769.1L1143 767.7L1144 770L1145 769.4L1146 772L1147 771.8L1148 769.3L1149 770.4L1150 771.3L1151 770.4L1152 769.8L1153 769.6L1154 768.7L1155 771L1156 770.7L1157 770.2L1158 770L1159 772.1L1160 770.5L1161 771.6L1162 768.5L1163 768.9L1164 769L1165 770.9L1166 769.5L1167 771.6L1168 770.1L1169 771.2L1170 769.6L1171 771.1L1172 769.6L1173 769.9L1174 768.8L1175 767.8L1176 768.6L1177 770.4L1178 770.3L1179 768L1180 768.6L1181 768.3L1182 770.7L1183 768.9L1184 768.7L1185 770.6L1186 769.3L1187 770.6L1188 770.9L1189 769.3L1190 767.9L1191 769.7L1192 772.6L1193 768.7L1194 771.6L1195 769.2L1196 768.8L1197 771.8L1198 769.5L1199 767.4L1200 768.3L1201 768.9L1202 769.3L1203 771.5L1204 771.1L1205 770L1206 770.5L1207 769.4L1208 767.9L1209 770L1210 769.7L1211 771.1L1212 770.4L1213 771.4L1214 769.5L1215 769.5L1216 769.4L1217 768.9L1218 771.3L1219 770.2L1220 768.5L1221 769.2L1222 772.3L1223 772.8L1224 771.7L1225 770.1L1226 771.9L1227 769.9L1228 768.5L1229 770.1L1230 768.6L1231 769.7L1232 772.8L1233 770.6L1234 770.2L1235 771L1236 769.4L1237 770.3L1238 768.8L1239 767.9L1240 767.8L1241 765.3L1242 762.2L1243 762.5L1244 760.2L1245 759.3L1246 761.7L1247 760.8L1248 761.5L1249 760.4L1250 759.9L1251 760.7L1252 764.8L1253 759.9L1254 763.6L1255 765.4L1256 764.2L1257 768.2L1258 766.8L1259 768.6L1260 771.4L1261 771.3L1262 770.5L1263 771.2L1264 773.5L1265 774.3L1266 772.8L1267 770L1268 771.9L1269 773.9L1270 771.8L1271 772.5L1272 771.8L1273 772.7L1274 774.6L1275 774.3L1276 772.3L1277 775.3L1278 772.1L1279 775.2L1280 775.3L1281 772.7L1282 772.1L1283 775.8L1284 775.5L1285 775L1286 773.9L1287 775.5L1288 773.2L1289 776.2L1290 778.2L1291 775.2L1292 776.8L1293 774.5L1294 776.1L1295 775.6L1296 776.4L1297 775.6L1298 773.9L1299 777.5L1300 774.8L1301 777.7L1302 774.9L1303 777.4L1304 777L1305 776L1306 777.9L1307 777.1L1308 778.8L1309 777.7L1310 778.5L1311 774.5L1312 778.8L1313 776.8L1314 776.9L1315 775.6L1316 776.4L1317 777L1318 777.5L1319 777.5L1320 777L1321 777.7L1322 778.6L1323 777L1324 776.8L1325 779L1326 778.2L1327 776.5L1328 778.6L1329 778.3L1330 780.5L1331 779L1332 778.9L1333 777.8L1334 776.7L1335 777.8L1336 777.6L1337 777.6L1338 779.4L1339 776.7L1340 780.1L1341 776.8L1342 776.2L1343 779.2L1344 777.7L1345 777.1L1346 778.5L1347 777.4L1348 778.1L1349 777.5L1350 778.1L1351 776.8L1352 778.7L1353 777.2L1354 777.7L1355 774.8L1356 778L1357 776.6L1358 776.9L1359 776.6L1360 776.2L1361 775.5L1362 777.7L1363 775.8L1364 775.9L1365 775.6L1366 774.9L1367 776.9L1368 774.5L1369 775.5L1370 773.9L1371 772.8L1372 772.5L1373 774.7L1374 771.4L1375 771.4L1376 772.5L1377 773.7L1378 771.8L1379 773.7L1380 771.9L1381 771.5L1382 773.4L1383 771.7L1384 770.3L1385 769.8L1386 771.1L1387 771.5L1388 769.1L1389 768.9L1390 770L1391 767.5L1392 768.5L1393 767.9L1394 767L1395 765.7L1396 763.4L1397 765.5L1398 763.4L1399 764.4L1400 762.4L1401 761.5L1402 762.6L1403 760.4L1404 757.1L1405 757.9L1406 754.9L1407 752.3L1408 752.6L1409 750.9L1410 750.5L1411 749L1412 747.6L1413 743.9L1414 743.2L1415 739.6L1416 740.8L1417 738.8L1418 735.2L1419 737.5L1420 736.2L1421 732.7L1422 731.1L1423 732.7L1424 732.9L1425 732L1426 733.6L1427 734.7L1428 732.3L1429 733.1L1430 734.5L1431 740L1432 740.2L1433 744.1L1434 747.7L1435 751.3L1436 754.1L1437 759.4L1438 761.1L1439 763.7L1440 764.9L1441 768.1L1442 770.3L1443 772.8L1444 771.1L1445 772.1L1446 771.6L1447 768.4L1448 772L1449 773.8L1450 769.7L1451 772.8L1452 769.7L1453 770.6L1454 770.8L1455 771.9L1456 770.6L1457 770.4L1458 771.3L1459 771.1L1460 769.5L1461 770L1462 770.9L1463 769.5L1464 767.3L1465 768.3L1466 766L1467 770.4L1468 767.5L1469 764.8L1470 765.8L1471 766.2L1472 765.5L1473 763.1L1474 761.3L1475 759L1476 759.6L1477 758.2L1478 755L1479 752.8L1480 750.6L1481 747.6L1482 745.8L1483 744.9L1484 742.6L1485 740.9L1486 737.6L1487 737.9L1488 734.2L1489 735.9L1490 733L1491 732.9L1492 731.2L1493 731.8L1494 731.1L1495 732.8L1496 731.1L1497 735.7L1498 735.6L1499 737.4L1500 737.6L1501 739.5L1502 739L1503 739.8L1504 741.5L1505 741.4L1506 745.6L1507 745.5L1508 747L1509 747.4L1510 750.4L1511 752.1L1512 751.2L1513 753.7L1514 753.2L1515 753.2L1516 750.6L1517 751.3L1518 753.5L1519 752.8L1520 753.5L1521 749.1L1522 749.9L1523 746L1524 745.9L1525 744.5L1526 743.9L1527 744.3L1528 744.9L1529 742.4L1530 739.9L1531 742.6L1532 740.8L1533 738.1L1534 741.8L1535 740.1L1536 741.2L1537 739.6L1538 740L1539 741.6L1540 739.4L1541 741.9L1542 743.4L1543 743.3L1544 743.1L1545 743L1546 743.4L1547 746.2L1548 745L1549 745L1550 743.8L1551 745.5L1552 745.5L1553 740.1L1554 743L1555 739.1L1556 734.7L1557 729.2L1558 731.1L1559 725.1L1560 719L1561 712.3L1562 709L1563 697.6L1564 689.1L1565 674L1566 655.8L1567 639L1568 620.6L1569 602.2L1570 580.3L1571 560.5L1572 538.7L1573 523.7L1574 504.8L1575 489.2L1576 472.1L1577 460.6L1578 447.3L1579 438.8L1580 427.6L1581 419.8L1582 417.8L1583 424.5L1584 437.9L1585 460L1586 485.1L1587 522L1588 560.1L1589 605.3L1590 647.5L1591 678.2L1592 701.1L1593 715.7L1594 729.1L1595 738.9L1596 748.3L1597 755.6L1598 759.5L1599 760.8L1600 765.1L1601 767.4L1602 764.3L1603 768.2L1604 772.9L1605 768.6L1606 769.7L1607 770L1608 773.7L1609 773.5L1610 773.6L1611 774.4L1612 772.3L1613 771L1614 774.5L1615 771.9L1616 775.2L1617 775.3L1618 775.1L1619 776.8L1620 775.9L1621 774L1622 774.8L1623 776.9L1624 775.4L1625 777.2L1626 776.2L1627 777.1L1628 775.7L1629 776.8L1630 775L1631 776.4L1632 778.1L1633 776.7L1634 776.4L1635 778.8L1636 778.8L1637 776.3L1638 778.2L1639 778.6L1640 776.8L1641 777L1642 777.8L1643 780L1644 778L1645 777.9L1646 774.5L1647 778.4L1648 779.1L1649 776.3L1650 778.7L1651 778.1L1652 778.5L1653 777.4L1654 777.3L1655 780.4L1656 779.4L1657 775.6L1658 774.5L1659 777L1660 776.9L1661 776.3L1662 775.7L1663 777.6L1664 771.6L1665 774L1666 775.9L1667 775.5L1668 775.2L1669 773.4L1670 776.3L1671 775.1L1672 774.7L1673 773.9L1674 771.2L1675 772L1676 770.8L1677 772.2L1678 769.9L1679 771.6L1680 770.4L1681 771L1682 767.8L1683 769L1684 770.3L1685 770.7L1686 767.9L1687 770.1L1688 772.3L1689 768.5L1690 767.4L1691 765.7L1692 765.8L1693 766.9L1694 767L1695 767.8L1696 769.2L1697 765.5L1698 766.7L1699 768.1L1700 766.7L1701 766L1702 765.8L1703 763.6L1704 763.3L1705 765.9L1706 766.5L1707 766L1708 765.8L1709 766.4L1710 766L1711 763.5L1712 764.1L1713 760.7L1714 764.9L1715 763.6L1716 763.3L1717 764.3L1718 761.2L1719 762.9L1720 761.5L1721 764.4L1722 760.6L1723 761.3L1724 762.5L1725 763.9L1726 761.6L1727 759.6L1728 760.3L1729 761.5L1730 761.7L1731 759.2L1732 762.1L1733 759.3L1734 759.1L1735 759.9L1736 758.4L1737 758.3L1738 759.4L1739 756.4L1740 758.9L1741 757.7L1742 759.5L1743 757.7L1744 759.9L1745 759.1L1746 759.1L1747 758.7L1748 757.1L1749 758.6L1750 758.8L1751 758L1752 758.2L1753 758.1L1754 757.2L1755 756.7L1756 757.4L1757 757.4L1758 757.9L1759 758.5L1760 756.5L1761 756.2L1762 759.3L1763 756.6L1764 756.5L1765 755.4L1766 756.9L1767 753.5L1768 755.3L1769 755.9L1770 755.2L1771 756.4L1772 757.5L1773 756.5L1774 755.5L1775 752.9L1776 754.9L1777 757.5L1778 757.8L1779 756.6L1780 757L1781 757L1782 754.2L1783 755.8L1784 755.8L1785 757.6L1786 758.5L1787 757.5L1788 760.2L1789 758L1790 757.9L1791 758.2L1792 756.8L1793 760.7L1794 759.5L1795 761.5L1796 761.6L1797 762.2L1798 759.7L1799 761.7L1800 762.2L1801 763.3L1802 761.8L1803 762L1804 765L1805 761.9L1806 764.1L1807 762.5L1808 765L1809 763.4L1810 763.6L1811 763L1812 761.7L1813 766.5L1814 764.3L1815 766.3L1816 765.3L1817 763.3L1818 763.9L1819 765.3L1820 764.8L1821 763.8L1822 765.2L1823 765.9L1824 766.4L1825 767.1L1826 765.1L1827 764.5L1828 764.6L1829 761.8L1830 766.8L1831 767.2L1832 760.3L1833 765.4L1834 764.5L1835 764.9L1836 762.9L1837 765.1L1838 762.6L1839 766.1L1840 766.5L1841 766.9L1842 763.2L1843 763.8L1844 764.5L1845 767.1L1846 765.1L1847 767.4L1848 765.7L1849 766.3L1850 763.6L1851 763.3L1852 764.5L1853 764L1854 763.6L1855 766.3L1856 767.6L1857 764.6L1858 765.5L1859 767.4L1860 765.8L1861 766.7L1862 766.7L1863 767.4L1864 767.3L1865 766.3L1866 764.6L1867 767.4L1868 764.6L1869 766.2L1870 766.7L1871 769.9L1872 767.1L1873 766.8L1874 765.8L1875 766.1L1876 764.3L1877 763.5L1878 766.2L1879 766.7L1880 765.9L1881 766.2L1882 766.2L1883 769L1884 765.9L1885 769.3L1886 765.9L1887 766.6L1888 766.9L1889 767.8L1890 769L1891 768.5L1892 768.7L1893 767.8L1894 767.5L1895 767.4L1896 766.2L1897 770.7L1898 767.8L1899 767.1L1900 766.6L1901 767.9L1902 767L1903 769.9L1904 770.2L1905 768L1906 770.7L1907 770.2L1908 769.8L1909 769.9L1910 769.3L1911 771.1L1912 767.8L1913 771.2L1914 770.3L1915 767.5L1916 770.3L1917 771.1L1918 772L1919 771.5L1920 770.3L1921 772.1L1922 772.1L1923 767.9L1924 770.9L1925 772.1L1926 771.9L1927 773.2L1928 775.9L1929 773.5L1930 773.1L1931 773.8L1932 772.9L1933 773.6L1934 773.7L1935 775.6L1936 774.4L1937 775.5L1938 776.1L1939 774.5L1940 776.9L1941 778.5L1942 776.3L1943 777.2L1944 778.6L1945 779.1L1946 778L1947 777.6L1948 778.8L1949 777L1950 777.6" stroke="#f00" stroke-width="9.5"/>
</g>
<g stroke="#0c2f8f" stroke-width="9.6" fill="none">
<line x1="1242" y1="368" x2="1242" y2="755" stroke-dasharray="36 34.2"/>
<line x1="1344" y1="368" x2="1344" y2="755" stroke-dasharray="36 34.2"/>
<line x1="1422" y1="340" x2="1422" y2="727" stroke-dasharray="36 34.2"/>
<line x1="1490" y1="340" x2="1490" y2="727" stroke-dasharray="36 34.2"/>
<line x1="1569" y1="331" x2="1569" y2="437" stroke-dasharray="36 34.2"/>
<line x1="1713" y1="368" x2="1713" y2="755" stroke-dasharray="36 34.2"/>
<line x1="1782" y1="340" x2="1782" y2="727" stroke-dasharray="36 34.2"/>
</g>
<g font-family="'Liberation Sans', Arial, sans-serif" fill="#000" style="font-kerning:none"><text transform="translate(106.2 1082.4) rotate(-90) scale(1.0143 1)" font-size="104.7">Intensity (a.u.)</text><text transform="translate(733 1647) scale(0.9993 1)" font-size="104.8">Wavelength (nm)</text><text transform="translate(470.2 1532.8) scale(0.9840 1)" font-size="107.2" text-anchor="middle">300</text><text transform="translate(842.7 1532.8) scale(0.9840 1)" font-size="107.2" text-anchor="middle">600</text><text transform="translate(1215.2 1532.8) scale(0.9840 1)" font-size="107.2" text-anchor="middle">900</text><text transform="translate(1587.6 1532.8) scale(0.9840 1)" font-size="107.2" text-anchor="middle">1200</text><text transform="translate(1960.1 1532.8) scale(0.9840 1)" font-size="107.2" text-anchor="middle">1500</text><text transform="translate(278.7 509.7) scale(1.0413 1)" font-size="114.1">(c)</text><text transform="translate(295.3 1132.2) scale(1.0479 1)" font-size="115.9">(b)</text><text transform="translate(295.3 1336.7) scale(1.0587 1)" font-size="114.7">(a)</text><text transform="translate(650.3 642.6) scale(1.0012 1)" font-size="83.9">482</text><text transform="translate(886.1 853.1) scale(0.9979 1)" font-size="83.2">706</text><text transform="translate(1521 996.2) scale(0.9822 1)" font-size="83">1238</text><text transform="translate(1384.8 1328) scale(0.9538 1)" font-size="83">1150.9</text><text transform="translate(1165.5 213.2) rotate(-90) scale(0.9763 1)" font-size="83.9">97.9</text><text transform="translate(1262.2 328.9) rotate(-90) scale(0.9571 1)" font-size="86.4">203.7</text><text transform="translate(1364.8 329.5) rotate(-90) scale(0.9687 1)" font-size="85.8">274.2</text><text transform="translate(1448.2 299.5) rotate(-90) scale(0.9726 1)" font-size="84.7">331.6</text><text transform="translate(1519.9 277.1) rotate(-90) scale(0.9743 1)" font-size="84.3">381.5</text><text transform="translate(1660.2 278.2) rotate(-90) scale(0.9986 1)" font-size="82.8">438.3</text><text transform="translate(1732.2 316.3) rotate(-90) scale(0.9735 1)" font-size="84.7">536.7</text><text transform="translate(1807.7 277.3) rotate(-90) scale(0.9751 1)" font-size="84.3">585.5</text><text transform="translate(1810.1 277.5) scale(1.0476 1)" font-size="106">(b)</text><text transform="translate(1800.9 722.1) scale(1.0373 1)" font-size="105.1">(a)</text><text transform="translate(1149.5 889.5) scale(0.9881 1)" font-size="94.9">200</text><text transform="translate(1439.1 888.7) scale(1.0175 1)" font-size="93.8">400</text><text transform="translate(1730.5 888.7) scale(1.0105 1)" font-size="93.8">600</text></g>
</svg>
</body></html>
